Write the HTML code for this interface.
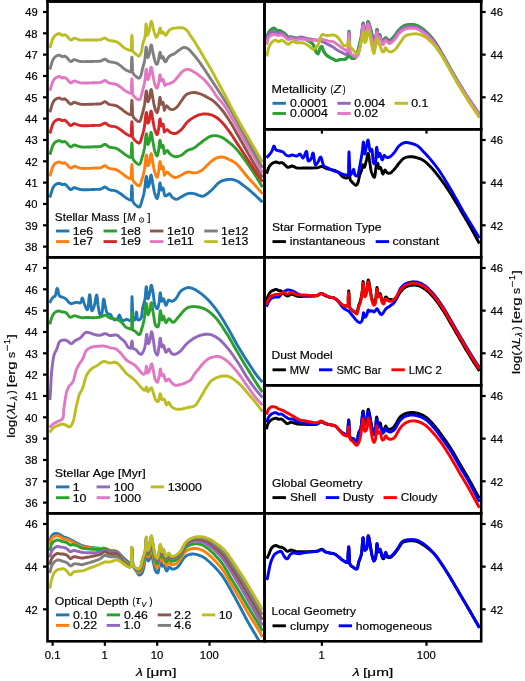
<!DOCTYPE html><html><head><meta charset="utf-8"><style>html,body{margin:0;padding:0;background:#fff;overflow:hidden}svg{display:block;will-change:transform}</style></head><body><svg width="525" height="681" viewBox="0 0 525 681" font-family="Liberation Sans, sans-serif">
<rect width="525" height="681" fill="#fff"/>
<defs>
<clipPath id="cL1"><rect x="47.5" y="1.3" width="217.0" height="256.0"/></clipPath>
<clipPath id="cL2"><rect x="47.5" y="257.3" width="217.0" height="255.99999999999994"/></clipPath>
<clipPath id="cL3"><rect x="47.5" y="513.3" width="217.0" height="128.0"/></clipPath>
<clipPath id="cR1"><rect x="264.5" y="1.3" width="216.7" height="128.0"/></clipPath>
<clipPath id="cR2"><rect x="264.5" y="129.3" width="216.7" height="128.0"/></clipPath>
<clipPath id="cR3"><rect x="264.5" y="257.3" width="216.7" height="128.0"/></clipPath>
<clipPath id="cR4"><rect x="264.5" y="385.3" width="216.7" height="127.99999999999994"/></clipPath>
<clipPath id="cR5"><rect x="264.5" y="513.3" width="216.7" height="128.0"/></clipPath>
</defs>
<polyline clip-path="url(#cL1)" points="49.80,197.50 50.03,196.87 50.30,196.10 50.63,195.04 51.03,193.62 51.50,192.00 52.01,190.34 52.55,188.82 53.10,187.60 53.79,186.43 54.52,185.48 55.40,184.70 56.64,183.98 58.06,183.46 59.40,183.30 60.42,183.67 61.37,184.31 62.30,184.70 63.47,184.37 64.60,184.10 65.73,184.79 66.90,185.90 67.84,186.88 68.85,188.08 69.89,189.11 70.90,189.60 71.94,189.16 72.96,188.21 74.00,187.60 74.97,187.70 75.96,188.10 77.00,188.50 78.20,188.89 79.46,189.29 81.00,189.60 82.08,189.70 83.34,189.75 84.75,189.77 86.26,189.75 87.83,189.71 89.41,189.65 90.96,189.59 92.44,189.52 93.80,189.45 95.00,189.40 96.38,189.37 97.65,189.35 98.83,189.32 99.93,189.22 101.00,189.00 102.42,188.28 103.72,187.39 105.00,187.00 105.97,187.35 106.91,188.09 107.89,188.93 109.00,189.60 110.28,189.97 111.71,190.20 113.20,190.39 114.66,190.62 116.00,191.00 117.36,191.63 118.62,192.38 119.83,193.19 121.00,194.00 122.04,194.77 123.03,195.57 124.00,196.36 125.00,197.10 126.02,197.79 127.07,198.46 128.09,199.05 129.00,199.50 130.05,199.98 130.90,200.00 131.26,199.27 131.39,197.96 131.39,196.31 131.37,194.58 131.40,193.00 131.50,191.32 131.60,189.39 131.70,187.58 131.80,186.23 131.90,185.70 132.00,186.22 132.10,187.54 132.20,189.34 132.30,191.27 132.40,193.00 132.44,194.41 132.43,195.91 132.41,197.42 132.45,198.88 132.60,200.23 132.90,201.40 133.43,202.49 134.11,203.43 134.88,204.25 135.70,205.00 136.88,206.03 138.16,206.91 139.30,207.10 139.91,206.59 140.44,205.61 140.89,204.32 141.31,202.85 141.70,201.36 142.10,200.00 142.52,198.65 142.92,197.30 143.29,195.92 143.64,194.49 143.97,192.99 144.30,191.40 144.53,190.08 144.74,188.53 144.95,186.81 145.14,185.00 145.33,183.18 145.52,181.43 145.70,179.83 145.88,178.44 146.05,177.36 146.23,176.65 146.40,176.40 146.59,176.85 146.76,178.05 146.92,179.75 147.08,181.70 147.24,183.66 147.43,185.38 147.65,186.61 147.90,187.10 148.35,186.68 148.84,185.59 149.30,184.30 149.60,183.10 149.87,181.51 150.13,179.73 150.37,177.98 150.61,176.47 150.85,175.40 151.10,175.00 151.36,175.35 151.61,176.29 151.86,177.67 152.11,179.32 152.37,181.08 152.63,182.79 152.90,184.30 153.18,185.75 153.45,187.26 153.72,188.79 154.01,190.30 154.31,191.75 154.64,193.10 155.00,194.30 155.50,195.73 156.06,197.14 156.61,198.20 157.10,198.60 157.55,197.99 157.93,196.54 158.27,194.70 158.60,192.90 158.83,191.45 159.04,189.67 159.23,187.77 159.41,185.94 159.60,184.39 159.79,183.31 160.00,182.90 160.25,183.62 160.48,185.35 160.73,187.43 161.03,189.20 161.40,190.00 162.13,188.95 162.90,187.90 163.26,188.48 163.55,189.82 163.83,191.57 164.13,193.38 164.51,194.87 165.00,195.70 166.02,195.80 167.10,195.40 168.21,194.34 169.30,193.60 170.18,194.34 171.07,195.80 172.10,197.10 173.06,197.86 174.12,198.57 175.25,199.09 176.40,199.30 177.49,199.09 178.62,198.55 179.78,197.83 180.94,197.07 182.10,196.40 183.25,195.79 184.40,195.13 185.56,194.51 186.72,193.97 187.90,193.60 189.30,193.38 190.72,193.32 192.16,193.41 193.60,193.60 194.90,193.91 196.26,194.36 197.60,194.87 198.86,195.35 200.00,195.70 201.04,196.02 201.96,196.25 203.00,196.20 203.99,195.85 205.10,195.25 206.30,194.45 207.55,193.52 208.80,192.51 210.03,191.48 211.20,190.50 212.24,189.55 213.26,188.49 214.27,187.37 215.26,186.23 216.25,185.12 217.23,184.08 218.22,183.16 219.20,182.40 220.35,181.69 221.49,181.13 222.62,180.68 223.79,180.31 225.00,180.00 226.39,179.72 227.85,179.51 229.34,179.40 230.80,179.39 232.20,179.50 233.44,179.73 234.66,180.08 235.85,180.51 236.97,180.99 238.00,181.50 239.24,182.26 240.35,183.11 241.50,184.00 242.57,184.77 243.67,185.56 244.81,186.39 246.00,187.30 247.01,188.11 248.04,188.95 249.11,189.85 250.20,190.78 251.33,191.77 252.50,192.80 253.44,193.65 254.46,194.57 255.52,195.55 256.61,196.56 257.71,197.58 258.79,198.60 259.83,199.59 260.81,200.53 261.71,201.41 262.50,202.20" fill="none" stroke="#1f77b4" stroke-width="2.9" stroke-linejoin="round" stroke-linecap="butt"/>
<polyline clip-path="url(#cL1)" points="49.80,176.17 50.03,175.55 50.03,175.53 50.30,174.77 50.30,174.77 50.59,173.84 50.63,173.72 50.94,172.62 51.03,172.29 51.33,171.26 51.50,170.67 51.75,169.86 52.01,169.01 52.18,168.55 52.55,167.49 52.60,167.39 53.10,166.27 53.13,166.22 53.67,165.29 53.79,165.10 54.30,164.43 54.52,164.15 55.33,163.44 55.40,163.37 56.50,162.74 56.64,162.66 57.43,162.37 58.06,162.13 58.42,162.09 59.40,161.97 59.40,161.97 60.39,162.33 60.42,162.34 61.35,162.97 61.37,162.98 62.30,163.37 63.47,163.05 63.47,163.04 64.60,162.77 65.73,163.46 65.74,163.46 66.90,164.57 67.84,165.55 67.85,165.57 68.85,166.75 68.86,166.76 69.89,167.78 69.89,167.79 70.90,168.27 71.93,167.83 71.94,167.83 72.96,166.88 72.96,166.88 74.00,166.27 74.97,166.37 74.99,166.38 75.96,166.77 76.00,166.78 77.00,167.17 77.95,167.48 78.20,167.56 78.90,167.79 79.46,167.97 80.00,168.07 81.00,168.27 81.20,168.29 82.08,168.37 82.56,168.39 83.34,168.42 84.02,168.43 84.75,168.44 85.52,168.43 86.26,168.42 87.00,168.40 87.83,168.38 88.32,168.36 89.41,168.33 89.67,168.31 90.96,168.26 91.04,168.25 92.40,168.19 92.44,168.19 93.73,168.13 93.80,168.12 95.00,168.07 96.28,168.04 96.38,168.04 97.53,168.03 97.65,168.03 98.74,167.99 98.83,167.99 99.90,167.89 99.93,167.89 101.00,167.67 102.42,166.95 102.43,166.94 103.72,166.07 103.76,166.05 105.00,165.67 105.97,166.02 106.01,166.04 106.91,166.76 106.94,166.78 107.89,167.60 108.00,167.67 109.00,168.27 109.15,168.32 110.28,168.64 110.44,168.67 111.71,168.88 111.75,168.88 113.00,169.04 113.20,169.06 114.38,169.25 114.66,169.29 115.71,169.59 116.00,169.67 117.00,170.13 117.36,170.30 118.03,170.70 118.62,171.05 119.03,171.32 119.83,171.86 120.01,171.99 121.00,172.67 122.00,173.41 122.04,173.44 122.98,174.20 123.03,174.24 123.97,175.01 124.00,175.03 125.00,175.77 126.02,176.46 126.36,176.68 127.07,177.13 127.76,177.53 128.09,177.72 129.00,178.17 130.05,178.66 130.06,178.66 130.90,178.67 130.90,178.67 131.23,178.00 131.26,177.94 131.38,176.72 131.39,176.63 131.39,174.98 131.39,173.25 131.40,171.67 131.42,171.40 131.42,171.39 131.42,171.39 131.42,171.39 131.48,170.27 131.50,169.99 131.57,168.71 131.60,168.06 131.65,167.16 131.70,166.25 131.73,165.80 131.80,164.90 131.82,164.81 131.90,164.37 131.98,164.80 132.00,164.89 132.06,165.72 132.10,166.22 132.15,166.99 132.20,168.01 132.23,168.50 132.30,169.94 132.31,170.12 132.40,171.67 132.44,173.08 132.44,174.58 132.44,176.09 132.45,176.98 132.45,177.00 132.45,177.01 132.45,177.55 132.50,177.97 132.60,178.90 132.67,179.16 132.90,180.07 133.00,180.28 133.43,181.16 133.74,181.59 134.11,182.10 134.69,182.72 134.88,182.92 135.70,183.67 136.80,184.63 136.88,184.70 137.97,185.45 138.16,185.58 139.00,185.72 139.30,185.77 139.78,185.37 139.91,185.26 140.42,184.31 140.44,184.28 140.89,182.99 141.00,182.62 141.31,181.52 141.36,181.34 141.66,180.19 141.70,180.04 141.94,179.24 142.10,178.67 142.19,178.38 142.44,177.58 142.52,177.32 142.71,176.69 142.92,175.97 143.00,175.65 143.29,174.59 143.40,174.13 143.64,173.16 143.83,172.30 143.97,171.66 144.26,170.27 144.30,170.07 144.53,168.76 144.66,167.78 144.74,167.20 144.95,165.48 145.00,164.98 145.14,163.67 145.20,163.10 145.33,161.85 145.36,161.56 145.49,160.33 145.52,160.10 145.60,159.37 145.69,158.54 145.70,158.50 145.78,157.85 145.87,157.15 145.88,157.11 145.98,156.50 146.05,156.03 146.10,155.83 146.23,155.32 146.24,155.30 146.37,155.12 146.40,155.07 146.50,155.31 146.59,155.53 146.63,155.84 146.76,156.73 146.78,156.99 146.92,158.43 146.96,158.89 147.08,160.38 147.16,161.34 147.24,162.33 147.40,163.77 147.43,164.05 147.65,165.28 147.89,165.75 147.90,165.77 148.35,165.35 148.45,165.13 148.84,164.26 149.00,163.81 149.30,162.97 149.35,162.77 149.60,161.78 149.70,161.17 149.87,160.18 150.05,158.91 150.13,158.40 150.37,156.65 150.40,156.45 150.61,155.14 150.74,154.54 150.85,154.07 151.08,153.71 151.10,153.67 151.36,154.02 151.40,154.19 151.61,154.96 151.73,155.66 151.86,156.34 152.06,157.62 152.11,157.99 152.37,159.75 152.37,159.76 152.63,161.46 152.68,161.76 152.90,162.97 153.00,163.49 153.18,164.42 153.31,165.17 153.45,165.93 153.62,166.87 153.72,167.46 153.93,168.54 154.01,168.98 154.25,170.14 154.31,170.43 154.60,171.62 154.64,171.77 155.00,172.97 155.13,173.33 155.50,174.40 155.69,174.87 156.06,175.81 156.30,176.27 156.61,176.87 156.95,177.15 157.10,177.27 157.55,176.66 157.65,176.27 157.93,175.22 158.27,173.37 158.30,173.22 158.60,171.57 158.75,170.64 158.83,170.12 159.04,168.34 159.17,167.04 159.23,166.44 159.41,164.61 159.57,163.33 159.60,163.06 159.79,161.98 159.94,161.68 160.00,161.57 160.25,162.29 160.30,162.70 160.48,164.02 160.66,165.49 160.73,166.10 160.96,167.48 161.03,167.87 161.29,168.43 161.40,168.67 161.70,168.24 162.13,167.62 162.30,167.39 162.90,166.57 163.00,166.73 163.26,167.15 164.30,175.20 165.31,173.94 166.32,172.68 167.30,172.10 168.07,172.52 168.81,173.46 169.70,174.40 170.61,175.11 171.66,175.90 172.78,176.64 173.95,177.22 175.10,177.50 176.28,177.41 177.50,177.01 178.74,176.44 179.98,175.79 181.20,175.20 182.43,174.57 183.64,173.83 184.85,173.11 186.09,172.49 187.40,172.10 188.63,172.03 189.92,172.18 191.24,172.45 192.57,172.73 193.86,172.92 195.10,172.90 196.41,172.67 197.68,172.31 198.91,171.84 200.12,171.27 201.30,170.60 202.37,169.85 203.40,168.96 204.41,167.98 205.41,166.96 206.40,165.95 207.40,165.00 208.36,164.12 209.31,163.22 210.25,162.34 211.20,161.49 212.15,160.70 213.10,160.00 214.31,159.21 215.52,158.51 216.74,157.93 218.00,157.50 219.29,157.22 220.62,157.07 221.96,157.06 223.30,157.20 224.43,157.47 225.56,157.87 226.69,158.37 227.84,158.93 229.00,159.50 230.13,160.04 231.28,160.58 232.44,161.16 233.61,161.82 234.80,162.59 236.00,163.50 236.88,164.28 237.79,165.17 238.70,166.16 239.63,167.22 240.56,168.33 241.50,169.49 242.44,170.67 243.37,171.86 244.30,173.03 245.21,174.17 246.12,175.27 247.00,176.30 248.03,177.47 249.06,178.61 250.08,179.74 251.09,180.86 252.09,181.95 253.07,183.04 254.03,184.10 254.98,185.16 255.90,186.20 256.92,187.36 257.93,188.52 258.92,189.66 259.89,190.77 260.81,191.86 261.68,192.90 262.50,193.90" fill="none" stroke="#ff7f0e" stroke-width="2.9" stroke-linejoin="round" stroke-linecap="butt"/>
<polyline clip-path="url(#cL1)" points="49.80,154.84 50.03,154.22 50.03,154.20 50.30,153.44 50.30,153.44 50.59,152.51 50.63,152.39 50.94,151.30 51.03,150.96 51.33,149.93 51.50,149.34 51.75,148.54 52.01,147.68 52.18,147.22 52.55,146.16 52.60,146.06 53.10,144.94 53.13,144.89 53.67,143.96 53.79,143.77 54.30,143.10 54.52,142.82 55.33,142.11 55.40,142.04 56.50,141.41 56.64,141.33 57.43,141.04 58.06,140.81 58.42,140.76 59.40,140.64 59.40,140.64 60.39,141.00 60.42,141.01 61.35,141.64 61.37,141.65 62.30,142.04 63.47,141.72 63.47,141.72 64.60,141.44 65.73,142.13 65.74,142.13 66.90,143.24 67.84,144.22 67.85,144.24 68.85,145.42 68.86,145.43 69.89,146.45 69.89,146.46 70.90,146.94 71.93,146.50 71.94,146.50 72.96,145.55 72.96,145.55 74.00,144.94 74.97,145.05 74.99,145.05 75.96,145.44 76.00,145.46 77.00,145.84 77.95,146.16 78.20,146.24 78.90,146.46 79.46,146.64 80.00,146.74 81.00,146.94 81.20,146.96 82.08,147.04 82.56,147.06 83.34,147.09 84.02,147.10 84.75,147.11 85.52,147.10 86.26,147.09 87.00,147.07 87.83,147.05 88.32,147.04 89.41,147.00 89.67,146.99 90.96,146.93 91.04,146.93 92.40,146.86 92.44,146.86 93.73,146.80 93.80,146.80 95.00,146.74 96.28,146.71 96.38,146.71 97.53,146.70 97.65,146.70 98.74,146.66 98.83,146.66 99.90,146.56 99.93,146.56 101.00,146.34 102.42,145.63 102.43,145.61 103.72,144.74 103.76,144.72 105.00,144.34 105.97,144.69 106.01,144.72 106.91,145.43 106.94,145.45 107.89,146.27 108.00,146.34 109.00,146.94 109.15,146.99 110.28,147.32 110.44,147.34 111.71,147.55 111.75,147.55 113.00,147.71 113.20,147.73 114.38,147.92 114.66,147.97 115.71,148.26 116.00,148.34 117.00,148.80 117.36,148.97 118.03,149.37 118.62,149.72 119.03,149.99 119.83,150.53 120.01,150.66 121.00,151.34 122.00,152.08 122.04,152.11 122.98,152.87 123.03,152.91 123.97,153.68 124.00,153.70 125.00,154.44 126.02,155.13 126.36,155.35 127.07,155.80 127.76,156.20 128.09,156.40 129.00,156.84 130.05,157.33 130.06,157.33 130.90,157.34 130.90,157.34 131.23,156.67 131.26,156.61 131.38,155.39 131.39,155.30 131.39,153.65 131.39,151.92 131.40,150.34 131.42,150.07 131.42,150.07 131.42,150.06 131.42,150.06 131.48,148.94 131.50,148.66 131.57,147.38 131.60,146.73 131.65,145.83 131.70,144.92 131.73,144.47 131.80,143.57 131.82,143.48 131.90,143.04 131.98,143.47 132.00,143.56 132.06,144.39 132.10,144.89 132.15,145.67 132.20,146.69 132.23,147.18 132.30,148.62 132.31,148.80 132.40,150.34 132.44,151.76 132.44,153.25 132.44,154.76 132.45,155.65 132.45,155.67 132.45,155.68 132.45,156.22 132.50,156.64 132.60,157.57 132.67,157.84 132.90,158.74 133.00,158.95 133.43,159.83 133.74,160.26 134.11,160.77 134.69,161.39 134.88,161.60 135.70,162.34 136.80,163.30 136.88,163.37 137.97,164.12 138.16,164.25 139.00,164.39 139.30,164.44 139.78,164.04 139.91,163.93 140.42,162.98 140.44,162.95 140.89,161.66 141.00,161.29 141.31,160.20 141.36,160.02 141.66,158.86 141.70,158.71 141.94,157.91 142.10,157.34 142.19,157.06 142.44,156.25 142.52,156.00 142.71,155.36 142.92,154.64 143.00,154.33 143.29,153.26 143.40,152.80 143.64,151.83 143.83,150.98 143.97,150.33 144.26,148.94 144.30,148.74 144.53,147.43 144.66,146.45 144.74,145.87 144.95,144.15 145.00,143.65 145.14,142.34 145.20,141.77 145.33,140.52 145.36,140.23 145.49,139.00 145.52,138.77 145.60,138.04 145.69,137.21 145.70,137.17 145.78,136.53 145.87,135.82 145.88,135.79 145.98,135.17 146.05,134.70 146.10,134.51 146.23,134.00 146.24,133.98 146.37,133.79 146.40,133.74 146.50,133.98 146.59,134.20 146.63,134.51 146.76,135.40 146.78,135.66 146.92,137.10 146.96,137.56 147.08,139.05 147.16,140.01 147.24,141.00 147.40,142.44 147.43,142.72 147.65,143.95 147.89,144.42 147.90,144.44 148.35,144.02 148.45,143.80 148.84,142.94 149.00,142.48 149.30,141.64 149.35,141.44 149.60,140.45 149.70,139.84 149.87,138.85 150.05,137.58 150.13,137.07 150.37,135.32 150.40,135.12 150.61,133.81 150.74,133.21 150.85,132.74 151.08,132.38 151.10,132.34 151.36,132.69 151.40,132.86 151.61,133.63 151.73,134.33 151.86,135.01 152.06,136.29 152.11,136.66 152.37,138.42 152.37,138.43 152.63,140.13 152.68,140.43 152.90,141.64 153.00,142.16 153.18,143.09 153.31,143.84 153.45,144.60 153.62,145.54 153.72,146.14 153.93,147.22 154.01,147.65 154.25,148.81 154.31,149.10 154.60,150.29 154.64,150.44 155.00,151.64 155.13,152.00 155.50,153.07 155.69,153.54 156.06,154.48 156.30,154.94 156.61,155.55 156.95,155.82 157.10,155.94 157.55,155.33 157.65,154.95 157.93,153.89 158.27,152.04 158.30,151.89 158.60,150.24 158.75,149.31 158.83,148.79 159.04,147.01 159.17,145.71 159.23,145.11 159.41,143.29 159.57,142.00 159.60,141.73 159.79,140.65 159.94,140.35 160.00,140.24 160.25,140.96 160.30,141.37 160.48,142.69 160.66,144.16 160.73,144.77 160.96,146.15 161.03,146.55 161.29,147.10 161.40,147.34 161.70,146.91 162.13,146.30 162.30,146.06 162.90,145.24 163.00,145.40 163.26,145.82 164.30,153.60 165.32,152.33 166.34,151.05 167.30,150.50 168.07,151.12 168.79,152.39 169.70,153.60 170.60,154.35 171.64,155.12 172.76,155.83 173.93,156.39 175.10,156.70 176.28,156.74 177.52,156.56 178.76,156.21 180.00,155.74 181.20,155.20 182.26,154.57 183.29,153.78 184.30,152.91 185.32,152.01 186.34,151.19 187.40,150.50 188.62,149.95 189.87,149.53 191.13,149.16 192.38,148.75 193.60,148.20 194.65,147.56 195.67,146.83 196.68,146.04 197.68,145.21 198.69,144.39 199.70,143.60 200.74,142.81 201.80,142.01 202.87,141.20 203.91,140.41 204.93,139.67 205.90,139.00 206.96,138.27 207.95,137.59 208.94,136.99 210.00,136.50 211.18,136.11 212.42,135.81 213.70,135.64 215.00,135.60 216.17,135.69 217.38,135.88 218.59,136.17 219.81,136.54 221.00,137.00 222.27,137.60 223.51,138.32 224.75,139.14 226.01,140.04 227.30,141.00 228.34,141.80 229.41,142.63 230.49,143.52 231.58,144.45 232.69,145.43 233.80,146.47 234.90,147.56 236.00,148.70 236.84,149.63 237.70,150.61 238.56,151.65 239.42,152.72 240.29,153.83 241.16,154.96 242.02,156.11 242.88,157.28 243.73,158.44 244.57,159.61 245.39,160.76 246.21,161.89 247.00,163.00 247.87,164.22 248.73,165.44 249.57,166.67 250.41,167.89 251.23,169.12 252.04,170.34 252.84,171.55 253.63,172.75 254.40,173.95 255.16,175.13 255.90,176.30 256.70,177.58 257.49,178.87 258.27,180.16 259.03,181.45 259.78,182.71 260.50,183.93 261.20,185.11 261.86,186.24 262.50,187.30" fill="none" stroke="#2ca02c" stroke-width="2.9" stroke-linejoin="round" stroke-linecap="butt"/>
<polyline clip-path="url(#cL1)" points="49.80,133.51 50.03,132.89 50.03,132.87 50.30,132.11 50.30,132.11 50.59,131.18 50.63,131.06 50.94,129.97 51.03,129.63 51.33,128.60 51.50,128.01 51.75,127.21 52.01,126.35 52.18,125.89 52.55,124.83 52.60,124.73 53.10,123.61 53.13,123.56 53.67,122.63 53.79,122.44 54.30,121.77 54.52,121.49 55.33,120.78 55.40,120.71 56.50,120.08 56.64,120.00 57.43,119.71 58.06,119.48 58.42,119.43 59.40,119.31 59.40,119.31 60.39,119.67 60.42,119.68 61.35,120.31 61.37,120.32 62.30,120.71 63.47,120.39 63.47,120.39 64.60,120.11 65.73,120.80 65.74,120.81 66.90,121.91 67.84,122.90 67.85,122.91 68.85,124.10 68.86,124.10 69.89,125.12 69.89,125.13 70.90,125.61 71.93,125.17 71.94,125.17 72.96,124.22 72.96,124.22 74.00,123.61 74.97,123.72 74.99,123.73 75.96,124.11 76.00,124.13 77.00,124.51 77.95,124.83 78.20,124.91 78.90,125.13 79.46,125.31 80.00,125.42 81.00,125.61 81.20,125.63 82.08,125.71 82.56,125.73 83.34,125.77 84.02,125.77 84.75,125.78 85.52,125.77 86.26,125.77 87.00,125.75 87.83,125.73 88.32,125.71 89.41,125.67 89.67,125.66 90.96,125.60 91.04,125.60 92.40,125.53 92.44,125.53 93.73,125.47 93.80,125.47 95.00,125.41 96.28,125.38 96.38,125.38 97.53,125.37 97.65,125.37 98.74,125.34 98.83,125.33 99.90,125.23 99.93,125.23 101.00,125.01 102.42,124.30 102.43,124.29 103.72,123.41 103.76,123.40 105.00,123.01 105.97,123.36 106.01,123.39 106.91,124.10 106.94,124.13 107.89,124.95 108.00,125.01 109.00,125.61 109.15,125.66 110.28,125.99 110.44,126.01 111.71,126.22 111.75,126.22 113.00,126.38 113.20,126.40 114.38,126.59 114.66,126.64 115.71,126.93 116.00,127.01 117.00,127.48 117.36,127.64 118.03,128.04 118.62,128.39 119.03,128.66 119.83,129.20 120.01,129.33 121.00,130.01 122.00,130.75 122.04,130.78 122.98,131.54 123.03,131.58 123.97,132.35 124.00,132.38 125.00,133.11 126.02,133.80 126.36,134.02 127.07,134.47 127.76,134.87 128.09,135.07 129.00,135.51 130.05,136.00 130.06,136.00 130.90,136.01 130.90,136.01 131.23,135.34 131.26,135.28 131.38,134.06 131.39,133.97 131.39,132.32 131.39,130.59 131.40,129.01 131.42,128.74 131.42,128.74 131.42,128.74 131.42,128.73 131.48,127.61 131.50,127.33 131.57,126.05 131.60,125.40 131.65,124.50 131.70,123.59 131.73,123.14 131.80,122.24 131.82,122.15 131.90,121.71 131.98,122.14 132.00,122.23 132.06,123.06 132.10,123.56 132.15,124.34 132.20,125.36 132.23,125.85 132.30,127.29 132.31,127.47 132.40,129.01 132.44,130.43 132.44,131.92 132.44,133.43 132.45,134.33 132.45,134.34 132.45,134.35 132.45,134.89 132.50,135.31 132.60,136.24 132.67,136.51 132.90,137.41 133.00,137.62 133.43,138.50 133.74,138.93 134.11,139.44 134.69,140.06 134.88,140.27 135.70,141.01 136.80,141.98 136.88,142.04 137.97,142.80 138.16,142.93 139.00,143.06 139.30,143.11 139.78,142.71 139.91,142.60 140.42,141.65 140.44,141.63 140.89,140.33 141.00,139.96 141.31,138.87 141.36,138.69 141.66,137.53 141.70,137.38 141.94,136.58 142.10,136.01 142.19,135.73 142.44,134.92 142.52,134.67 142.71,134.03 142.92,133.31 143.00,133.00 143.29,131.93 143.40,131.47 143.64,130.50 143.83,129.65 143.97,129.00 144.26,127.61 144.30,127.41 144.53,126.10 144.66,125.12 144.74,124.54 144.95,122.82 145.00,122.32 145.14,121.01 145.20,120.44 145.33,119.19 145.36,118.90 145.49,117.67 145.52,117.44 145.60,116.71 145.69,115.88 145.70,115.84 145.78,115.20 145.87,114.49 145.88,114.46 145.98,113.84 146.05,113.37 146.10,113.18 146.23,112.67 146.24,112.65 146.37,112.46 146.40,112.41 146.50,112.65 146.59,112.87 146.63,113.18 146.76,114.07 146.78,114.33 146.92,115.77 146.96,116.24 147.08,117.72 147.16,118.68 147.24,119.68 147.40,121.11 147.43,121.39 147.65,122.62 147.89,123.09 147.90,123.11 148.35,122.69 148.45,122.47 148.84,121.61 149.00,121.15 149.30,120.31 149.35,120.11 149.60,119.12 149.70,118.51 149.87,117.52 150.05,116.26 150.13,115.75 150.37,113.99 150.40,113.79 150.61,112.48 150.74,111.88 150.85,111.42 151.08,111.05 151.10,111.01 151.36,111.36 151.40,111.53 151.61,112.31 151.73,113.00 151.86,113.68 152.06,114.96 152.11,115.33 152.37,117.09 152.37,117.10 152.63,118.81 152.68,119.10 152.90,120.31 153.00,120.84 153.18,121.76 153.31,122.51 153.45,123.27 153.62,124.22 153.72,124.81 153.93,125.89 154.01,126.32 154.25,127.48 154.31,127.77 154.60,128.96 154.64,129.11 155.00,130.31 155.13,130.67 155.50,131.74 155.69,132.21 156.06,133.15 156.30,133.61 156.61,134.22 156.95,134.49 157.10,134.61 157.55,134.00 157.65,133.62 157.93,132.56 158.27,130.72 158.30,130.56 158.60,128.91 158.75,127.98 158.83,127.46 159.04,125.69 159.17,124.38 159.23,123.78 159.41,121.96 159.57,120.67 159.60,120.40 159.79,119.32 159.94,119.03 160.00,118.91 160.25,119.63 160.30,120.04 160.48,121.36 160.66,122.83 160.73,123.45 160.96,124.82 161.03,125.22 161.29,125.77 161.40,126.01 161.70,125.59 162.13,124.97 162.30,124.73 162.90,123.91 163.00,124.07 163.26,124.49 164.30,132.00 165.32,131.05 166.33,130.10 167.30,129.70 168.07,130.18 168.80,131.14 169.70,132.00 170.87,132.62 172.24,133.19 173.69,133.57 175.10,133.60 176.33,133.25 177.58,132.60 178.81,131.73 180.03,130.74 181.20,129.70 182.12,128.76 182.99,127.68 183.84,126.52 184.68,125.32 185.53,124.14 186.43,123.01 187.40,122.00 188.42,121.09 189.49,120.22 190.60,119.39 191.74,118.60 192.88,117.87 194.00,117.20 195.10,116.60 196.37,115.98 197.65,115.43 198.91,114.97 200.13,114.59 201.30,114.30 202.76,114.07 204.15,114.00 205.50,114.00 206.66,114.02 207.79,114.09 209.00,114.30 210.11,114.59 211.31,114.97 212.56,115.43 213.80,115.98 215.00,116.60 216.06,117.24 217.10,117.95 218.12,118.73 219.14,119.58 220.16,120.51 221.20,121.50 222.09,122.42 223.00,123.41 223.90,124.47 224.82,125.58 225.73,126.73 226.63,127.91 227.53,129.11 228.42,130.31 229.30,131.50 230.12,132.65 230.94,133.82 231.74,135.01 232.54,136.22 233.34,137.44 234.13,138.67 234.92,139.91 235.71,141.14 236.50,142.38 237.30,143.60 238.11,144.83 238.92,146.07 239.73,147.31 240.54,148.55 241.35,149.79 242.16,151.04 242.97,152.28 243.78,153.52 244.59,154.76 245.40,156.00 246.21,157.23 247.01,158.46 247.81,159.68 248.62,160.90 249.42,162.12 250.23,163.34 251.04,164.57 251.85,165.81 252.67,167.05 253.50,168.30 254.31,169.53 255.16,170.80 256.03,172.11 256.91,173.43 257.79,174.75 258.66,176.06 259.51,177.33 260.33,178.56 261.11,179.72 261.84,180.81 262.50,181.80" fill="none" stroke="#d62728" stroke-width="2.9" stroke-linejoin="round" stroke-linecap="butt"/>
<polyline clip-path="url(#cL1)" points="49.80,112.18 50.03,111.55 50.03,111.54 50.30,110.78 50.30,110.78 50.59,109.85 50.63,109.72 50.94,108.63 51.03,108.30 51.33,107.27 51.50,106.68 51.75,105.87 52.01,105.02 52.18,104.55 52.55,103.50 52.60,103.39 53.10,102.28 53.13,102.23 53.67,101.30 53.79,101.11 54.30,100.44 54.52,100.16 55.33,99.45 55.40,99.38 56.50,98.74 56.64,98.66 57.43,98.37 58.06,98.13 58.42,98.08 59.40,97.97 59.40,97.97 60.39,98.33 60.42,98.34 61.35,98.98 61.37,98.99 62.30,99.39 63.47,99.06 63.47,99.06 64.60,98.78 65.73,99.46 65.74,99.46 66.90,100.56 67.84,101.54 67.85,101.56 68.85,102.75 68.86,102.75 69.89,103.78 69.89,103.79 70.90,104.28 71.93,103.84 71.94,103.84 72.96,102.89 72.96,102.89 74.00,102.29 74.97,102.39 74.99,102.39 75.96,102.78 76.00,102.79 77.00,103.18 77.95,103.49 78.20,103.57 78.90,103.80 79.46,103.97 80.00,104.08 81.00,104.28 81.20,104.29 82.08,104.37 82.56,104.39 83.34,104.42 84.02,104.43 84.75,104.43 85.52,104.42 86.26,104.41 87.00,104.40 87.83,104.38 88.32,104.36 89.41,104.32 89.67,104.31 90.96,104.26 91.04,104.26 92.40,104.20 92.44,104.19 93.73,104.14 93.80,104.13 95.00,104.08 96.28,104.05 96.38,104.05 97.53,104.04 97.65,104.03 98.74,104.00 98.83,104.00 99.90,103.90 99.93,103.89 101.00,103.68 102.42,102.97 102.43,102.96 103.72,102.09 103.76,102.08 105.00,101.70 105.97,102.05 106.01,102.08 106.91,102.80 106.94,102.82 107.89,103.63 108.00,103.70 109.00,104.29 109.15,104.33 110.28,104.65 110.44,104.68 111.71,104.88 111.75,104.89 113.00,105.05 113.20,105.07 114.38,105.26 114.66,105.31 115.71,105.60 116.00,105.68 117.00,106.14 117.36,106.31 118.03,106.71 118.62,107.06 119.03,107.34 119.83,107.88 120.01,108.01 121.00,108.70 122.00,109.44 122.04,109.48 122.98,110.24 123.03,110.28 123.97,111.05 124.00,111.07 125.00,111.81 126.02,112.49 126.36,112.71 127.07,113.15 127.76,113.55 128.09,113.73 129.00,114.18 130.05,114.66 130.06,114.66 130.90,114.68 130.90,114.68 131.23,114.01 131.26,113.94 131.38,112.74 131.39,112.63 131.39,111.06 131.39,109.41 131.40,107.91 131.42,107.61 131.42,107.53 131.42,107.46 131.42,107.38 131.48,106.25 131.50,105.96 131.57,104.68 131.60,104.03 131.65,103.12 131.70,102.21 131.73,101.76 131.80,100.86 131.82,100.77 131.90,100.33 131.98,100.75 132.00,100.85 132.06,101.68 132.10,102.19 132.15,102.97 132.20,103.99 132.23,104.48 132.30,105.93 132.31,106.11 132.40,107.65 132.44,109.05 132.44,110.47 132.44,111.91 132.45,112.77 132.45,112.86 132.45,112.94 132.45,113.46 132.50,113.93 132.60,114.85 132.67,115.13 132.90,116.03 133.00,116.24 133.43,117.11 133.74,117.54 134.11,118.04 134.69,118.66 134.88,118.86 135.70,119.60 136.80,120.56 136.88,120.63 137.97,121.38 138.16,121.51 139.00,121.65 139.30,121.68 139.78,121.28 139.91,121.17 140.42,120.21 140.44,120.19 140.89,118.90 141.00,118.53 141.31,117.45 141.36,117.27 141.66,116.11 141.70,115.95 141.94,115.13 142.10,114.55 142.19,114.25 142.44,113.42 142.52,113.15 142.71,112.50 142.92,111.77 143.00,111.45 143.29,110.39 143.40,109.93 143.64,108.98 143.83,108.14 143.97,107.50 144.26,106.14 144.30,105.95 144.53,104.66 144.66,103.71 144.74,103.14 144.95,101.46 145.00,100.98 145.14,99.69 145.20,99.13 145.33,97.87 145.36,97.58 145.49,96.32 145.52,96.08 145.60,95.31 145.69,94.43 145.70,94.39 145.78,93.70 145.87,92.96 145.88,92.93 145.98,92.30 146.05,91.85 146.10,91.65 146.23,91.19 146.24,91.18 146.37,91.06 146.40,91.04 146.50,91.33 146.59,91.61 146.63,91.94 146.76,92.87 146.78,93.13 146.92,94.57 146.96,95.04 147.08,96.48 147.16,97.43 147.24,98.38 147.40,99.76 147.43,100.02 147.65,101.17 147.89,101.61 147.90,101.63 148.35,101.16 148.45,100.94 148.84,100.06 149.00,99.60 149.30,98.74 149.35,98.54 149.60,97.54 149.70,96.94 149.87,95.95 150.05,94.70 150.13,94.19 150.37,92.46 150.40,92.26 150.61,90.97 150.74,90.37 150.85,89.91 151.08,89.52 151.10,89.49 151.36,89.80 151.40,89.96 151.61,90.71 151.73,91.37 151.86,92.04 152.06,93.29 152.11,93.66 152.37,95.39 152.37,95.40 152.63,97.09 152.68,97.38 152.90,98.58 153.00,99.10 153.18,100.01 153.31,100.75 153.45,101.50 153.62,102.43 153.72,103.01 153.93,104.08 154.01,104.50 154.25,105.66 154.31,105.94 154.60,107.11 154.64,107.27 155.00,108.46 155.13,108.83 155.50,109.90 155.69,110.37 156.06,111.28 156.30,111.74 156.61,112.29 156.95,112.54 157.10,112.64 157.55,112.02 157.65,111.65 157.93,110.61 158.27,108.82 158.30,108.67 158.60,107.06 158.75,106.16 158.83,105.65 159.04,103.92 159.17,102.66 159.23,102.08 159.41,100.31 159.57,99.05 159.60,98.80 159.79,97.74 159.94,97.43 160.00,97.32 160.25,97.99 160.30,98.37 160.48,99.65 160.66,101.07 160.73,101.67 160.96,103.05 161.03,103.44 161.29,104.04 161.40,104.28 161.70,103.91 162.13,103.30 162.30,103.07 162.90,102.26 163.00,102.41 163.26,102.82 164.30,110.40 164.86,109.05 165.41,107.58 165.98,106.36 166.60,105.80 167.31,106.20 168.07,107.19 168.90,108.10 169.86,108.81 170.89,109.43 172.00,109.70 173.10,109.49 174.29,108.95 175.48,108.18 176.60,107.30 177.42,106.49 178.20,105.53 178.95,104.48 179.68,103.38 180.43,102.27 181.20,101.20 182.02,100.06 182.81,98.85 183.62,97.63 184.47,96.47 185.39,95.44 186.40,94.60 187.68,93.87 189.08,93.30 190.56,92.89 192.04,92.62 193.50,92.50 194.90,92.55 196.31,92.76 197.72,93.10 199.12,93.53 200.50,94.00 201.71,94.47 202.93,95.01 204.13,95.62 205.32,96.25 206.48,96.88 207.60,97.50 208.75,98.11 209.84,98.69 210.91,99.30 211.98,99.98 213.10,100.80 214.08,101.60 215.08,102.50 216.11,103.47 217.14,104.50 218.18,105.58 219.21,106.70 220.22,107.84 221.20,109.00 222.05,110.04 222.89,111.11 223.71,112.22 224.53,113.35 225.34,114.50 226.14,115.68 226.94,116.87 227.73,118.07 228.52,119.28 229.30,120.50 230.05,121.69 230.79,122.89 231.53,124.12 232.26,125.35 232.98,126.60 233.70,127.86 234.42,129.13 235.14,130.40 235.86,131.67 236.58,132.94 237.30,134.20 238.04,135.49 238.78,136.78 239.51,138.08 240.25,139.38 240.98,140.68 241.72,141.98 242.45,143.29 243.19,144.59 243.93,145.90 244.66,147.20 245.40,148.50 246.13,149.79 246.86,151.08 247.59,152.37 248.32,153.66 249.04,154.95 249.77,156.24 250.51,157.53 251.24,158.82 251.99,160.11 252.74,161.41 253.50,162.70 254.24,163.94 255.01,165.22 255.80,166.51 256.61,167.82 257.42,169.13 258.23,170.44 259.02,171.71 259.79,172.96 260.54,174.16 261.24,175.31 261.90,176.39 262.50,177.40" fill="none" stroke="#8c564b" stroke-width="2.9" stroke-linejoin="round" stroke-linecap="butt"/>
<polyline clip-path="url(#cL1)" points="49.80,90.80 50.03,90.19 50.03,90.17 50.30,89.43 50.30,89.43 50.59,88.50 50.63,88.37 50.94,87.28 51.03,86.94 51.33,85.91 51.50,85.32 51.75,84.50 52.01,83.66 52.18,83.18 52.55,82.15 52.60,82.04 53.10,80.94 53.13,80.89 53.67,79.95 53.79,79.77 54.30,79.10 54.52,78.84 55.33,78.10 55.40,78.04 56.50,77.37 56.64,77.29 57.43,76.97 58.06,76.73 58.42,76.65 59.40,76.54 59.40,76.54 60.39,76.93 60.42,76.95 61.35,77.63 61.37,77.64 62.30,78.06 63.47,77.73 63.47,77.72 64.60,77.43 65.73,78.06 65.74,78.06 66.90,79.11 67.84,80.09 67.85,80.10 68.85,81.32 68.86,81.32 69.89,82.38 69.89,82.39 70.90,82.90 71.93,82.48 71.94,82.47 72.96,81.55 72.96,81.55 74.00,80.96 74.97,81.05 74.99,81.05 75.96,81.41 76.00,81.42 77.00,81.80 77.95,82.12 78.20,82.20 78.90,82.44 79.46,82.61 80.00,82.73 81.00,82.90 81.20,82.91 82.08,82.97 82.56,82.99 83.34,83.01 84.02,83.00 84.75,83.00 85.52,82.99 86.26,82.98 87.00,82.96 87.83,82.95 88.32,82.93 89.41,82.91 89.67,82.90 90.96,82.87 91.04,82.86 92.40,82.82 92.44,82.82 93.73,82.78 93.80,82.77 95.00,82.73 96.28,82.70 96.38,82.69 97.53,82.68 97.65,82.68 98.74,82.64 98.83,82.64 99.90,82.54 99.93,82.53 101.00,82.33 102.42,81.65 102.43,81.64 103.72,80.82 103.76,80.80 105.00,80.45 105.97,80.82 106.01,80.85 106.91,81.59 106.94,81.61 107.89,82.38 108.00,82.44 109.00,82.96 109.15,83.00 110.28,83.30 110.44,83.32 111.71,83.52 111.75,83.53 113.00,83.70 113.20,83.73 114.38,83.93 114.66,83.98 115.71,84.25 116.00,84.34 117.00,84.77 117.36,84.95 118.03,85.35 118.62,85.73 119.03,86.01 119.83,86.59 120.01,86.72 121.00,87.45 122.00,88.22 122.04,88.25 122.98,89.04 123.03,89.08 123.97,89.86 124.00,89.88 125.00,90.61 126.02,91.25 126.36,91.45 127.07,91.85 127.76,92.22 128.09,92.39 129.00,92.80 130.05,93.27 130.06,93.28 130.90,93.30 130.90,93.30 131.23,92.65 131.26,92.54 131.38,91.43 131.39,91.25 131.39,90.06 131.39,88.85 131.40,87.68 131.42,87.29 131.42,86.83 131.42,86.37 131.42,85.95 131.48,84.73 131.50,84.43 131.57,83.13 131.60,82.48 131.65,81.55 131.70,80.64 131.73,80.16 131.80,79.28 131.82,79.15 131.90,78.73 131.98,79.14 132.00,79.27 132.06,80.10 132.10,80.64 132.15,81.42 132.20,82.49 132.23,82.98 132.30,84.43 132.31,84.62 132.40,86.15 132.44,87.50 132.44,88.55 132.44,89.61 132.45,90.29 132.45,90.75 132.45,91.22 132.45,91.63 132.50,92.33 132.60,93.21 132.67,93.55 132.90,94.42 133.00,94.66 133.43,95.47 133.74,95.91 134.11,96.36 134.69,96.95 134.88,97.14 135.70,97.85 136.80,98.80 136.88,98.86 137.97,99.62 138.16,99.72 139.00,99.88 139.30,99.84 139.78,99.44 139.91,99.30 140.42,98.34 140.44,98.31 140.89,97.06 141.00,96.72 141.31,95.67 141.36,95.50 141.66,94.31 141.70,94.14 141.94,93.22 142.10,92.55 142.19,92.19 142.44,91.19 142.52,90.88 142.71,90.14 142.92,89.36 143.00,89.02 143.29,87.99 143.40,87.55 143.64,86.66 143.83,85.89 143.97,85.32 144.26,84.10 144.30,83.92 144.53,82.78 144.66,81.97 144.74,81.46 144.95,79.99 145.00,79.57 145.14,78.37 145.20,77.85 145.33,76.57 145.36,76.27 145.49,74.86 145.52,74.57 145.60,73.62 145.69,72.50 145.70,72.44 145.78,71.53 145.87,70.64 145.88,70.61 145.98,69.92 146.05,69.54 146.10,69.36 146.23,69.13 146.24,69.13 146.37,69.38 146.40,69.48 146.50,70.06 146.59,70.63 146.63,71.05 146.76,72.19 146.78,72.47 146.92,73.90 146.96,74.35 147.08,75.62 147.16,76.45 147.24,77.20 147.40,78.31 147.43,78.49 147.65,79.26 147.89,79.50 147.90,79.51 148.35,78.83 148.45,78.59 148.84,77.61 149.00,77.13 149.30,76.20 149.35,76.00 149.60,74.93 149.70,74.36 149.87,73.39 150.05,72.20 150.13,71.73 150.37,70.11 150.40,69.92 150.61,68.71 150.74,68.11 150.85,67.67 151.08,67.19 151.10,67.16 151.36,67.30 151.40,67.40 151.61,68.02 151.73,68.55 151.86,69.16 152.06,70.26 152.11,70.60 152.37,72.20 152.37,72.20 152.63,73.79 152.68,74.08 152.90,75.22 153.00,75.71 153.18,76.57 153.31,77.25 153.45,77.95 153.62,78.82 153.72,79.36 153.93,80.36 154.01,80.75 154.25,81.83 154.31,82.09 154.60,83.20 154.64,83.34 155.00,84.53 155.13,84.90 155.50,85.97 155.69,86.46 156.06,87.25 156.30,87.66 156.61,88.00 156.95,88.11 157.10,88.11 157.55,87.43 157.65,87.10 157.93,86.17 158.27,84.66 158.30,84.53 158.60,83.12 158.75,82.34 158.83,81.89 159.04,80.41 159.17,79.35 159.23,78.87 159.41,77.37 159.57,76.29 159.60,76.08 159.79,75.14 159.94,74.79 160.00,74.69 160.25,75.10 160.30,75.37 160.48,76.41 160.66,77.56 160.73,78.12 160.96,79.49 161.03,79.88 161.29,80.70 161.40,80.94 161.70,80.84 162.13,80.27 162.30,80.05 162.90,79.31 163.00,79.39 163.26,79.76 163.55,80.80 163.83,82.11 163.84,82.16 164.13,83.52 164.51,84.76 164.78,85.22 165.00,85.54 166.00,84.50 167.35,84.16 168.70,83.82 170.00,83.40 171.19,82.92 172.35,82.36 173.50,81.60 174.44,80.77 175.38,79.75 176.32,78.64 177.26,77.50 178.20,76.40 179.13,75.29 180.04,74.12 180.95,72.98 181.90,71.94 182.90,71.10 184.02,70.39 185.18,69.82 186.37,69.43 187.60,69.30 188.74,69.46 189.93,69.85 191.13,70.41 192.33,71.05 193.50,71.70 194.71,72.41 195.90,73.19 197.08,74.03 198.24,74.91 199.40,75.80 200.39,76.57 201.37,77.35 202.35,78.16 203.31,78.99 204.26,79.87 205.20,80.80 206.07,81.74 206.93,82.72 207.78,83.75 208.62,84.81 209.45,85.90 210.28,86.99 211.10,88.10 211.85,89.14 212.57,90.21 213.29,91.29 214.00,92.39 214.72,93.50 215.45,94.61 216.21,95.71 217.00,96.80 217.88,97.92 218.78,99.01 219.72,100.08 220.67,101.16 221.63,102.26 222.59,103.40 223.55,104.61 224.50,105.90 225.23,106.96 225.96,108.07 226.69,109.23 227.42,110.43 228.15,111.65 228.89,112.91 229.62,114.18 230.35,115.47 231.08,116.76 231.82,118.06 232.55,119.35 233.27,120.63 234.00,121.90 234.69,123.10 235.38,124.31 236.06,125.52 236.75,126.74 237.43,127.96 238.11,129.18 238.79,130.41 239.48,131.64 240.16,132.87 240.84,134.09 241.53,135.32 242.22,136.55 242.91,137.78 243.60,139.00 244.30,140.23 245.01,141.46 245.72,142.69 246.43,143.92 247.15,145.15 247.86,146.37 248.58,147.60 249.29,148.83 250.01,150.06 250.72,151.29 251.42,152.52 252.12,153.75 252.81,154.97 253.50,156.20 254.23,157.52 254.96,158.87 255.71,160.24 256.46,161.63 257.20,163.02 257.94,164.41 258.66,165.77 259.37,167.11 260.06,168.41 260.72,169.66 261.35,170.85 261.95,171.96 262.50,173.00" fill="none" stroke="#e377c2" stroke-width="2.9" stroke-linejoin="round" stroke-linecap="butt"/>
<polyline clip-path="url(#cL1)" points="49.80,69.43 50.03,68.83 50.03,68.82 50.30,68.08 50.30,68.08 50.59,67.15 50.63,67.02 50.94,65.93 51.03,65.59 51.33,64.55 51.50,63.96 51.75,63.14 52.01,62.30 52.18,61.81 52.55,60.80 52.60,60.69 53.10,59.60 53.13,59.54 53.67,58.61 53.79,58.44 54.30,57.76 54.52,57.51 55.33,56.76 55.40,56.70 56.50,56.01 56.64,55.93 57.43,55.58 58.06,55.34 58.42,55.24 59.40,55.13 59.40,55.13 60.39,55.55 60.42,55.57 61.35,56.28 61.37,56.29 62.30,56.73 63.47,56.39 63.47,56.39 64.60,56.08 65.73,56.67 65.74,56.67 66.90,57.68 67.84,58.66 67.85,58.68 68.85,59.91 68.86,59.92 69.89,61.00 69.89,61.00 70.90,61.53 71.93,61.12 71.94,61.12 72.96,60.22 72.96,60.21 74.00,59.63 74.97,59.71 74.99,59.71 75.96,60.05 76.00,60.07 77.00,60.43 77.95,60.76 78.20,60.84 78.90,61.09 79.46,61.26 80.00,61.38 81.00,61.53 81.20,61.54 82.08,61.59 82.56,61.60 83.34,61.61 84.02,61.60 84.75,61.59 85.52,61.57 86.26,61.56 87.00,61.54 87.83,61.54 88.32,61.53 89.41,61.51 89.67,61.51 90.96,61.49 91.04,61.49 92.40,61.46 92.44,61.46 93.73,61.42 93.80,61.42 95.00,61.38 96.28,61.35 96.38,61.35 97.53,61.33 97.65,61.33 98.74,61.29 98.83,61.28 99.90,61.18 99.93,61.18 101.00,60.98 102.42,60.33 102.43,60.32 103.72,59.53 103.76,59.51 105.00,59.18 105.97,59.58 106.01,59.60 106.91,60.35 106.94,60.38 107.89,61.11 108.00,61.18 109.00,61.63 109.15,61.68 110.28,61.94 110.44,61.97 111.71,62.17 111.75,62.17 113.00,62.36 113.20,62.39 114.38,62.60 114.66,62.65 115.71,62.91 116.00,63.00 117.00,63.41 117.36,63.60 118.03,63.99 118.62,64.39 119.03,64.68 119.83,65.29 120.01,65.43 121.00,66.18 122.00,66.97 122.04,67.00 122.98,67.81 123.03,67.85 123.97,68.64 124.00,68.66 125.00,69.38 126.02,69.98 126.36,70.18 127.07,70.55 127.76,70.89 128.09,71.04 129.00,71.43 130.05,71.90 130.06,71.90 130.90,71.93 130.90,71.93 131.23,71.29 131.26,71.16 131.38,70.12 131.39,69.89 131.39,69.00 131.39,68.13 131.40,67.24 131.42,66.77 131.42,66.00 131.42,65.23 131.42,64.54 131.48,63.25 131.50,62.94 131.57,61.63 131.60,60.97 131.65,60.02 131.70,59.12 131.73,58.61 131.80,57.74 131.82,57.60 131.90,57.18 131.98,57.59 132.00,57.75 132.06,58.56 132.10,59.15 132.15,59.92 132.20,61.01 132.23,61.52 132.30,62.98 132.31,63.17 132.40,64.68 132.44,65.99 132.44,66.74 132.44,67.50 132.45,68.05 132.45,68.81 132.45,69.57 132.45,69.90 132.50,70.78 132.60,71.63 132.67,72.03 132.90,72.87 133.00,73.13 133.43,73.89 133.74,74.34 134.11,74.76 134.69,75.32 134.88,75.50 135.70,76.18 136.80,77.12 136.88,77.18 137.97,77.95 138.16,78.03 139.00,78.20 139.30,78.11 139.78,77.71 139.91,77.53 140.42,76.57 140.44,76.54 140.89,75.32 141.00,75.00 141.31,73.98 141.36,73.82 141.66,72.61 141.70,72.43 141.94,71.43 142.10,70.68 142.19,70.27 142.44,69.14 142.52,68.79 142.71,67.99 142.92,67.16 143.00,66.82 143.29,65.80 143.40,65.38 143.64,64.54 143.83,63.84 143.97,63.31 144.26,62.20 144.30,62.04 144.53,61.01 144.66,60.31 144.74,59.85 144.95,58.55 145.00,58.18 145.14,57.05 145.20,56.56 145.33,55.27 145.36,54.96 145.49,53.43 145.52,53.10 145.60,52.01 145.69,50.68 145.70,50.61 145.78,49.53 145.87,48.52 145.88,48.48 145.98,47.75 146.05,47.42 146.10,47.26 146.23,47.22 146.24,47.23 146.37,47.78 146.40,47.97 146.50,48.77 146.59,49.58 146.63,50.07 146.76,51.38 146.78,51.68 146.92,53.10 146.96,53.54 147.08,54.66 147.16,55.41 147.24,55.99 147.40,56.88 147.43,57.00 147.65,57.47 147.89,57.55 147.90,57.54 148.35,56.70 148.45,56.45 148.84,55.39 149.00,54.90 149.30,53.90 149.35,53.70 149.60,52.59 149.70,52.03 149.87,51.07 150.05,49.95 150.13,49.50 150.37,47.97 150.40,47.78 150.61,46.65 150.74,46.03 150.85,45.62 151.08,45.06 151.10,45.03 151.36,45.03 151.40,45.09 151.61,45.61 151.73,46.04 151.86,46.59 152.06,47.57 152.11,47.89 152.37,49.38 152.37,49.38 152.63,50.90 152.68,51.17 152.90,52.26 153.00,52.74 153.18,53.55 153.31,54.19 153.45,54.85 153.62,55.66 153.72,56.17 153.93,57.11 154.01,57.48 154.25,58.51 154.31,58.74 154.60,59.80 154.64,59.94 155.00,61.12 155.13,61.50 155.50,62.57 155.69,63.06 156.06,63.76 156.30,64.13 156.61,64.30 156.95,64.29 157.10,64.22 157.55,63.49 157.65,63.20 157.93,62.36 158.27,61.06 158.30,60.95 158.60,59.71 158.75,59.03 158.83,58.62 159.04,57.34 159.17,56.44 159.23,56.03 159.41,54.76 159.57,53.82 159.60,53.64 159.79,52.80 159.94,52.41 160.00,52.32 160.25,52.52 160.30,52.69 160.48,53.56 160.66,54.49 160.73,55.02 160.96,56.38 161.03,56.76 161.29,57.76 161.40,58.00 161.70,58.11 162.13,57.58 162.30,57.38 162.90,56.68 163.00,56.71 163.26,57.05 163.55,57.88 163.83,58.90 163.84,58.94 164.13,60.05 164.51,61.12 164.78,61.58 165.00,61.86 166.00,61.50 166.69,60.20 167.35,58.87 168.08,57.60 169.00,56.50 169.99,55.76 171.13,55.17 172.35,54.64 173.57,54.11 174.70,53.50 175.92,52.63 177.08,51.68 178.22,50.75 179.40,49.90 180.57,49.11 181.77,48.33 182.96,47.71 184.10,47.40 185.28,47.47 186.42,47.86 187.60,48.50 188.55,49.19 189.53,50.08 190.53,51.11 191.53,52.23 192.53,53.38 193.50,54.50 194.37,55.51 195.22,56.54 196.07,57.60 196.91,58.68 197.75,59.77 198.58,60.88 199.40,62.00 200.25,63.17 201.08,64.37 201.91,65.58 202.73,66.80 203.55,68.03 204.38,69.26 205.20,70.50 205.94,71.61 206.68,72.73 207.41,73.85 208.15,74.98 208.89,76.11 209.63,77.24 210.36,78.37 211.10,79.50 211.84,80.62 212.58,81.75 213.32,82.87 214.06,84.00 214.79,85.12 215.53,86.25 216.27,87.37 217.00,88.50 217.73,89.62 218.45,90.74 219.17,91.85 219.88,92.97 220.60,94.09 221.33,95.22 222.06,96.35 222.80,97.50 223.59,98.71 224.39,99.91 225.20,101.12 226.01,102.34 226.83,103.57 227.65,104.84 228.47,106.15 229.30,107.50 229.95,108.60 230.61,109.74 231.27,110.91 231.94,112.11 232.61,113.33 233.28,114.56 233.95,115.80 234.62,117.05 235.29,118.29 235.96,119.54 236.63,120.78 237.30,122.00 237.97,123.23 238.65,124.46 239.32,125.69 240.00,126.93 240.67,128.16 241.35,129.40 242.02,130.63 242.70,131.87 243.37,133.10 244.05,134.34 244.72,135.57 245.40,136.80 246.07,138.02 246.74,139.23 247.41,140.44 248.08,141.65 248.75,142.85 249.43,144.06 250.10,145.27 250.77,146.48 251.45,147.70 252.13,148.92 252.81,150.16 253.50,151.40 254.18,152.64 254.89,153.92 255.61,155.23 256.34,156.56 257.07,157.91 257.81,159.24 258.53,160.57 259.24,161.87 259.94,163.13 260.61,164.35 261.24,165.51 261.84,166.59 262.40,167.60 262.50,167.78" fill="none" stroke="#7f7f7f" stroke-width="2.9" stroke-linejoin="round" stroke-linecap="butt"/>
<polyline clip-path="url(#cL1)" points="49.80,48.00 50.03,47.42 50.30,46.70 50.59,45.78 50.94,44.55 51.33,43.15 51.75,41.72 52.18,40.39 52.60,39.30 53.13,38.18 53.67,37.24 54.30,36.40 55.33,35.40 56.50,34.60 57.43,34.10 58.42,33.71 59.40,33.60 60.39,34.09 61.35,34.90 62.30,35.40 63.47,35.05 64.60,34.70 65.74,35.19 66.90,36.10 67.85,37.10 68.86,38.39 69.89,39.54 70.90,40.10 71.93,39.73 72.96,38.87 74.00,38.30 74.99,38.35 76.00,38.66 77.00,39.00 77.95,39.34 78.90,39.72 80.00,40.00 81.20,40.11 82.56,40.13 84.02,40.09 85.52,40.03 87.00,40.00 88.32,40.01 89.67,40.02 91.04,40.03 92.40,40.04 93.73,40.03 95.00,40.00 96.28,39.97 97.53,39.94 98.74,39.89 99.90,39.79 101.00,39.60 102.43,39.01 103.76,38.28 105.00,38.00 106.01,38.46 106.94,39.29 108.00,40.00 109.15,40.35 110.44,40.59 111.75,40.78 113.00,41.00 114.38,41.27 115.71,41.54 117.00,42.00 118.03,42.60 119.03,43.36 120.01,44.19 121.00,45.00 122.00,45.84 122.98,46.73 123.97,47.58 125.00,48.30 126.36,49.00 127.76,49.56 129.00,50.00 130.06,50.47 130.90,50.50 131.23,49.90 131.38,48.83 131.42,47.46 131.39,45.92 131.37,44.39 131.40,43.00 131.48,41.54 131.57,39.87 131.65,38.19 131.73,36.73 131.82,35.69 131.90,35.30 131.98,35.69 132.06,36.72 132.15,38.17 132.23,39.84 132.31,41.52 132.40,43.00 132.45,44.42 132.44,45.93 132.44,47.45 132.50,48.90 132.67,50.21 133.00,51.30 133.74,52.40 134.69,53.24 135.70,54.00 136.80,54.92 137.97,55.75 139.00,56.00 139.78,55.37 140.42,54.15 141.00,52.70 141.36,51.61 141.66,50.34 141.94,48.94 142.19,47.48 142.44,46.01 142.71,44.60 143.00,43.30 143.40,41.94 143.83,40.68 144.26,39.45 144.66,38.15 145.00,36.70 145.20,35.34 145.36,33.68 145.49,31.85 145.60,29.96 145.69,28.14 145.78,26.51 145.87,25.20 145.98,24.32 146.10,24.00 146.24,24.48 146.37,25.75 146.50,27.55 146.63,29.61 146.78,31.68 146.96,33.49 147.16,34.79 147.40,35.30 147.89,34.66 148.45,33.09 149.00,31.30 149.35,29.94 149.70,28.20 150.05,26.29 150.40,24.43 150.74,22.84 151.08,21.72 151.40,21.30 151.73,21.73 152.06,22.83 152.37,24.32 152.68,25.91 153.00,27.30 153.31,28.52 153.62,29.76 153.93,31.00 154.25,32.18 154.60,33.30 155.13,34.99 155.69,36.57 156.30,37.30 156.95,36.75 157.65,35.44 158.30,34.00 158.75,32.73 159.17,31.16 159.57,29.62 159.94,28.46 160.30,28.00 160.66,28.81 160.96,30.59 161.29,32.40 161.70,33.30 162.30,32.68 163.00,32.00 163.84,32.88 164.78,34.47 165.70,35.30 166.38,34.77 167.03,33.56 167.71,32.15 168.50,31.00 169.36,30.22 170.31,29.53 171.30,28.95 172.30,28.50 173.49,28.20 174.72,28.09 176.00,28.00 177.23,27.88 178.53,27.76 179.82,27.68 181.00,27.70 182.07,27.80 183.05,27.97 184.00,28.30 185.04,28.86 186.05,29.60 187.00,30.50 187.79,31.47 188.51,32.59 189.23,33.79 190.00,35.00 190.75,36.09 191.54,37.21 192.34,38.35 193.16,39.54 194.00,40.80 194.74,41.95 195.50,43.16 196.27,44.40 197.05,45.69 197.83,46.99 198.62,48.30 199.40,49.60 200.12,50.81 200.84,52.03 201.56,53.26 202.29,54.51 203.02,55.76 203.74,57.01 204.47,58.26 205.20,59.50 205.94,60.74 206.68,61.98 207.42,63.22 208.16,64.46 208.90,65.70 209.64,66.96 210.37,68.22 211.10,69.50 211.76,70.69 212.41,71.88 213.06,73.07 213.70,74.28 214.34,75.49 214.99,76.72 215.64,77.96 216.31,79.22 217.00,80.50 217.64,81.69 218.30,82.89 218.96,84.10 219.63,85.32 220.30,86.56 220.99,87.81 221.68,89.07 222.37,90.36 223.08,91.65 223.79,92.97 224.50,94.30 225.15,95.52 225.80,96.76 226.46,98.02 227.13,99.31 227.81,100.61 228.49,101.92 229.17,103.23 229.85,104.56 230.54,105.88 231.23,107.20 231.93,108.52 232.62,109.83 233.31,111.12 234.00,112.40 234.68,113.64 235.35,114.88 236.03,116.11 236.71,117.33 237.40,118.56 238.08,119.78 238.76,121.00 239.45,122.21 240.14,123.43 240.83,124.64 241.52,125.86 242.21,127.07 242.90,128.28 243.60,129.50 244.30,130.72 245.00,131.94 245.71,133.16 246.42,134.39 247.14,135.61 247.85,136.83 248.57,138.06 249.28,139.27 250.00,140.49 250.71,141.70 251.41,142.91 252.11,144.11 252.81,145.31 253.50,146.50 254.27,147.84 255.06,149.20 255.86,150.58 256.65,151.96 257.45,153.34 258.23,154.70 259.00,156.04 259.75,157.35 260.47,158.60 261.16,159.81 261.80,160.94 262.40,162.00 262.50,162.18" fill="none" stroke="#bcbd22" stroke-width="2.9" stroke-linejoin="round" stroke-linecap="butt"/>
<polyline clip-path="url(#cL2)" points="49.70,303.00 49.70,303.00 50.37,301.68 50.98,300.28 51.70,299.00 52.56,297.89 53.51,296.89 54.30,296.30 54.67,296.32 55.00,296.30 55.38,295.51 55.75,293.99 56.11,292.13 56.46,290.32 56.82,288.95 57.20,288.40 57.56,288.89 57.91,290.14 58.26,291.84 58.64,293.63 59.08,295.20 59.60,296.20 60.57,296.72 61.70,297.00 62.99,297.46 64.42,298.00 65.70,298.70 66.64,299.63 67.45,300.71 68.30,301.70 69.17,302.53 70.07,303.27 71.00,303.70 72.32,303.50 73.70,303.00 74.77,302.71 75.89,302.43 77.00,302.30 78.16,302.58 79.31,303.02 80.30,303.00 80.97,301.98 81.46,300.28 81.86,298.69 82.30,298.00 82.69,298.42 83.07,299.47 83.45,300.88 83.85,302.38 84.30,303.70 84.86,305.10 85.49,306.71 86.14,308.22 86.76,309.32 87.30,309.70 87.61,309.31 87.89,308.32 88.14,306.88 88.37,305.11 88.57,303.14 88.76,301.11 88.95,299.16 89.13,297.41 89.31,295.99 89.50,295.04 89.70,294.70 89.91,295.07 90.10,296.08 90.28,297.60 90.46,299.47 90.64,301.56 90.82,303.72 91.02,305.82 91.23,307.71 91.46,309.25 91.71,310.29 92.00,310.70 92.54,310.24 93.14,308.99 93.75,307.35 94.30,305.70 94.64,304.42 94.97,302.82 95.27,301.05 95.56,299.27 95.83,297.62 96.10,296.26 96.35,295.34 96.60,295.00 96.82,295.30 97.01,296.11 97.19,297.33 97.36,298.84 97.53,300.53 97.70,302.30 97.88,304.04 98.08,305.65 98.30,307.00 98.59,308.60 98.88,310.33 99.19,312.01 99.52,313.47 99.89,314.52 100.30,315.00 101.00,314.69 101.70,313.70 102.01,312.76 102.27,311.34 102.49,309.57 102.67,307.59 102.84,305.54 102.99,303.56 103.15,301.78 103.31,300.33 103.49,299.36 103.70,299.00 103.96,299.37 104.23,300.37 104.50,301.81 104.78,303.52 105.07,305.29 105.38,306.95 105.70,308.30 106.12,309.89 106.54,311.44 107.04,312.77 107.70,313.70 108.98,314.02 110.30,314.30 110.97,315.18 111.51,316.43 112.05,317.72 112.70,318.70 113.96,319.65 115.30,320.00 116.26,319.63 117.21,318.87 118.00,318.00 118.52,316.85 118.89,315.60 119.30,315.00 119.75,315.53 120.21,316.78 120.72,318.21 121.30,319.30 122.23,320.23 123.30,320.70 124.36,320.38 125.53,319.68 126.70,319.30 127.86,319.67 129.02,320.36 130.00,320.70 130.73,320.54 131.30,320.00 131.56,319.31 131.72,318.32 131.80,317.08 131.82,315.66 131.80,314.12 131.75,312.52 131.71,310.93 131.69,309.40 131.70,308.00 131.74,306.42 131.78,304.62 131.81,302.74 131.84,300.92 131.88,299.27 131.91,297.93 131.95,297.03 132.00,296.70 132.05,297.03 132.11,297.94 132.17,299.30 132.24,300.96 132.30,302.79 132.37,304.67 132.44,306.45 132.50,308.00 132.53,309.43 132.52,310.95 132.49,312.51 132.46,314.04 132.48,315.49 132.55,316.79 132.72,317.88 133.00,318.70 133.83,319.71 134.70,320.00 135.11,319.29 135.43,317.77 135.69,315.87 135.92,314.00 136.15,312.57 136.40,312.00 136.63,312.55 136.81,313.95 136.98,315.79 137.21,317.68 137.53,319.21 138.00,320.00 139.34,319.83 140.70,318.70 141.14,317.87 141.48,316.76 141.73,315.44 141.93,313.97 142.10,312.43 142.26,310.87 142.46,309.37 142.70,308.00 143.02,306.65 143.36,305.33 143.71,304.03 144.07,302.74 144.41,301.43 144.72,300.09 145.00,298.70 145.20,297.31 145.37,295.68 145.52,293.94 145.65,292.17 145.77,290.48 145.89,288.99 146.01,287.79 146.15,286.99 146.30,286.70 146.47,287.11 146.63,288.20 146.80,289.79 146.98,291.68 147.16,293.67 147.35,295.56 147.55,297.16 147.77,298.27 148.00,298.70 148.40,298.15 148.84,296.76 149.29,294.99 149.70,293.30 149.99,291.88 150.26,290.17 150.51,288.41 150.77,286.85 151.02,285.73 151.30,285.30 151.63,285.74 151.97,286.90 152.33,288.50 152.67,290.29 153.00,292.00 153.23,293.33 153.42,294.82 153.60,296.43 153.77,298.10 153.94,299.77 154.14,301.38 154.38,302.87 154.66,304.20 155.00,305.30 155.73,306.92 156.56,308.22 157.30,308.70 157.73,308.25 158.10,307.19 158.42,305.76 158.72,304.19 159.00,302.70 159.23,301.24 159.44,299.45 159.61,297.55 159.78,295.73 159.94,294.18 160.11,293.10 160.30,292.70 160.50,293.32 160.69,294.89 160.89,296.94 161.11,299.00 161.37,300.61 161.70,301.30 162.19,300.65 162.74,299.37 163.30,298.70 163.82,299.41 164.34,301.04 164.89,302.98 165.44,304.61 166.00,305.30 166.63,304.54 167.26,302.80 167.94,300.99 168.70,300.00 169.95,300.53 171.30,301.30 172.71,301.09 174.10,300.40 175.12,299.49 176.06,298.30 177.00,297.00 177.65,295.97 178.28,294.83 178.90,293.65 179.57,292.54 180.30,291.60 181.15,290.80 182.06,290.12 183.01,289.53 184.00,289.00 185.09,288.48 186.24,288.01 187.39,287.67 188.50,287.50 189.68,287.58 190.82,287.89 192.00,288.30 193.11,288.72 194.23,289.22 195.42,289.83 196.70,290.60 197.70,291.25 198.77,291.99 199.91,292.82 201.09,293.71 202.29,294.66 203.51,295.65 204.71,296.68 205.88,297.74 207.00,298.80 207.98,299.78 208.95,300.79 209.91,301.84 210.87,302.91 211.81,304.02 212.74,305.14 213.67,306.30 214.59,307.47 215.50,308.66 216.40,309.87 217.30,311.10 218.13,312.26 218.95,313.46 219.76,314.67 220.56,315.91 221.36,317.17 222.15,318.44 222.94,319.73 223.72,321.03 224.50,322.33 225.27,323.65 226.05,324.96 226.82,326.28 227.60,327.60 228.30,328.80 228.99,330.01 229.68,331.24 230.37,332.47 231.05,333.72 231.73,334.97 232.41,336.23 233.09,337.48 233.77,338.73 234.45,339.99 235.14,341.23 235.82,342.47 236.51,343.69 237.20,344.90 237.90,346.10 238.68,347.41 239.46,348.72 240.25,350.02 241.04,351.32 241.83,352.61 242.63,353.89 243.43,355.17 244.22,356.43 245.01,357.67 245.79,358.91 246.57,360.12 247.34,361.32 248.10,362.50 248.96,363.83 249.81,365.16 250.66,366.47 251.50,367.76 252.34,369.04 253.17,370.28 253.99,371.50 254.80,372.68 255.60,373.81 256.40,374.90 257.31,376.09 258.23,377.24 259.14,378.34 260.03,379.39 260.89,380.40 261.72,381.37 262.50,382.30" fill="none" stroke="#1f77b4" stroke-width="2.9" stroke-linejoin="round" stroke-linecap="butt"/>
<polyline clip-path="url(#cL2)" points="49.70,324.30 49.70,324.30 50.14,323.10 50.51,321.75 50.87,320.35 51.25,318.97 51.70,317.70 52.27,316.38 52.89,315.11 53.56,313.95 54.30,313.00 55.15,312.26 56.06,311.70 57.00,311.30 58.37,310.98 59.70,311.00 60.70,311.48 61.70,312.00 62.98,311.98 64.30,312.00 65.22,312.39 66.11,312.98 67.00,313.70 67.81,314.64 68.59,315.80 69.41,316.83 70.30,317.40 71.58,317.10 72.95,316.24 74.30,315.70 75.44,315.83 76.55,316.21 77.70,316.60 78.99,317.00 80.31,317.42 81.70,317.70 82.95,317.73 84.26,317.62 85.61,317.48 87.00,317.40 88.29,317.43 89.63,317.52 90.99,317.62 92.35,317.69 93.70,317.70 95.04,317.64 96.38,317.55 97.72,317.41 99.03,317.23 100.30,317.00 101.75,316.54 103.18,315.93 104.52,315.43 105.70,315.30 106.67,315.70 107.52,316.38 108.30,317.00 109.11,317.55 110.00,318.00 111.20,318.28 112.60,318.46 114.00,318.70 115.35,319.05 116.69,319.46 118.00,320.00 119.03,320.55 120.04,321.18 121.04,321.90 122.00,322.70 122.82,323.56 123.60,324.57 124.36,325.61 125.15,326.56 126.00,327.30 127.37,327.95 128.81,328.35 130.00,328.70 130.74,329.16 131.30,329.30 131.59,328.71 131.72,327.54 131.75,325.99 131.72,324.25 131.68,322.52 131.70,321.00 131.75,319.52 131.80,317.84 131.84,316.17 131.89,314.72 131.94,313.69 132.00,313.30 132.07,313.68 132.15,314.70 132.24,316.15 132.33,317.82 132.42,319.50 132.50,321.00 132.53,322.32 132.50,323.77 132.46,325.26 132.45,326.71 132.50,328.03 132.67,329.16 133.00,330.00 134.03,330.75 135.30,331.30 136.27,332.22 137.34,333.41 138.39,334.40 139.30,334.70 139.99,334.11 140.57,332.89 141.08,331.29 141.55,329.57 142.00,328.00 142.39,326.75 142.75,325.51 143.08,324.24 143.39,322.92 143.70,321.52 144.00,320.00 144.22,318.72 144.42,317.19 144.63,315.48 144.83,313.66 145.02,311.79 145.21,309.95 145.39,308.21 145.58,306.62 145.76,305.27 145.94,304.22 146.12,303.54 146.30,303.30 146.51,303.78 146.71,305.07 146.89,306.88 147.08,308.96 147.27,311.05 147.49,312.88 147.73,314.18 148.00,314.70 148.55,314.04 149.15,312.46 149.70,310.70 150.01,309.35 150.29,307.66 150.54,305.88 150.79,304.29 151.04,303.14 151.30,302.70 151.54,303.01 151.78,303.84 152.02,305.08 152.26,306.62 152.51,308.33 152.77,310.09 153.03,311.79 153.30,313.30 153.56,314.75 153.80,316.35 154.04,318.03 154.29,319.72 154.55,321.37 154.84,322.88 155.17,324.21 155.56,325.27 156.00,326.00 157.00,326.72 158.00,326.70 158.39,326.11 158.72,324.96 159.00,323.37 159.23,321.48 159.42,319.41 159.59,317.30 159.75,315.27 159.89,313.47 160.05,312.02 160.21,311.05 160.40,310.70 160.64,311.21 160.86,312.53 161.08,314.34 161.30,316.32 161.52,318.14 161.75,319.47 162.00,320.00 162.40,318.98 162.81,317.05 163.30,316.00 163.76,316.68 164.27,318.32 164.82,320.29 165.40,321.96 166.00,322.70 166.65,322.14 167.35,320.81 168.05,319.42 168.70,318.70 169.33,318.87 170.00,319.40 170.92,320.46 171.97,321.76 173.10,322.40 174.04,322.05 175.04,321.14 176.08,319.90 177.14,318.55 178.20,317.30 179.08,316.31 179.98,315.23 180.89,314.10 181.80,312.98 182.70,311.90 183.57,310.93 184.40,310.10 185.58,309.03 186.70,308.17 188.00,307.50 189.16,307.12 190.44,306.83 191.80,306.65 193.23,306.57 194.70,306.60 195.89,306.69 197.15,306.83 198.45,307.04 199.78,307.31 201.12,307.65 202.45,308.06 203.75,308.54 205.00,309.10 206.20,309.74 207.38,310.46 208.54,311.27 209.69,312.14 210.82,313.08 211.94,314.07 213.04,315.11 214.13,316.19 215.20,317.30 216.12,318.31 217.02,319.38 217.91,320.49 218.78,321.64 219.64,322.83 220.50,324.06 221.34,325.30 222.18,326.57 223.01,327.85 223.84,329.13 224.67,330.42 225.50,331.70 226.26,332.88 227.01,334.09 227.76,335.31 228.50,336.55 229.23,337.79 229.97,339.05 230.70,340.32 231.42,341.59 232.15,342.87 232.88,344.14 233.61,345.42 234.33,346.68 235.07,347.95 235.80,349.20 236.53,350.45 237.27,351.69 238.00,352.94 238.74,354.19 239.47,355.44 240.20,356.69 240.94,357.94 241.67,359.19 242.41,360.43 243.14,361.67 243.88,362.91 244.62,364.15 245.36,365.38 246.10,366.60 246.89,367.90 247.70,369.22 248.51,370.55 249.34,371.88 250.16,373.21 250.98,374.54 251.80,375.85 252.61,377.14 253.41,378.41 254.19,379.65 254.95,380.84 255.69,382.00 256.40,383.10 257.24,384.39 258.06,385.64 258.86,386.85 259.63,388.01 260.39,389.13 261.12,390.20 261.82,391.22 262.50,392.20" fill="none" stroke="#2ca02c" stroke-width="2.9" stroke-linejoin="round" stroke-linecap="butt"/>
<polyline clip-path="url(#cL2)" points="49.80,400.00 49.93,398.89 50.06,397.78 50.20,396.30 50.27,395.43 50.33,394.42 50.40,393.27 50.47,392.00 50.54,390.63 50.61,389.17 50.69,387.64 50.76,386.06 50.84,384.43 50.93,382.77 51.02,381.11 51.11,379.44 51.21,377.80 51.31,376.19 51.42,374.63 51.54,373.14 51.67,371.72 51.80,370.40 51.98,368.74 52.16,367.08 52.35,365.43 52.54,363.81 52.74,362.21 52.96,360.67 53.19,359.20 53.43,357.80 53.70,356.49 53.99,355.28 54.30,354.20 54.85,352.80 55.45,351.68 56.08,350.62 56.70,349.40 57.18,348.09 57.62,346.60 58.06,345.04 58.56,343.54 59.15,342.26 59.90,341.30 61.00,340.60 62.29,340.19 63.60,340.00 64.80,340.00 65.93,340.24 66.98,340.72 68.00,341.30 69.07,342.20 70.12,343.22 71.20,343.70 72.18,343.33 73.18,342.44 74.22,341.39 75.30,340.50 76.46,339.89 77.67,339.37 78.89,338.82 80.10,338.10 81.06,337.24 81.99,336.14 82.93,334.97 83.87,333.85 84.82,332.95 85.80,332.40 86.98,332.26 88.18,332.47 89.40,332.84 90.60,333.20 91.83,333.57 93.05,334.03 94.27,334.47 95.50,334.80 96.70,335.02 97.90,335.19 99.10,335.26 100.30,335.20 101.53,334.86 102.76,334.31 103.98,333.80 105.20,333.60 106.38,333.88 107.54,334.47 108.73,335.10 110.00,335.50 111.29,335.51 112.70,335.29 114.12,335.01 115.49,334.86 116.70,335.00 117.82,335.58 118.81,336.43 119.74,337.39 120.70,338.30 121.72,339.11 122.76,339.91 123.77,340.75 124.70,341.70 125.42,342.72 126.07,343.89 126.68,345.09 127.31,346.17 128.00,347.00 129.45,348.05 130.70,348.30 131.14,347.31 131.27,345.61 131.40,344.00 131.60,342.74 131.81,341.53 132.00,341.00 132.18,341.54 132.34,342.74 132.50,344.00 132.56,345.48 132.61,347.05 133.00,348.30 133.84,348.88 134.95,349.21 136.00,349.70 136.94,350.74 137.79,351.97 138.70,353.00 140.01,353.98 141.30,354.30 142.07,353.70 142.78,352.55 143.43,351.12 144.00,349.70 144.39,348.59 144.72,347.40 145.00,346.15 145.25,344.87 145.48,343.58 145.70,342.30 145.90,340.80 146.07,339.07 146.21,337.33 146.36,335.80 146.51,334.72 146.70,334.30 146.90,334.81 147.12,336.15 147.34,337.97 147.58,339.97 147.84,341.80 148.11,343.16 148.40,343.70 148.92,343.04 149.48,341.45 150.00,339.70 150.31,338.35 150.58,336.66 150.84,334.88 151.09,333.29 151.34,332.14 151.60,331.70 151.88,332.09 152.16,333.12 152.45,334.60 152.73,336.32 153.02,338.09 153.30,339.70 153.51,340.97 153.71,342.35 153.90,343.81 154.09,345.30 154.28,346.77 154.49,348.19 154.72,349.51 154.99,350.70 155.30,351.70 155.95,353.25 156.66,354.52 157.30,355.00 157.68,354.50 158.00,353.31 158.27,351.66 158.52,349.79 158.76,347.92 159.00,346.30 159.23,344.76 159.45,343.02 159.65,341.28 159.85,339.77 160.07,338.71 160.30,338.30 160.55,338.93 160.80,340.52 161.06,342.59 161.34,344.68 161.65,346.30 162.00,347.00 162.62,346.01 163.30,345.00 163.71,345.56 164.13,346.89 164.55,348.62 165.00,350.35 165.48,351.70 166.00,352.30 166.90,351.49 167.86,349.86 168.70,349.00 169.35,349.83 170.00,351.20 170.73,352.22 171.58,353.26 172.50,354.00 173.73,354.38 175.10,354.30 176.05,353.99 177.08,353.48 178.16,352.82 179.25,352.04 180.30,351.20 181.18,350.36 182.02,349.39 182.85,348.33 183.69,347.22 184.56,346.10 185.49,345.02 186.50,344.00 187.48,343.13 188.51,342.24 189.60,341.35 190.72,340.47 191.88,339.62 193.06,338.82 194.27,338.07 195.48,337.39 196.70,336.80 198.05,336.22 199.45,335.69 200.89,335.21 202.34,334.81 203.80,334.49 205.24,334.27 206.64,334.17 208.00,334.20 209.40,334.38 210.76,334.70 212.10,335.15 213.42,335.70 214.73,336.36 216.02,337.09 217.30,337.90 218.37,338.65 219.44,339.50 220.49,340.41 221.53,341.40 222.57,342.44 223.59,343.53 224.61,344.64 225.62,345.79 226.61,346.94 227.60,348.10 228.50,349.18 229.39,350.29 230.27,351.44 231.14,352.61 232.00,353.80 232.85,355.01 233.70,356.24 234.55,357.48 235.39,358.73 236.23,359.98 237.06,361.24 237.90,362.50 238.71,363.73 239.51,364.99 240.30,366.28 241.10,367.58 241.89,368.90 242.67,370.22 243.46,371.53 244.24,372.84 245.02,374.13 245.79,375.40 246.56,376.64 247.33,377.84 248.10,379.00 248.95,380.24 249.80,381.46 250.65,382.66 251.49,383.83 252.33,384.98 253.16,386.10 253.99,387.19 254.81,388.26 255.61,389.29 256.40,390.30 257.32,391.45 258.24,392.56 259.15,393.63 260.03,394.66 260.90,395.65 261.72,396.60 262.50,397.50" fill="none" stroke="#9467bd" stroke-width="2.9" stroke-linejoin="round" stroke-linecap="butt"/>
<polyline clip-path="url(#cL2)" points="49.70,427.48 50.29,426.84 51.29,425.78 52.38,424.72 53.50,423.80 54.65,423.08 55.88,422.47 57.11,421.90 58.30,421.30 59.41,420.79 60.52,420.34 61.55,419.77 62.40,418.90 62.87,417.94 63.20,416.76 63.40,415.40 63.53,413.91 63.62,412.35 63.70,410.74 63.82,409.14 64.00,407.60 64.21,406.19 64.42,404.70 64.63,403.16 64.85,401.60 65.08,400.03 65.31,398.48 65.56,396.98 65.82,395.55 66.10,394.22 66.40,393.00 66.81,391.52 67.23,390.17 67.68,388.93 68.19,387.75 68.80,386.60 69.53,385.59 70.38,384.69 71.28,383.81 72.15,382.85 72.90,381.70 73.42,380.52 73.87,379.17 74.25,377.70 74.61,376.17 74.95,374.62 75.29,373.11 75.67,371.68 76.10,370.40 76.69,368.97 77.31,367.64 77.96,366.38 78.62,365.18 79.30,364.00 80.10,362.76 80.94,361.61 81.78,360.43 82.60,359.10 83.16,357.93 83.67,356.61 84.16,355.20 84.67,353.78 85.23,352.43 85.86,351.21 86.60,350.20 87.59,349.29 88.69,348.54 89.86,347.93 91.08,347.43 92.30,347.00 93.53,346.68 94.80,346.47 96.10,346.35 97.40,346.27 98.70,346.20 100.01,346.12 101.35,346.05 102.68,346.03 103.97,346.07 105.20,346.20 106.45,346.49 107.63,346.90 108.80,347.33 110.00,347.70 111.33,347.94 112.70,348.10 114.05,348.31 115.30,348.70 116.38,349.28 117.39,350.01 118.35,350.83 119.30,351.70 120.13,352.54 120.95,353.46 121.75,354.42 122.53,355.38 123.30,356.30 124.14,357.35 124.95,358.40 125.78,359.40 126.70,360.30 127.78,361.07 128.95,361.72 130.15,362.35 131.30,363.00 132.34,363.64 133.35,364.26 134.34,364.93 135.30,365.70 136.13,366.52 136.93,367.44 137.71,368.41 138.50,369.38 139.30,370.30 140.32,371.50 141.36,372.78 142.38,373.82 143.30,374.30 144.39,373.97 145.30,373.00 145.69,371.81 145.92,370.09 146.06,368.29 146.19,366.88 146.40,366.30 146.67,366.98 146.96,368.63 147.27,370.60 147.61,372.27 148.00,373.00 148.64,372.31 149.35,370.70 150.00,369.00 150.45,367.49 150.85,365.74 151.22,364.30 151.60,363.70 151.95,364.16 152.29,365.34 152.62,366.94 152.96,368.69 153.30,370.30 153.57,371.61 153.82,373.04 154.06,374.54 154.32,376.02 154.60,377.42 154.92,378.67 155.30,379.70 155.94,380.94 156.65,381.94 157.30,382.30 157.78,381.77 158.22,380.55 158.62,378.94 158.97,377.23 159.30,375.70 159.57,374.16 159.78,372.39 159.97,370.73 160.16,369.49 160.40,369.00 160.67,369.67 160.95,371.30 161.25,373.25 161.60,374.93 162.00,375.70 162.63,375.01 163.30,374.30 163.80,375.03 164.29,376.63 164.80,378.55 165.36,380.19 166.00,381.00 166.86,380.55 167.80,379.52 168.70,379.00 169.56,379.68 170.38,381.02 171.30,382.30 172.22,383.21 173.25,384.15 174.30,384.93 175.30,385.40 176.62,385.36 178.00,385.00 179.38,384.76 180.86,384.47 182.30,384.10 183.55,383.64 184.76,383.10 186.00,382.50 187.15,381.98 188.35,381.45 189.52,380.81 190.60,380.00 191.47,379.00 192.25,377.81 192.98,376.52 193.71,375.22 194.50,374.00 195.32,372.91 196.16,371.86 197.02,370.82 197.90,369.78 198.80,368.70 199.63,367.67 200.47,366.60 201.34,365.52 202.21,364.46 203.10,363.44 204.00,362.50 204.99,361.55 205.99,360.64 207.01,359.80 208.05,359.04 209.10,358.40 210.31,357.84 211.54,357.40 212.78,357.07 214.00,356.80 215.45,356.52 216.89,356.35 218.30,356.40 219.71,356.74 221.10,357.30 222.50,358.00 223.49,358.54 224.47,359.14 225.47,359.81 226.50,360.59 227.60,361.50 228.43,362.25 229.31,363.10 230.23,364.02 231.17,365.00 232.14,366.04 233.11,367.13 234.09,368.24 235.07,369.38 236.04,370.53 236.98,371.67 237.90,372.80 238.78,373.92 239.66,375.09 240.54,376.28 241.40,377.49 242.26,378.73 243.11,379.97 243.96,381.21 244.80,382.45 245.64,383.67 246.46,384.88 247.29,386.06 248.10,387.20 248.96,388.40 249.82,389.61 250.67,390.80 251.51,391.98 252.35,393.15 253.17,394.29 253.99,395.40 254.80,396.47 255.61,397.51 256.40,398.50 257.31,399.59 258.23,400.62 259.14,401.62 260.03,402.57 260.89,403.49 261.72,404.36 262.50,405.20" fill="none" stroke="#e377c2" stroke-width="2.9" stroke-linejoin="round" stroke-linecap="butt"/>
<polyline clip-path="url(#cL2)" points="49.70,432.31 50.10,431.80 50.87,430.76 51.70,429.68 52.58,428.66 53.50,427.80 54.62,427.03 55.82,426.41 57.06,425.88 58.30,425.40 59.54,424.93 60.81,424.49 62.05,424.18 63.20,424.10 64.33,424.36 65.37,424.87 66.40,425.40 67.49,426.09 68.58,426.81 69.60,427.00 70.51,426.40 71.37,425.24 72.17,423.74 72.90,422.10 73.32,420.98 73.70,419.71 74.04,418.33 74.35,416.85 74.64,415.31 74.93,413.73 75.20,412.14 75.49,410.58 75.78,409.05 76.10,407.60 76.44,406.11 76.77,404.59 77.10,403.07 77.43,401.55 77.77,400.06 78.12,398.62 78.49,397.23 78.88,395.92 79.30,394.70 79.91,393.27 80.58,392.03 81.26,390.86 81.95,389.62 82.60,388.20 83.01,387.08 83.39,385.84 83.76,384.51 84.12,383.13 84.47,381.72 84.84,380.32 85.23,378.94 85.64,377.63 86.10,376.40 86.60,375.30 87.31,374.00 88.06,372.79 88.86,371.67 89.70,370.63 90.58,369.67 91.50,368.80 92.54,368.01 93.64,367.37 94.78,366.80 95.94,366.24 97.10,365.60 98.15,364.88 99.22,364.06 100.30,363.22 101.39,362.45 102.49,361.85 103.60,361.50 104.86,361.51 106.16,361.85 107.46,362.33 108.75,362.77 110.00,363.00 111.38,362.88 112.75,362.54 114.06,362.27 115.30,362.30 116.38,362.71 117.39,363.36 118.35,364.15 119.30,365.00 120.14,365.83 120.94,366.76 121.72,367.74 122.51,368.74 123.30,369.70 124.08,370.64 124.84,371.58 125.62,372.52 126.43,373.43 127.30,374.30 128.32,375.15 129.42,375.94 130.56,376.71 131.67,377.49 132.70,378.30 133.77,379.27 134.77,380.25 135.73,381.26 136.70,382.30 137.51,383.22 138.29,384.20 139.08,385.18 139.88,386.12 140.70,387.00 141.73,388.08 142.81,389.20 143.84,390.05 144.70,390.30 145.39,389.36 145.91,387.80 146.40,387.00 146.81,387.73 147.17,389.32 147.55,390.92 148.00,391.70 148.83,390.99 149.70,389.70 150.52,388.42 151.30,387.70 151.83,388.31 152.31,389.68 152.79,391.38 153.30,393.00 153.71,394.22 154.13,395.57 154.56,396.96 155.00,398.28 155.48,399.43 156.00,400.30 157.01,401.37 158.00,401.70 158.49,400.98 158.91,399.46 159.29,397.56 159.63,395.69 159.96,394.27 160.30,393.70 160.62,394.28 160.89,395.67 161.18,397.38 161.52,398.89 162.00,399.70 162.97,399.36 164.00,399.00 164.61,399.79 165.15,401.28 165.66,402.98 166.17,404.38 166.70,405.00 167.36,404.33 168.02,403.01 168.70,402.30 169.30,402.78 169.90,403.90 170.54,405.22 171.30,406.30 172.18,407.08 173.17,407.77 174.22,408.36 175.30,408.80 176.41,409.08 177.56,409.22 178.76,409.25 180.00,409.20 181.22,409.06 182.49,408.81 183.80,408.49 185.14,408.14 186.50,407.80 187.86,407.53 189.30,407.30 190.77,407.05 192.20,406.74 193.53,406.30 194.70,405.70 195.77,404.80 196.67,403.71 197.47,402.50 198.22,401.24 199.00,400.00 199.68,398.94 200.34,397.86 200.98,396.75 201.61,395.64 202.25,394.52 202.90,393.40 203.57,392.25 204.25,391.07 204.92,389.90 205.60,388.73 206.30,387.59 207.00,386.50 207.79,385.30 208.58,384.11 209.39,382.97 210.23,381.91 211.10,381.00 212.04,380.23 213.01,379.58 214.00,379.02 215.00,378.50 216.22,377.89 217.46,377.35 218.80,376.90 220.13,376.53 221.57,376.20 223.05,375.97 224.50,375.90 225.94,375.99 227.38,376.22 228.80,376.59 230.20,377.10 231.40,377.69 232.57,378.42 233.73,379.24 234.87,380.11 236.00,381.00 236.98,381.79 237.94,382.61 238.90,383.46 239.84,384.35 240.77,385.26 241.70,386.20 242.67,387.25 243.63,388.35 244.57,389.48 245.51,390.63 246.45,391.77 247.40,392.90 248.35,394.00 249.30,395.09 250.26,396.18 251.21,397.27 252.16,398.38 253.10,399.50 253.94,400.52 254.79,401.58 255.64,402.65 256.48,403.72 257.29,404.76 258.07,405.76 258.80,406.70 259.68,407.84 260.49,408.90 261.28,409.93 262.10,411.00 262.50,411.52" fill="none" stroke="#bcbd22" stroke-width="2.9" stroke-linejoin="round" stroke-linecap="butt"/>
<polyline clip-path="url(#cL3)" points="49.70,541.30 49.70,541.30 50.20,539.99 50.64,538.55 51.11,537.17 51.70,536.00 52.47,535.03 53.34,534.24 54.30,533.70 55.39,533.49 56.58,533.53 57.70,533.70 59.04,534.09 60.30,534.70 61.18,535.33 62.04,536.06 63.00,536.70 64.26,537.18 65.64,537.56 67.00,538.00 68.32,538.61 69.63,539.29 71.00,540.00 72.27,540.65 73.60,541.33 74.95,542.02 76.30,542.70 77.64,543.38 78.99,544.08 80.34,544.73 81.70,545.30 83.00,545.74 84.30,546.10 85.62,546.41 87.00,546.70 88.29,546.94 89.62,547.16 90.98,547.35 92.35,547.53 93.70,547.70 95.04,547.87 96.40,548.04 97.74,548.19 99.05,548.31 100.30,548.40 101.53,548.39 102.71,548.32 103.86,548.28 105.00,548.40 106.16,548.78 107.29,549.32 108.44,549.91 109.70,550.40 111.07,550.67 112.56,550.81 114.10,550.95 115.60,551.20 117.00,551.70 118.15,552.43 119.24,553.38 120.28,554.46 121.29,555.59 122.29,556.70 123.30,557.70 124.43,558.72 125.59,559.73 126.71,560.70 127.77,561.57 128.70,562.30 129.94,563.34 130.90,563.70 131.22,563.16 131.37,562.08 131.41,560.65 131.39,559.04 131.36,557.43 131.40,556.00 131.48,554.54 131.57,552.86 131.65,551.19 131.73,549.73 131.82,548.69 131.90,548.30 131.98,548.69 132.06,549.70 132.15,551.15 132.23,552.82 132.31,554.50 132.40,556.00 132.47,557.30 132.52,558.68 132.57,560.09 132.63,561.48 132.72,562.80 132.84,563.99 133.00,565.00 133.41,566.44 134.00,567.70 134.56,568.67 135.25,569.69 135.98,570.72 136.70,571.70 137.54,573.05 138.40,574.35 139.30,575.00 140.21,574.76 141.17,574.00 142.00,573.00 142.55,571.98 142.97,570.74 143.32,569.34 143.65,567.84 144.00,566.30 144.27,564.99 144.53,563.42 144.78,561.69 145.02,559.91 145.26,558.20 145.51,556.68 145.76,555.44 146.02,554.61 146.30,554.30 146.70,554.98 147.12,556.63 147.55,558.61 147.98,560.28 148.40,561.00 149.06,560.06 149.70,558.30 150.12,556.86 150.52,555.10 150.91,553.61 151.30,553.00 151.59,553.36 151.86,554.31 152.13,555.70 152.40,557.35 152.68,559.11 152.98,560.81 153.30,562.30 153.64,563.72 153.98,565.25 154.34,566.80 154.72,568.30 155.12,569.67 155.54,570.83 156.00,571.70 156.88,572.70 157.70,573.00 158.15,572.34 158.45,570.99 158.71,569.32 159.00,567.70 159.27,566.28 159.55,564.57 159.83,562.81 160.12,561.25 160.41,560.13 160.70,559.70 161.01,560.36 161.29,561.94 161.60,563.86 161.96,565.51 162.40,566.30 163.17,565.66 164.00,565.00 164.55,565.70 165.08,567.19 165.60,568.92 166.14,570.37 166.70,571.00 167.31,570.43 167.94,569.09 168.60,567.71 169.30,567.00 170.15,567.39 171.05,568.33 172.00,569.00 172.97,569.12 173.99,569.01 175.00,568.70 175.93,568.24 176.85,567.61 177.77,566.82 178.70,565.90 179.48,564.94 180.26,563.77 181.05,562.46 181.83,561.12 182.62,559.82 183.41,558.65 184.20,557.70 185.12,556.82 186.03,556.09 186.97,555.50 188.00,555.00 189.23,554.55 190.53,554.21 191.92,554.02 193.40,554.00 194.60,554.11 195.88,554.33 197.23,554.64 198.60,555.04 199.97,555.52 201.31,556.08 202.60,556.70 203.80,557.39 204.97,558.18 206.12,559.06 207.25,560.00 208.37,560.99 209.49,562.02 210.59,563.06 211.70,564.10 212.66,565.02 213.64,565.98 214.63,566.98 215.62,568.01 216.60,569.05 217.55,570.09 218.46,571.11 219.34,572.11 220.15,573.08 220.90,574.00 221.86,575.25 222.69,576.42 223.45,577.56 224.20,578.74 225.00,580.00 225.70,581.12 226.40,582.27 227.10,583.45 227.81,584.67 228.54,585.95 229.30,587.29 230.10,588.70 230.73,589.81 231.38,590.97 232.05,592.19 232.75,593.45 233.46,594.74 234.18,596.06 234.92,597.40 235.66,598.76 236.40,600.12 237.13,601.48 237.87,602.84 238.59,604.18 239.30,605.50 239.96,606.73 240.62,607.98 241.27,609.22 241.93,610.48 242.58,611.73 243.23,612.99 243.88,614.25 244.54,615.50 245.19,616.76 245.85,618.00 246.50,619.24 247.17,620.47 247.83,621.69 248.50,622.90 249.21,624.15 249.93,625.41 250.67,626.68 251.42,627.94 252.18,629.21 252.93,630.46 253.68,631.70 254.41,632.92 255.13,634.11 255.82,635.27 256.48,636.39 257.11,637.47 257.70,638.50 258.41,639.78 259.07,640.98 259.68,642.12 260.27,643.22 260.84,644.31 261.41,645.39 262.00,646.50 262.50,647.43" fill="none" stroke="#1f77b4" stroke-width="2.9" stroke-linejoin="round" stroke-linecap="butt"/>
<polyline clip-path="url(#cL3)" points="49.70,544.70 50.13,543.58 50.48,542.29 50.82,540.97 51.21,539.73 51.70,538.70 52.47,537.70 53.34,536.90 54.30,536.30 55.39,535.90 56.58,535.70 57.70,535.70 59.03,536.07 60.30,536.70 61.18,537.25 62.05,537.87 63.00,538.40 64.27,538.74 65.64,538.97 67.00,539.30 68.33,539.87 69.63,540.57 71.00,541.30 72.27,541.95 73.60,542.64 74.95,543.34 76.30,544.00 77.64,544.66 78.98,545.31 80.34,545.91 81.70,546.40 83.00,546.72 84.30,546.94 85.63,547.11 87.00,547.30 88.29,547.51 89.62,547.73 90.98,547.94 92.35,548.14 93.70,548.30 95.04,548.43 96.40,548.54 97.74,548.63 99.05,548.68 100.30,548.70 101.54,548.62 102.71,548.45 103.86,548.34 105.00,548.40 106.16,548.75 107.29,549.30 108.44,549.90 109.70,550.40 111.05,550.74 112.49,551.01 113.99,551.24 115.51,551.46 111.19,550.58 112.71,550.67 114.21,550.81 115.65,551.11 117.00,551.70 118.06,552.54 119.07,553.69 120.04,555.01 120.95,556.41 121.80,557.75 122.58,558.92 123.30,559.80 124.34,560.71 123.30,559.80 124.30,560.60 124.42,560.70 125.29,561.43 125.57,561.65 126.29,562.23 126.70,562.53 127.30,562.97 127.76,563.29 128.59,563.83 128.70,563.90 129.88,564.66 129.94,564.68 130.90,564.86 130.90,564.86 131.22,564.31 131.32,563.81 131.37,563.44 131.41,562.44 131.41,561.40 131.41,560.35 131.41,559.42 131.48,558.32 131.52,557.80 131.55,556.81 131.55,556.22 131.55,555.60 131.55,555.01 131.55,554.47 131.55,553.94 131.55,553.34 131.55,552.72 131.55,552.14 131.57,551.75 131.58,551.36 131.64,550.25 131.65,550.06 131.70,549.40 131.73,549.08 131.76,548.90 131.82,548.76 131.82,548.78 131.89,549.08 131.90,549.15 131.95,549.79 131.98,550.12 132.03,550.85 132.06,551.43 132.11,552.25 132.15,552.90 132.20,553.90 132.23,554.47 132.28,555.41 132.31,556.27 132.32,556.51 132.38,557.64 132.40,557.96 132.47,559.12 132.48,559.44 132.52,560.18 132.57,561.21 132.63,562.25 132.68,562.79 132.72,563.25 132.84,564.16 133.00,565.00 133.41,566.19 133.62,566.62 134.00,567.29 134.40,567.90 134.56,568.12 135.25,568.98 135.30,569.05 135.98,569.81 136.40,570.28 136.70,570.59 137.54,571.59 137.63,571.69 138.40,572.47 138.70,572.62 139.30,572.75 139.48,572.68 140.12,572.23 140.21,572.15 140.70,571.55 141.11,570.96 141.17,570.85 141.45,570.26 141.75,569.53 142.00,568.91 142.05,568.77 142.35,567.90 142.55,567.40 142.70,566.90 142.97,566.11 143.15,565.46 143.32,564.86 143.64,563.63 143.65,563.60 144.00,562.30 144.14,561.73 144.27,561.20 144.53,559.92 144.61,559.48 144.78,558.49 145.00,557.13 145.02,557.00 145.23,555.62 145.26,555.33 145.41,554.29 145.51,553.42 145.55,553.08 145.67,552.02 145.76,551.12 145.77,551.03 145.86,550.20 145.95,549.45 146.02,548.96 146.05,548.84 146.16,548.46 146.30,548.24 146.46,548.58 146.62,549.17 146.70,549.61 146.77,550.06 146.93,551.20 147.11,552.41 147.12,552.52 147.30,553.70 147.50,554.94 147.55,555.19 147.74,555.99 147.98,556.78 148.00,556.81 148.40,557.09 148.55,556.90 149.06,555.96 149.15,555.71 149.70,554.10 149.96,553.09 150.12,552.36 150.18,552.00 150.38,550.83 150.52,549.96 150.56,549.71 150.73,548.71 150.90,547.81 150.91,547.79 151.09,547.28 151.30,546.94 151.57,547.30 151.59,547.34 151.84,548.25 151.86,548.33 152.12,549.68 152.13,549.73 152.40,551.37 152.41,551.42 152.68,553.11 152.70,553.23 152.98,554.79 153.00,554.88 153.23,556.04 153.30,556.38 153.46,557.15 153.64,558.09 153.67,558.27 153.89,559.43 153.98,559.90 154.12,560.61 154.34,561.67 154.37,561.80 154.65,562.97 154.72,563.25 154.95,564.09 155.12,564.61 155.30,565.11 155.54,565.70 155.95,566.48 156.00,566.57 156.66,567.38 156.88,567.58 157.30,567.76 157.70,567.68 157.74,567.63 158.10,566.86 158.15,566.74 158.42,565.47 158.45,565.31 158.71,563.69 158.71,563.69 159.00,562.10 159.24,560.81 159.27,560.61 159.46,559.41 159.55,558.75 159.66,558.03 159.83,556.88 159.86,556.73 160.07,555.63 160.12,555.42 160.30,554.86 160.41,554.67 160.56,554.64 160.70,554.76 160.82,555.14 161.01,555.82 161.10,556.34 161.29,557.48 161.39,558.04 161.60,559.26 161.69,559.66 161.96,560.65 162.00,560.72 162.40,560.89 162.62,560.60 163.17,559.92 163.30,559.76 163.69,559.75 164.00,559.94 164.10,560.14 164.54,561.11 164.55,561.13 164.99,562.53 165.08,562.77 165.48,564.03 165.60,564.34 166.00,565.20 166.14,565.40 166.70,565.63 166.86,565.48 167.31,564.92 167.78,563.98 167.94,563.71 168.60,562.60 168.70,562.49 169.30,562.30 169.52,562.43 170.15,563.03 170.33,563.27 171.05,564.02 171.30,564.23 172.00,564.58 172.53,564.64 172.97,564.64 173.91,564.49 173.99,564.47 175.00,564.12 175.30,563.99 175.93,563.67 176.35,563.41 176.85,563.07 177.41,562.62 177.77,562.32 178.47,561.67 178.70,561.45 179.48,560.57 179.51,560.53 180.26,559.51 180.50,559.16 181.05,558.32 181.22,558.04 181.83,557.01 181.89,556.91 182.52,555.81 182.62,555.64 183.14,554.77 183.41,554.32 183.78,553.78 184.20,553.19 184.45,552.88 185.12,552.11 185.18,552.05 186.00,551.30 186.03,551.28 186.97,550.60 187.08,550.53 188.00,550.00 188.24,549.88 189.23,549.43 189.46,549.34 190.53,548.97 190.74,548.92 191.92,548.64 192.05,548.62 193.40,548.47 194.60,548.45 194.63,548.45 195.88,548.53 195.92,548.53 197.23,548.70 197.25,548.70 198.60,548.96 198.60,548.96 199.95,549.29 199.97,549.30 201.29,549.80 201.31,549.81 202.60,550.39 202.60,550.39 203.80,551.04 203.95,551.13 204.97,551.78 205.33,552.04 206.12,552.60 206.72,553.07 207.25,553.49 208.08,554.18 208.37,554.43 209.39,555.31 209.49,555.40 210.59,556.41 210.60,556.41 211.70,557.42 212.66,558.35 212.92,558.60 213.64,559.34 213.97,559.68 214.63,560.39 214.96,560.74 215.62,561.45 216.00,561.87 216.60,562.51 217.16,563.13 217.55,563.56 218.33,564.43 218.46,564.59 219.34,565.59 219.51,565.80 220.15,566.57 220.70,567.25 220.90,567.51 221.65,568.49 221.86,568.77 222.61,569.83 222.69,569.95 223.45,571.09 223.57,571.27 224.20,572.26 224.53,572.78 225.00,573.53 225.48,574.30 225.70,574.67 226.40,575.83 226.40,575.83 227.10,577.03 227.24,577.29 227.81,578.29 228.06,578.74 228.54,579.60 228.86,580.18 229.30,580.99 229.65,581.64 230.10,582.44 230.45,583.02 230.73,583.46 231.26,584.35 231.38,584.54 232.05,585.65 232.10,585.73 232.75,586.81 232.87,587.01 233.46,587.99 233.67,588.34 234.18,589.20 234.48,589.70 234.92,590.43 235.30,591.08 235.66,591.67 236.12,592.46 236.40,592.92 236.94,593.84 237.13,594.17 237.75,595.21 237.87,595.41 238.54,596.55 238.59,596.64 239.30,597.84 239.96,598.97 240.16,599.31 240.62,600.10 241.00,600.76 241.27,601.23 241.82,602.19 241.93,602.37 242.58,603.51 242.63,603.60 243.23,604.65 243.43,605.00 243.88,605.79 244.22,606.38 244.54,606.94 245.00,607.75 245.19,608.08 245.74,609.05 245.85,609.23 246.47,610.31 246.50,610.38 247.17,611.52 247.18,611.54 247.83,612.66 247.88,612.75 248.50,613.79 248.59,613.94 249.21,614.97 249.29,615.11 249.93,616.16 250.00,616.27 250.67,617.36 250.71,617.41 251.40,618.52 251.42,618.55 252.10,619.62 252.18,619.75 252.80,620.73 252.93,620.94 253.51,621.85 253.68,622.12 254.24,623.01 254.41,623.28 255.00,624.21 255.13,624.41 255.68,625.29 255.82,625.52 256.40,626.45 256.48,626.59 257.11,627.62 257.14,627.66 257.70,628.60 257.90,628.93 258.41,629.80 258.66,630.23 259.07,630.93 259.42,631.54 259.68,632.00 260.16,632.85 260.27,633.03 260.84,634.03 260.88,634.11 261.41,635.04 261.56,635.31 262.00,636.07 262.20,636.44 262.50,636.98" fill="none" stroke="#ff7f0e" stroke-width="2.9" stroke-linejoin="round" stroke-linecap="butt"/>
<polyline clip-path="url(#cL3)" points="49.70,550.70 49.70,550.70 50.12,549.42 50.47,547.99 50.81,546.53 51.20,545.16 51.70,544.00 52.46,542.83 53.33,541.87 54.30,541.10 55.38,540.54 56.57,540.15 57.70,540.00 59.02,540.24 60.30,540.70 61.61,541.14 63.00,541.60 64.30,541.92 65.69,542.24 67.00,542.70 68.13,543.48 69.19,544.39 70.30,545.00 71.40,545.02 72.54,544.78 73.70,544.70 75.02,544.98 76.37,545.46 77.70,546.00 79.01,546.67 80.31,547.40 81.70,548.00 82.94,548.29 84.25,548.46 85.61,548.57 87.00,548.70 88.29,548.84 89.62,548.97 90.98,549.09 92.35,549.20 93.70,549.30 95.04,549.40 96.40,549.51 97.75,549.60 99.06,549.64 100.30,549.60 101.54,549.38 102.72,549.03 103.86,548.74 105.00,548.70 106.16,549.07 107.28,549.73 108.44,550.44 109.70,551.00 111.04,551.32 112.49,551.54 113.99,551.69 115.51,551.83 111.19,551.11 112.72,551.12 114.22,551.18 115.67,551.42 117.00,552.00 117.95,552.80 118.86,553.91 119.71,555.24 120.52,556.67 121.28,558.10 121.99,559.44 122.67,560.58 123.30,561.42 124.34,562.31 123.30,561.42 124.30,562.18 124.42,562.27 125.29,562.96 125.57,563.16 126.29,563.70 126.70,563.97 127.30,564.35 127.76,564.62 128.59,565.08 128.70,565.13 129.88,565.71 129.94,565.72 130.90,565.75 130.90,565.75 131.22,565.20 131.32,564.84 131.37,564.50 131.41,563.83 131.41,563.21 131.41,562.60 131.41,562.06 131.48,561.24 131.52,560.85 131.55,559.66 131.55,558.62 131.55,557.53 131.55,556.47 131.55,555.52 131.55,554.58 131.55,553.52 131.55,552.43 131.55,551.40 131.57,550.88 131.58,550.38 131.64,549.34 131.65,549.20 131.70,548.69 131.73,548.59 131.76,548.55 131.82,548.82 131.82,548.88 131.89,549.64 131.90,549.81 131.95,550.74 131.98,551.22 132.03,552.10 132.06,552.76 132.11,553.62 132.15,554.25 132.20,555.19 132.23,555.75 132.28,556.66 132.31,557.64 132.32,557.91 132.38,559.17 132.40,559.47 132.47,560.53 132.48,560.80 132.52,561.33 132.57,562.07 132.63,562.84 132.68,563.27 132.72,563.59 132.84,564.28 133.00,565.00 133.41,566.00 133.62,566.40 134.00,566.97 134.40,567.52 134.56,567.70 135.25,568.43 135.30,568.49 135.98,569.11 136.40,569.50 136.70,569.73 137.54,570.47 137.63,570.54 138.40,571.02 138.70,571.12 139.30,571.02 139.48,570.92 140.12,570.26 140.21,570.13 140.70,569.37 141.11,568.58 141.17,568.42 141.45,567.64 141.75,566.62 142.00,565.75 142.05,565.57 142.35,564.46 142.55,563.86 142.70,563.33 142.97,562.53 143.15,561.94 143.32,561.41 143.64,560.35 143.65,560.33 144.00,559.21 144.14,558.73 144.27,558.27 144.53,557.22 144.61,556.87 144.78,556.02 145.00,554.87 145.02,554.75 145.23,553.43 145.26,553.12 145.41,551.96 145.51,550.91 145.55,550.48 145.67,549.04 145.76,547.78 145.77,547.65 145.86,546.40 145.95,545.30 146.02,544.61 146.05,544.40 146.16,543.83 146.30,543.57 146.46,543.96 146.62,544.81 146.70,545.46 146.77,546.06 146.93,547.59 147.11,549.21 147.12,549.35 147.30,550.83 147.50,552.30 147.55,552.56 147.74,553.43 147.98,554.07 148.00,554.10 148.40,554.08 148.55,553.89 149.06,552.80 149.15,552.55 149.70,550.86 149.96,549.76 150.12,548.89 150.18,548.48 150.38,547.07 150.52,546.01 150.56,545.68 150.73,544.41 150.90,543.31 150.91,543.29 151.09,542.62 151.30,542.27 151.57,542.64 151.59,542.70 151.84,543.62 151.86,543.72 152.12,545.08 152.13,545.12 152.40,546.76 152.41,546.81 152.68,548.48 152.70,548.60 152.98,550.14 153.00,550.24 153.23,551.44 153.30,551.82 153.46,552.68 153.64,553.75 153.67,553.94 153.89,555.25 153.98,555.78 154.12,556.56 154.34,557.70 154.37,557.85 154.65,559.08 154.72,559.36 154.95,560.21 155.12,560.70 155.30,561.20 155.54,561.74 155.95,562.53 156.00,562.61 156.66,563.47 156.88,563.63 157.30,563.83 157.70,563.58 157.74,563.54 158.10,562.58 158.15,562.42 158.42,561.11 158.45,560.92 158.71,559.35 158.71,559.35 159.00,557.78 159.24,556.45 159.27,556.23 159.46,554.97 159.55,554.27 159.66,553.49 159.83,552.30 159.86,552.15 160.07,551.08 160.12,550.93 160.30,550.47 160.41,550.45 160.56,550.57 160.70,550.95 160.82,551.43 161.01,552.31 161.10,552.87 161.29,554.03 161.39,554.59 161.60,555.72 161.69,556.11 161.96,556.90 162.00,556.98 162.40,556.71 162.62,556.35 163.17,555.49 163.30,555.29 163.69,555.51 164.00,556.03 164.10,556.29 164.54,557.57 164.55,557.60 164.99,559.13 165.08,559.37 165.48,560.57 165.60,560.81 166.00,561.50 166.14,561.57 166.70,561.48 166.86,561.34 167.31,560.68 167.78,559.79 167.94,559.57 168.60,558.65 168.70,558.55 169.30,558.67 169.52,558.83 170.15,559.67 170.33,559.94 171.05,560.70 171.30,560.94 172.00,561.17 172.53,561.22 172.97,561.18 173.91,561.00 173.99,560.97 175.00,560.59 175.30,560.46 175.93,560.14 176.35,559.89 176.85,559.54 177.41,559.12 177.77,558.82 178.47,558.20 178.70,557.98 179.48,557.16 179.51,557.13 180.26,556.19 180.50,555.88 181.05,555.08 181.22,554.82 181.83,553.79 181.89,553.69 182.52,552.54 182.62,552.35 183.14,551.40 183.41,550.92 183.78,550.30 184.20,549.64 184.45,549.27 185.12,548.40 185.18,548.32 186.00,547.49 186.03,547.46 186.97,546.71 187.08,546.63 188.00,546.03 188.24,545.88 189.23,545.35 189.46,545.24 190.53,544.78 190.74,544.71 191.92,544.33 192.05,544.30 193.40,544.01 194.60,543.88 194.63,543.87 195.88,543.83 195.92,543.83 197.23,543.87 197.25,543.87 198.60,544.00 198.60,544.00 199.95,544.21 199.97,544.21 201.29,544.66 201.31,544.67 202.60,545.20 202.60,545.20 203.80,545.80 203.95,545.88 204.97,546.48 205.33,546.72 206.12,547.25 206.72,547.68 207.25,548.07 208.08,548.71 208.37,548.95 209.39,549.78 209.49,549.87 210.59,550.83 210.60,550.83 211.70,551.81 212.66,552.73 212.92,552.97 213.64,553.73 213.97,554.07 214.63,554.79 214.96,555.15 215.62,555.87 216.00,556.29 216.60,556.93 217.16,557.54 217.55,557.97 218.33,558.83 218.46,558.98 219.34,559.98 219.51,560.18 220.15,560.95 220.70,561.63 220.90,561.88 221.65,562.86 221.86,563.15 222.61,564.19 222.69,564.31 223.45,565.43 223.57,565.61 224.20,566.59 224.53,567.10 225.00,567.85 225.48,568.61 225.70,568.97 226.40,570.13 226.40,570.13 227.10,571.33 227.24,571.59 227.81,572.60 228.06,573.05 228.54,573.93 228.86,574.52 229.30,575.34 229.65,576.00 230.10,576.82 230.45,577.38 230.73,577.82 231.26,578.69 231.38,578.87 232.05,579.96 232.10,580.04 232.75,581.08 232.87,581.29 233.46,582.24 233.67,582.58 234.18,583.42 234.48,583.91 234.92,584.62 235.30,585.25 235.66,585.84 236.12,586.61 236.40,587.06 236.94,587.96 237.13,588.28 237.75,589.29 237.87,589.49 238.54,590.60 238.59,590.69 239.30,591.87 239.96,592.97 240.16,593.30 240.62,594.07 241.00,594.71 241.27,595.17 241.82,596.11 241.93,596.28 242.58,597.39 242.63,597.48 243.23,598.50 243.43,598.85 243.88,599.62 244.22,600.20 244.54,600.74 245.00,601.54 245.19,601.87 245.74,602.82 245.85,603.00 246.47,604.07 246.50,604.14 247.17,605.28 247.18,605.31 247.83,606.43 247.88,606.52 248.50,607.57 248.59,607.71 249.21,608.75 249.29,608.89 249.93,609.96 250.00,610.07 250.67,611.17 250.71,611.22 251.40,612.35 251.42,612.38 252.10,613.47 252.18,613.60 252.80,614.60 252.93,614.81 253.51,615.74 253.68,616.01 254.24,616.92 254.41,617.19 255.00,618.15 255.13,618.35 255.68,619.25 255.82,619.48 256.40,620.43 256.48,620.57 257.11,621.62 257.14,621.66 257.70,622.61 257.90,622.95 258.41,623.83 258.66,624.26 259.07,624.97 259.42,625.58 259.68,626.04 260.16,626.89 260.27,627.07 260.84,628.08 260.88,628.15 261.41,629.08 261.56,629.35 262.00,630.11 262.20,630.47 262.50,631.01" fill="none" stroke="#2ca02c" stroke-width="2.9" stroke-linejoin="round" stroke-linecap="butt"/>
<polyline clip-path="url(#cL3)" points="49.70,557.30 49.70,557.30 50.13,556.17 50.49,554.92 50.84,553.62 51.23,552.39 51.70,551.30 52.46,550.03 53.33,548.92 54.30,548.00 55.38,547.26 56.56,546.69 57.70,546.40 59.01,546.61 60.30,547.00 61.62,547.12 63.00,547.30 64.31,547.63 65.70,548.08 67.00,548.70 68.14,549.76 69.19,550.99 70.30,551.70 71.39,551.47 72.53,550.82 73.70,550.40 75.00,550.52 76.35,550.91 77.70,551.30 79.01,551.65 80.32,552.01 81.70,552.30 82.95,552.46 84.26,552.57 85.61,552.64 87.00,552.70 88.29,552.74 89.63,552.77 90.99,552.77 92.35,552.75 93.70,552.70 95.04,552.62 96.40,552.53 97.75,552.40 99.06,552.23 100.30,552.00 101.54,551.59 102.71,551.06 103.85,550.60 105.00,550.40 106.15,550.60 107.28,551.06 108.44,551.59 109.70,552.00 111.05,552.23 112.49,552.38 114.00,552.49 115.51,552.58 111.19,552.04 112.72,551.98 114.23,551.97 115.67,552.16 117.00,552.70 117.96,553.52 118.87,554.69 119.72,556.08 120.52,557.60 121.28,559.13 121.99,560.55 122.66,561.75 123.30,562.62 124.33,563.48 123.30,562.62 124.30,563.35 124.42,563.43 125.29,564.10 125.57,564.29 126.29,564.80 126.70,565.03 127.30,565.38 127.76,565.60 128.59,566.00 128.70,566.04 129.88,566.50 129.94,566.49 130.90,566.41 130.90,566.41 131.22,565.86 131.32,565.61 131.37,565.28 131.41,564.85 131.41,564.56 131.41,564.27 131.41,564.01 131.48,563.40 131.52,563.11 131.55,561.77 131.55,560.39 131.55,558.95 131.55,557.55 131.55,556.30 131.55,555.06 131.55,553.65 131.55,552.21 131.55,550.86 131.57,550.24 131.58,549.65 131.64,548.66 131.65,548.56 131.70,548.17 131.73,548.22 131.76,548.29 131.82,548.86 131.82,548.96 131.89,550.05 131.90,550.29 131.95,551.45 131.98,552.04 132.03,553.02 132.06,553.75 132.11,554.63 132.15,555.26 132.20,556.14 132.23,556.69 132.28,557.59 132.31,558.65 132.32,558.95 132.38,560.31 132.40,560.59 132.47,561.57 132.48,561.80 132.52,562.19 132.57,562.71 132.63,563.28 132.68,563.63 132.72,563.85 132.84,564.38 133.00,565.00 133.41,565.86 133.62,566.25 134.00,566.74 134.40,567.24 134.56,567.39 135.25,568.02 135.30,568.07 135.98,568.60 136.40,568.92 136.70,569.10 137.54,569.64 137.63,569.69 138.40,569.95 138.70,570.00 139.30,569.74 139.48,569.63 140.12,568.80 140.21,568.64 140.70,567.75 141.11,566.81 141.17,566.62 141.45,565.69 141.75,564.47 142.00,563.41 142.05,563.20 142.35,561.92 142.55,561.25 142.70,560.68 142.97,559.89 143.15,559.33 143.32,558.85 143.64,557.93 143.65,557.91 144.00,556.92 144.14,556.51 144.27,556.10 144.53,555.22 144.61,554.93 144.78,554.19 145.00,553.20 145.02,553.08 145.23,551.80 145.26,551.48 145.41,550.23 145.51,549.05 145.55,548.55 145.67,546.83 145.76,545.31 145.77,545.15 145.86,543.59 145.95,542.22 146.02,541.38 146.05,541.12 146.16,540.40 146.30,540.11 146.46,540.53 146.62,541.57 146.70,542.39 146.77,543.09 146.93,544.91 147.11,546.84 147.12,547.00 147.30,548.71 147.50,550.34 147.55,550.60 147.74,551.52 147.98,552.07 148.00,552.10 148.40,551.85 148.55,551.67 149.06,550.45 149.15,550.21 149.70,548.46 149.96,547.30 150.12,546.32 150.18,545.87 150.38,544.29 150.52,543.07 150.56,542.70 150.73,541.23 150.90,539.99 150.91,539.96 151.09,539.16 151.30,538.81 151.57,539.19 151.59,539.26 151.84,540.20 151.86,540.30 152.12,541.66 152.13,541.71 152.40,543.34 152.41,543.39 152.68,545.05 152.70,545.17 152.98,546.69 153.00,546.80 153.23,548.04 153.30,548.44 153.46,549.36 153.64,550.53 153.67,550.74 153.89,552.16 153.98,552.72 154.12,553.56 154.34,554.77 154.37,554.92 154.65,556.20 154.72,556.47 154.95,557.34 155.12,557.81 155.30,558.31 155.54,558.81 155.95,559.60 156.00,559.68 156.66,560.57 156.88,560.71 157.30,560.92 157.70,560.55 157.74,560.50 158.10,559.41 158.15,559.22 158.42,557.87 158.45,557.68 158.71,556.14 158.71,556.14 159.00,554.58 159.24,553.23 159.27,552.99 159.46,551.68 159.55,550.94 159.66,550.13 159.83,548.92 159.86,548.75 160.07,547.72 160.12,547.60 160.30,547.22 160.41,547.33 160.56,547.55 160.70,548.12 160.82,548.67 161.01,549.72 161.10,550.29 161.29,551.48 161.39,552.04 161.60,553.10 161.69,553.49 161.96,554.12 162.00,554.20 162.40,553.62 162.62,553.20 163.17,552.20 163.30,551.98 163.69,552.37 164.00,553.14 164.10,553.44 164.54,554.95 164.55,554.99 164.99,556.61 165.08,556.84 165.48,558.01 165.60,558.20 166.00,558.76 166.14,558.73 166.70,558.41 166.86,558.27 167.31,557.53 167.78,556.68 167.94,556.50 168.60,555.73 168.70,555.63 169.30,555.98 169.52,556.17 170.15,557.17 170.33,557.48 171.05,558.24 171.30,558.50 172.00,558.64 172.53,558.69 172.97,558.61 173.91,558.41 173.99,558.38 175.00,557.98 175.30,557.86 175.93,557.54 176.35,557.31 176.85,556.98 177.41,556.59 177.77,556.30 178.47,555.72 178.70,555.51 179.48,554.75 179.51,554.72 180.26,553.86 180.50,553.58 181.05,552.82 181.22,552.58 181.83,551.56 181.89,551.47 182.52,550.30 182.62,550.11 183.14,549.11 183.41,548.61 183.78,547.95 184.20,547.25 184.45,546.85 185.12,545.93 185.18,545.85 186.00,544.98 186.03,544.95 186.97,544.18 187.08,544.09 188.00,543.47 188.24,543.31 189.23,542.76 189.46,542.64 190.53,542.16 190.74,542.08 191.92,541.68 192.05,541.64 193.40,541.32 194.60,541.15 194.63,541.15 195.88,541.08 195.92,541.07 197.23,541.09 197.25,541.09 198.60,541.20 198.60,541.20 199.95,541.38 199.97,541.39 201.29,541.70 201.31,541.71 202.60,542.11 202.60,542.11 203.80,542.58 203.95,542.64 204.97,543.13 205.33,543.32 206.12,543.75 206.72,544.10 207.25,544.43 208.08,544.96 208.37,545.16 209.39,545.85 209.49,545.93 210.59,546.73 210.60,546.74 211.70,547.57 212.66,548.37 212.92,548.59 213.64,549.27 213.97,549.57 214.63,550.24 214.96,550.56 215.62,551.21 216.00,551.59 216.60,552.15 217.16,552.69 217.55,553.06 218.33,553.81 218.46,553.94 219.34,554.81 219.51,554.99 220.15,555.67 220.70,556.26 220.90,556.49 221.65,557.36 221.86,557.61 222.61,558.53 222.69,558.64 223.45,559.63 223.57,559.79 224.20,560.65 224.53,561.11 225.00,561.77 225.48,562.45 225.70,562.78 226.40,563.81 226.40,563.81 227.10,564.90 227.24,565.13 227.81,566.04 228.06,566.46 228.54,567.27 228.86,567.81 229.30,568.57 229.65,569.18 230.10,569.95 230.45,570.51 230.73,570.96 231.26,571.82 231.38,572.01 232.05,573.10 232.10,573.17 232.75,574.21 232.87,574.42 233.46,575.37 233.67,575.71 234.18,576.55 234.48,577.03 234.92,577.75 235.30,578.38 235.66,578.97 236.12,579.74 236.40,580.19 236.94,581.09 237.13,581.41 237.75,582.43 237.87,582.63 238.54,583.75 238.59,583.83 239.30,585.02 239.96,586.12 240.16,586.45 240.62,587.23 241.00,587.87 241.27,588.33 241.82,589.26 241.93,589.44 242.58,590.55 242.63,590.64 243.23,591.66 243.43,592.01 243.88,592.79 244.22,593.37 244.54,593.92 245.00,594.73 245.19,595.06 245.74,596.03 245.85,596.22 246.47,597.32 246.50,597.38 247.17,598.56 247.18,598.58 247.83,599.74 247.88,599.84 248.50,600.93 248.59,601.08 249.21,602.17 249.29,602.31 249.93,603.42 250.00,603.54 250.67,604.69 250.71,604.75 251.40,605.94 251.42,605.97 252.10,607.12 252.18,607.25 252.80,608.30 252.93,608.53 253.51,609.51 253.68,609.79 254.24,610.75 254.41,611.04 255.00,612.05 255.13,612.26 255.68,613.21 255.82,613.46 256.40,614.46 256.48,614.61 257.11,615.71 257.14,615.76 257.70,616.75 257.90,617.10 258.41,618.02 258.66,618.47 259.07,619.20 259.42,619.84 259.68,620.31 260.16,621.19 260.27,621.38 260.84,622.42 260.88,622.50 261.41,623.46 261.56,623.74 262.00,624.53 262.20,624.88 262.50,625.41" fill="none" stroke="#9467bd" stroke-width="2.9" stroke-linejoin="round" stroke-linecap="butt"/>
<polyline clip-path="url(#cL3)" points="49.70,564.70 49.70,564.70 50.11,563.54 50.48,562.28 50.83,561.01 51.23,559.79 51.70,558.70 52.47,557.41 53.33,556.28 54.30,555.30 55.38,554.43 56.55,553.69 57.70,553.30 59.01,553.56 60.30,554.00 61.62,553.99 63.00,554.00 64.30,554.26 65.68,554.69 67.00,555.30 67.98,556.15 68.90,557.26 69.80,558.24 70.70,558.70 71.68,558.27 72.65,557.35 73.70,556.70 74.97,556.69 76.34,556.99 77.70,557.30 79.01,557.57 80.32,557.85 81.70,558.00 82.96,557.95 84.27,557.78 85.62,557.54 87.00,557.30 88.29,557.08 89.63,556.83 90.99,556.57 92.35,556.29 93.70,556.00 95.05,555.72 96.41,555.45 97.77,555.16 99.07,554.82 100.30,554.40 101.55,553.69 102.72,552.81 103.85,552.05 105.00,551.70 106.14,551.98 107.26,552.67 108.43,553.46 109.70,554.00 111.04,554.19 112.48,554.21 113.99,554.14 115.51,554.05 111.19,553.89 112.71,553.68 114.22,553.52 115.67,553.58 117.00,554.00 117.95,554.71 118.85,555.76 119.70,557.04 120.51,558.43 121.27,559.85 121.99,561.17 122.67,562.29 123.30,563.10 124.34,563.94 123.30,563.10 124.30,563.81 124.42,563.90 125.29,564.55 125.57,564.74 126.29,565.24 126.70,565.46 127.30,565.79 127.76,566.00 128.59,566.37 128.70,566.41 129.88,566.81 129.94,566.80 130.90,566.67 130.90,566.67 131.22,566.13 131.32,565.91 131.37,565.59 131.41,565.26 131.41,565.10 131.41,564.94 131.41,564.79 131.48,564.26 131.52,564.02 131.55,562.61 131.55,561.10 131.55,559.52 131.55,557.99 131.55,556.61 131.55,555.25 131.55,553.71 131.55,552.12 131.55,550.64 131.57,549.99 131.58,549.36 131.64,548.39 131.65,548.30 131.70,547.96 131.73,548.07 131.76,548.19 131.82,548.88 131.82,548.99 131.89,550.22 131.90,550.49 131.95,551.73 131.98,552.37 132.03,553.39 132.06,554.15 132.11,555.04 132.15,555.66 132.20,556.52 132.23,557.07 132.28,557.96 132.31,559.05 132.32,559.37 132.38,560.77 132.40,561.04 132.47,561.99 132.48,562.20 132.52,562.53 132.57,562.96 132.63,563.45 132.68,563.77 132.72,563.95 132.84,564.41 133.00,565.00 133.41,565.80 133.62,566.19 134.00,566.65 134.40,567.12 134.56,567.26 135.25,567.86 135.30,567.91 135.98,568.39 136.40,568.69 136.70,568.84 137.54,569.31 137.63,569.35 138.40,569.52 138.70,569.56 139.30,569.22 139.48,569.11 140.12,568.21 140.21,568.04 140.70,567.11 141.11,566.11 141.17,565.90 141.45,564.91 141.75,563.61 142.00,562.47 142.05,562.26 142.35,560.91 142.55,560.20 142.70,559.62 142.97,558.83 143.15,558.28 143.32,557.82 143.64,556.96 143.65,556.94 144.00,556.01 144.14,555.62 144.27,555.23 144.53,554.42 144.61,554.16 144.78,553.46 145.00,552.54 145.02,552.41 145.23,551.16 145.26,550.82 145.41,549.54 145.51,548.31 145.55,547.78 145.67,545.95 145.76,544.32 145.77,544.15 145.86,542.46 145.95,540.98 146.02,540.09 146.05,539.80 146.16,539.02 146.30,538.73 146.46,539.16 146.62,540.28 146.70,541.17 146.77,541.90 146.93,543.84 147.11,545.89 147.12,546.06 147.30,547.86 147.50,549.55 147.55,549.82 147.74,550.76 147.98,551.27 148.00,551.30 148.40,550.95 148.55,550.78 149.06,549.51 149.15,549.27 149.70,547.50 149.96,546.31 150.12,545.29 150.18,544.83 150.38,543.18 150.52,541.90 150.56,541.50 150.73,539.95 150.90,538.65 150.91,538.63 151.09,537.78 151.30,537.43 151.57,537.81 151.59,537.88 151.84,538.83 151.86,538.93 152.12,540.30 152.13,540.35 152.40,541.98 152.41,542.02 152.68,543.68 152.70,543.80 152.98,545.32 153.00,545.42 153.23,546.68 153.30,547.09 153.46,548.04 153.64,549.24 153.67,549.46 153.89,550.92 153.98,551.50 154.12,552.36 154.34,553.59 154.37,553.75 154.65,555.05 154.72,555.32 154.95,556.19 155.12,556.65 155.30,557.15 155.54,557.64 155.95,558.43 156.00,558.50 156.66,559.41 156.88,559.54 157.30,559.76 157.70,559.33 157.74,559.29 158.10,558.14 158.15,557.94 158.42,556.58 158.45,556.38 158.71,554.86 158.71,554.85 159.00,553.30 159.24,551.94 159.27,551.69 159.46,550.37 159.55,549.62 159.66,548.79 159.83,547.56 159.86,547.39 160.07,546.37 160.12,546.27 160.30,545.92 160.41,546.08 160.56,546.35 160.70,546.99 160.82,547.57 161.01,548.68 161.10,549.26 161.29,550.46 161.39,551.02 161.60,552.05 161.69,552.44 161.96,553.01 162.00,553.09 162.40,552.38 162.62,551.93 163.17,550.89 163.30,550.66 163.69,551.11 164.00,551.98 164.10,552.30 164.54,553.91 164.55,553.95 164.99,555.60 165.08,555.83 165.48,556.98 165.60,557.15 166.00,557.67 166.14,557.59 166.70,557.18 166.86,557.04 167.31,556.28 167.78,555.44 167.94,555.27 168.60,554.56 168.70,554.46 169.30,554.91 169.52,555.10 170.15,556.18 170.33,556.50 171.05,557.26 171.30,557.52 172.00,557.63 172.53,557.68 172.97,557.59 173.91,557.37 173.99,557.35 175.00,556.93 175.30,556.81 175.93,556.48 176.35,556.25 176.85,555.91 177.41,555.52 177.77,555.22 178.47,554.64 178.70,554.43 179.48,553.67 179.51,553.64 180.26,552.80 180.50,552.52 181.05,551.78 181.22,551.53 181.83,550.51 181.89,550.42 182.52,549.22 182.62,549.02 183.14,548.00 183.41,547.48 183.78,546.78 184.20,546.05 184.45,545.63 185.12,544.66 185.18,544.57 186.00,543.66 186.03,543.63 186.97,542.82 187.08,542.72 188.00,542.06 188.24,541.89 189.23,541.30 189.46,541.16 190.53,540.63 190.74,540.53 191.92,540.07 192.05,540.03 193.40,539.64 194.60,539.40 194.63,539.39 195.88,539.25 195.92,539.24 197.23,539.18 197.25,539.18 198.60,539.21 198.60,539.21 199.95,539.31 199.97,539.31 201.29,539.55 201.31,539.55 202.60,539.86 202.60,539.86 203.80,540.24 203.95,540.30 204.97,540.71 205.33,540.87 206.12,541.24 206.72,541.54 207.25,541.82 208.08,542.28 208.37,542.45 209.39,543.05 209.49,543.12 210.59,543.83 210.60,543.83 211.70,544.57 212.66,545.30 212.92,545.49 213.64,546.13 213.97,546.41 214.63,547.03 214.96,547.34 215.62,547.94 216.00,548.29 216.60,548.80 217.16,549.29 217.55,549.63 218.33,550.31 218.46,550.43 219.34,551.21 219.51,551.37 220.15,552.00 220.70,552.54 220.90,552.75 221.65,553.55 221.86,553.78 222.61,554.63 222.69,554.72 223.45,555.63 223.57,555.77 224.20,556.56 224.53,556.98 225.00,557.59 225.48,558.21 225.70,558.52 226.40,559.47 226.40,559.47 227.10,560.48 227.24,560.70 227.81,561.56 228.06,561.95 228.54,562.71 228.86,563.23 229.30,563.95 229.65,564.53 230.10,565.26 230.45,565.81 230.73,566.24 231.26,567.08 231.38,567.26 232.05,568.32 232.10,568.39 232.75,569.40 232.87,569.60 233.46,570.52 233.67,570.85 234.18,571.66 234.48,572.13 234.92,572.82 235.30,573.44 235.66,574.00 236.12,574.75 236.40,575.19 236.94,576.07 237.13,576.38 237.75,577.37 237.87,577.56 238.54,578.64 238.59,578.73 239.30,579.87 239.96,580.94 240.16,581.26 240.62,582.01 241.00,582.63 241.27,583.08 241.82,583.98 241.93,584.14 242.58,585.22 242.63,585.31 243.23,586.30 243.43,586.63 243.88,587.38 244.22,587.95 244.54,588.48 245.00,589.27 245.19,589.60 245.74,590.54 245.85,590.73 246.47,591.80 246.50,591.87 247.17,593.03 247.18,593.06 247.83,594.20 247.88,594.30 248.50,595.38 248.59,595.53 249.21,596.61 249.29,596.76 249.93,597.87 250.00,597.99 250.67,599.14 250.71,599.20 251.40,600.38 251.42,600.42 252.10,601.56 252.18,601.70 252.80,602.75 252.93,602.98 253.51,603.96 253.68,604.25 254.24,605.21 254.41,605.50 255.00,606.51 255.13,606.73 255.68,607.69 255.82,607.93 256.40,608.93 256.48,609.09 257.11,610.19 257.14,610.24 257.70,611.23 257.90,611.58 258.41,612.50 258.66,612.95 259.07,613.67 259.42,614.31 259.68,614.78 260.16,615.65 260.27,615.83 260.84,616.86 260.88,616.94 261.41,617.89 261.56,618.16 262.00,618.94 262.20,619.29 262.50,619.82" fill="none" stroke="#8c564b" stroke-width="2.9" stroke-linejoin="round" stroke-linecap="butt"/>
<polyline clip-path="url(#cL3)" points="49.70,573.00 49.70,573.00 50.13,571.70 50.50,570.25 50.85,568.74 51.23,567.29 51.70,566.00 52.26,564.85 52.87,563.79 53.55,562.83 54.30,562.00 55.37,561.12 56.55,560.41 57.70,560.00 59.01,560.06 60.30,560.40 61.62,560.81 63.00,561.30 64.30,561.68 65.68,562.10 67.00,562.70 67.98,563.54 68.90,564.61 69.80,565.56 70.70,566.00 71.68,565.59 72.65,564.69 73.70,564.00 74.97,563.81 76.34,563.87 77.70,564.00 79.02,564.25 80.33,564.57 81.70,564.70 82.96,564.53 84.27,564.17 85.62,563.73 87.00,563.30 88.29,562.94 89.63,562.56 90.99,562.16 92.36,561.74 93.70,561.30 95.05,560.84 96.42,560.36 97.77,559.86 99.08,559.31 100.30,558.70 101.55,557.80 102.70,556.74 103.82,555.81 105.00,555.30 106.12,555.37 107.26,555.81 108.44,556.34 109.70,556.70 111.05,556.82 112.50,556.84 114.00,556.79 115.51,556.73 111.19,556.61 112.70,556.43 114.20,556.29 115.64,556.34 117.00,556.70 118.03,557.34 119.04,558.26 120.01,559.37 120.93,560.55 121.79,561.70 122.59,562.71 123.30,563.46 124.35,564.26 123.30,563.46 124.30,564.16 124.42,564.25 125.29,564.89 125.57,565.08 126.29,565.57 126.70,565.78 127.30,566.09 127.76,566.29 128.59,566.65 128.70,566.68 129.88,567.04 129.94,567.03 130.90,566.87 130.90,566.87 131.22,566.33 131.32,566.14 131.37,565.82 131.41,565.57 131.41,565.50 131.41,565.44 131.41,565.38 131.48,564.91 131.52,564.69 131.55,563.25 131.55,561.63 131.55,559.95 131.55,558.31 131.55,556.84 131.55,555.40 131.55,553.75 131.55,552.06 131.55,550.48 131.57,549.80 131.58,549.14 131.64,548.19 131.65,548.11 131.70,547.80 131.73,547.96 131.76,548.11 131.82,548.89 131.82,549.01 131.89,550.34 131.90,550.63 131.95,551.95 131.98,552.61 132.03,553.67 132.06,554.44 132.11,555.34 132.15,555.96 132.20,556.81 132.23,557.35 132.28,558.24 132.31,559.35 132.32,559.68 132.38,561.11 132.40,561.38 132.47,562.30 132.48,562.51 132.52,562.79 132.57,563.16 132.63,563.59 132.68,563.88 132.72,564.03 132.84,564.44 133.00,565.00 133.41,565.76 133.62,566.14 134.00,566.58 134.40,567.04 134.56,567.17 135.25,567.74 135.30,567.78 135.98,568.23 136.40,568.51 136.70,568.65 137.54,569.06 137.63,569.10 138.40,569.20 138.70,569.22 139.30,568.84 139.48,568.72 140.12,567.77 140.21,567.59 140.70,566.62 141.11,565.58 141.17,565.36 141.45,564.33 141.75,562.96 142.00,561.77 142.05,561.55 142.35,560.14 142.55,559.41 142.70,558.83 142.97,558.03 143.15,557.50 143.32,557.06 143.64,556.23 143.65,556.21 144.00,555.32 144.14,554.96 144.27,554.58 144.53,553.82 144.61,553.58 144.78,552.91 145.00,552.03 145.02,551.91 145.23,550.67 145.26,550.33 145.41,549.02 145.51,547.75 145.55,547.20 145.67,545.29 145.76,543.58 145.77,543.40 145.86,541.62 145.95,540.06 146.02,539.12 146.05,538.82 146.16,537.99 146.30,537.69 146.46,538.13 146.62,539.31 146.70,540.24 146.77,541.01 146.93,543.04 147.11,545.18 147.12,545.36 147.30,547.22 147.50,548.97 147.55,549.24 147.74,550.19 147.98,550.67 148.00,550.70 148.40,550.28 148.55,550.11 149.06,548.81 149.15,548.57 149.70,546.78 149.96,545.58 150.12,544.52 150.18,544.05 150.38,542.34 150.52,541.02 150.56,540.61 150.73,539.00 150.90,537.66 150.91,537.63 151.09,536.74 151.30,536.39 151.57,536.77 151.59,536.85 151.84,537.80 151.86,537.91 152.12,539.27 152.13,539.32 152.40,540.95 152.41,541.00 152.68,542.65 152.70,542.77 152.98,544.28 153.00,544.39 153.23,545.66 153.30,546.07 153.46,547.04 153.64,548.28 153.67,548.50 153.89,549.99 153.98,550.58 154.12,551.46 154.34,552.71 154.37,552.88 154.65,554.18 154.72,554.45 154.95,555.33 155.12,555.78 155.30,556.28 155.54,556.76 155.95,557.55 156.00,557.62 156.66,558.54 156.88,558.66 157.30,558.88 157.70,558.42 157.74,558.38 158.10,557.19 158.15,556.98 158.42,555.61 158.45,555.41 158.71,553.89 158.71,553.89 159.00,552.34 159.24,550.97 159.27,550.72 159.46,549.38 159.55,548.62 159.66,547.78 159.83,546.54 159.86,546.37 160.07,545.36 160.12,545.27 160.30,544.95 160.41,545.15 160.56,545.44 160.70,546.14 160.82,546.75 161.01,547.90 161.10,548.48 161.29,549.70 161.39,550.26 161.60,551.26 161.69,551.65 161.96,552.18 162.00,552.26 162.40,551.45 162.62,550.99 163.17,549.91 163.30,549.66 163.69,550.17 164.00,551.11 164.10,551.44 164.54,553.12 164.55,553.16 164.99,554.84 165.08,555.08 165.48,556.21 165.60,556.36 166.00,556.85 166.14,556.74 166.70,556.26 166.86,556.12 167.31,555.33 167.78,554.50 167.94,554.35 168.60,553.68 168.70,553.58 169.30,554.10 169.52,554.30 170.15,555.43 170.33,555.76 171.05,556.52 171.30,556.79 172.00,556.87 172.53,556.92 172.97,556.82 173.91,556.60 173.99,556.57 175.00,556.15 175.30,556.03 175.93,555.69 176.35,555.45 176.85,555.11 177.41,554.72 177.77,554.42 178.47,553.84 178.70,553.62 179.48,552.87 179.51,552.84 180.26,552.01 180.50,551.74 181.05,551.00 181.22,550.76 181.83,549.73 181.89,549.64 182.52,548.42 182.62,548.22 183.14,547.17 183.41,546.64 183.78,545.92 184.20,545.17 184.45,544.72 185.12,543.72 185.18,543.63 186.00,542.69 186.03,542.66 186.97,541.82 187.08,541.72 188.00,541.02 188.24,540.84 189.23,540.22 189.46,540.07 190.53,539.51 190.74,539.40 191.92,538.90 192.05,538.85 193.40,538.40 194.60,538.12 194.63,538.11 195.88,537.91 195.92,537.91 197.23,537.79 197.25,537.79 198.60,537.76 198.60,537.76 199.95,537.81 199.97,537.81 201.29,537.96 201.31,537.96 202.60,538.19 202.60,538.19 203.80,538.50 203.95,538.54 204.97,538.88 205.33,539.00 206.12,539.32 206.72,539.57 207.25,539.81 208.08,540.20 208.37,540.35 209.39,540.87 209.49,540.92 210.59,541.54 210.60,541.54 211.70,542.19 212.66,542.85 212.92,543.02 213.64,543.61 213.97,543.87 214.63,544.45 214.96,544.73 215.62,545.29 216.00,545.61 216.60,546.08 217.16,546.52 217.55,546.82 218.33,547.43 218.46,547.53 219.34,548.24 219.51,548.38 220.15,548.95 220.70,549.44 220.90,549.64 221.65,550.36 221.86,550.58 222.61,551.34 222.69,551.43 223.45,552.26 223.57,552.39 224.20,553.10 224.53,553.48 225.00,554.04 225.48,554.61 225.70,554.89 226.40,555.77 226.40,555.77 227.10,556.70 227.24,556.90 227.81,557.71 228.06,558.07 228.54,558.79 228.86,559.27 229.30,559.95 229.65,560.50 230.10,561.20 230.45,561.73 230.73,562.15 231.26,562.98 231.38,563.15 232.05,564.18 232.10,564.25 232.75,565.23 232.87,565.42 233.46,566.31 233.67,566.63 234.18,567.42 234.48,567.88 234.92,568.56 235.30,569.15 235.66,569.70 236.12,570.43 236.40,570.86 236.94,571.71 237.13,572.01 237.75,572.97 237.87,573.16 238.54,574.21 238.59,574.30 239.30,575.42 239.96,576.45 240.16,576.76 240.62,577.49 241.00,578.09 241.27,578.52 241.82,579.39 241.93,579.56 242.58,580.60 242.63,580.68 243.23,581.64 243.43,581.97 243.88,582.70 244.22,583.25 244.54,583.77 245.00,584.54 245.19,584.86 245.74,585.79 245.85,585.97 246.47,587.03 246.50,587.09 247.17,588.24 247.18,588.27 247.83,589.40 247.88,589.50 248.50,590.57 248.59,590.72 249.21,591.80 249.29,591.95 249.93,593.06 250.00,593.17 250.67,594.33 250.71,594.38 251.40,595.57 251.42,595.60 252.10,596.75 252.18,596.89 252.80,597.94 252.93,598.17 253.51,599.16 253.68,599.44 254.24,600.41 254.41,600.70 255.00,601.72 255.13,601.94 255.68,602.90 255.82,603.14 256.40,604.15 256.48,604.30 257.11,605.41 257.14,605.46 257.70,606.45 257.90,606.80 258.41,607.72 258.66,608.16 259.07,608.88 259.42,609.51 259.68,609.98 260.16,610.84 260.27,611.02 260.84,612.04 260.88,612.12 261.41,613.06 261.56,613.33 262.00,614.10 262.20,614.45 262.50,614.96" fill="none" stroke="#7f7f7f" stroke-width="2.9" stroke-linejoin="round" stroke-linecap="butt"/>
<polyline clip-path="url(#cL3)" points="49.70,588.70 49.70,588.70 50.03,587.49 50.31,586.17 50.57,584.78 50.82,583.35 51.08,581.93 51.36,580.57 51.70,579.30 52.14,577.84 52.59,576.41 53.09,575.05 53.65,573.80 54.30,572.70 55.07,571.74 55.93,570.90 56.82,570.21 57.70,569.70 58.98,569.41 60.30,569.30 61.41,569.01 62.58,568.70 63.70,568.70 64.84,569.28 65.94,570.25 67.00,571.30 67.84,572.32 68.65,573.53 69.46,574.55 70.30,575.00 71.11,574.65 71.93,573.75 72.78,572.74 73.70,572.00 74.96,571.61 76.30,571.44 77.70,571.30 78.97,571.17 80.31,571.07 81.67,570.94 83.00,570.70 84.34,570.30 85.66,569.79 86.97,569.23 88.30,568.70 89.63,568.21 90.97,567.72 92.31,567.23 93.70,566.70 95.00,566.19 96.35,565.64 97.71,565.08 99.04,564.52 100.30,564.00 101.53,563.43 102.69,562.86 103.83,562.35 105.00,562.00 106.14,561.90 107.28,561.97 108.46,562.05 109.70,562.00 110.84,561.73 112.06,561.28 113.31,560.78 114.58,560.32 115.82,560.02 117.00,560.00 118.34,560.39 119.65,561.10 120.93,561.99 122.15,562.90 123.30,563.70 124.37,564.42 125.35,565.14 126.31,565.79 127.30,566.30 128.59,566.83 129.88,567.20 130.90,567.00 131.32,566.30 131.52,565.15 131.55,563.67 131.49,561.99 131.39,560.24 131.30,558.53 131.30,557.00 131.36,555.49 131.41,553.78 131.47,552.01 131.52,550.37 131.58,548.99 131.64,548.05 131.70,547.70 131.76,548.06 131.82,549.02 131.89,550.42 131.95,552.09 132.03,553.85 132.11,555.55 132.20,557.00 132.28,558.42 132.32,559.89 132.38,561.33 132.48,562.71 132.68,563.95 133.00,565.00 133.62,566.11 134.40,566.98 135.30,567.70 136.40,568.40 137.63,568.93 138.70,569.00 139.48,568.46 140.12,567.48 140.70,566.30 141.11,565.22 141.45,563.94 141.75,562.53 142.05,561.07 142.35,559.64 142.70,558.30 143.15,556.98 143.64,555.74 144.14,554.51 144.61,553.19 145.00,551.70 145.23,550.34 145.41,548.68 145.55,546.81 145.67,544.85 145.77,542.89 145.86,541.06 145.95,539.44 146.05,538.16 146.16,537.31 146.30,537.00 146.46,537.45 146.62,538.66 146.77,540.42 146.93,542.50 147.11,544.70 147.30,546.80 147.50,548.57 147.74,549.81 148.00,550.30 148.55,549.67 149.15,548.10 149.70,546.30 149.96,545.08 150.18,543.53 150.38,541.78 150.56,540.01 150.73,538.36 150.90,536.99 151.09,536.05 151.30,535.70 151.57,536.08 151.84,537.11 152.12,538.59 152.41,540.32 152.70,542.09 153.00,543.70 153.23,544.98 153.46,546.38 153.67,547.86 153.89,549.37 154.12,550.86 154.37,552.29 154.65,553.60 154.95,554.76 155.30,555.70 155.95,556.97 156.66,557.96 157.30,558.30 157.74,557.77 158.10,556.56 158.42,554.96 158.71,553.24 159.00,551.70 159.24,550.32 159.46,548.72 159.66,547.11 159.86,545.69 160.07,544.69 160.30,544.30 160.56,544.84 160.82,546.20 161.10,547.97 161.39,549.75 161.69,551.13 162.00,551.70 162.62,550.36 163.30,549.00 163.69,549.54 164.10,550.87 164.54,552.60 164.99,554.34 165.48,555.70 166.00,556.30 166.86,555.50 167.78,553.88 168.70,553.00 169.52,553.77 170.33,555.26 171.30,556.30 172.53,556.41 173.91,556.08 175.30,555.50 176.35,554.92 177.41,554.17 178.47,553.29 179.51,552.29 180.50,551.20 181.22,550.22 181.89,549.09 182.52,547.86 183.14,546.59 183.78,545.31 184.45,544.09 185.18,542.97 186.00,542.00 187.08,541.00 188.24,540.09 189.46,539.29 190.74,538.58 192.05,537.99 193.40,537.50 194.63,537.17 195.92,536.92 197.25,536.76 198.60,536.68 199.95,536.68 201.29,536.75 202.60,536.90 203.95,537.15 205.33,537.52 206.72,537.98 208.08,538.51 209.39,539.07 210.60,539.64 211.70,540.20 212.92,540.93 213.97,541.71 214.96,542.50 216.00,543.30 217.16,544.11 218.33,544.91 219.51,545.75 220.70,546.70 221.65,547.53 222.61,548.41 223.57,549.34 224.53,550.32 225.48,551.34 226.40,552.40 227.24,553.44 228.06,554.52 228.86,555.64 229.65,556.79 230.45,557.97 231.26,559.17 232.10,560.40 232.87,561.53 233.67,562.71 234.48,563.91 235.30,565.14 236.12,566.38 236.94,567.62 237.75,568.84 238.54,570.04 239.30,571.20 240.16,572.50 241.00,573.78 241.82,575.03 242.63,576.28 243.43,577.51 244.22,578.75 245.00,580.00 245.74,581.22 246.47,582.43 247.18,583.65 247.88,584.86 248.59,586.07 249.29,587.29 250.00,588.50 250.71,589.70 251.40,590.88 252.10,592.05 252.80,593.24 253.51,594.45 254.24,595.70 255.00,597.00 255.68,598.18 256.40,599.43 257.14,600.73 257.90,602.06 258.66,603.41 259.42,604.75 260.16,606.05 260.88,607.31 261.56,608.50 262.20,609.60 262.50,610.11" fill="none" stroke="#bcbd22" stroke-width="2.9" stroke-linejoin="round" stroke-linecap="butt"/>
<polyline clip-path="url(#cR1)" points="266.60,38.68 266.91,37.64 267.31,36.18 267.73,34.73 268.18,33.40 268.70,32.30 269.50,31.13 270.37,30.19 271.30,29.40 272.18,28.73 273.10,28.18 274.00,28.00 274.86,28.45 275.70,29.30 276.60,30.00 277.60,30.30 278.65,30.46 279.70,30.70 280.79,31.15 281.88,31.69 282.90,32.30 283.81,32.95 284.66,33.65 285.50,34.40 286.35,35.34 287.18,36.32 288.10,37.00 289.08,37.14 290.14,37.03 291.20,37.00 292.27,37.22 293.33,37.52 294.40,37.80 295.43,38.03 296.47,38.24 297.50,38.30 298.57,38.08 299.63,37.72 300.70,37.50 301.74,37.52 302.78,37.69 303.80,38.00 304.88,38.60 305.94,39.37 307.00,40.10 308.06,40.65 309.13,41.16 310.10,41.70 311.17,42.44 312.10,43.30 312.94,44.42 313.70,45.80 314.12,46.82 314.51,48.03 314.91,49.29 315.33,50.49 315.80,51.50 316.48,52.65 317.22,53.64 317.90,54.00 318.47,53.27 318.97,51.71 319.46,49.91 320.00,48.50 320.85,47.08 321.70,46.40 322.19,46.98 322.63,48.25 323.07,49.78 323.60,51.10 324.17,52.10 324.78,53.06 325.45,53.97 326.20,54.80 327.05,55.55 327.99,56.22 328.96,56.83 329.90,57.40 330.94,57.98 331.97,58.49 333.00,59.00 334.04,59.63 335.09,60.25 336.20,60.60 337.53,60.43 338.94,59.93 340.40,59.50 341.72,59.39 343.14,59.39 344.49,59.32 345.60,59.00 346.48,58.38 347.16,57.53 347.70,56.40 347.97,55.45 348.15,54.30 348.26,52.99 348.32,51.56 348.34,50.06 348.34,48.50 348.34,46.95 348.35,45.44 348.40,44.00 348.47,42.46 348.54,40.70 348.61,38.84 348.67,36.97 348.74,35.21 348.80,33.66 348.87,32.42 348.93,31.60 349.00,31.30 349.07,31.60 349.13,32.42 349.20,33.66 349.26,35.21 349.33,36.97 349.39,38.84 349.46,40.70 349.53,42.46 349.60,44.00 349.65,45.44 349.68,46.97 349.69,48.54 349.70,50.11 349.72,51.63 349.78,53.07 349.89,54.37 350.06,55.49 350.30,56.40 350.98,57.75 351.90,58.50 352.87,58.66 353.99,58.50 355.00,58.00 355.68,57.21 356.24,56.07 356.72,54.73 357.16,53.30 357.60,51.90 358.01,50.58 358.38,49.19 358.73,47.76 359.06,46.31 359.38,44.89 359.70,43.50 360.04,42.04 360.37,40.65 360.69,39.25 360.99,37.79 361.30,36.20 361.52,34.77 361.74,33.05 361.95,31.15 362.16,29.21 362.37,27.34 362.57,25.67 362.78,24.33 362.99,23.43 363.20,23.10 363.42,23.57 363.63,24.80 363.84,26.56 364.05,28.57 364.27,30.58 364.50,32.34 364.74,33.60 365.00,34.10 365.42,33.62 365.87,32.41 366.30,31.00 366.58,29.76 366.83,28.13 367.07,26.32 367.31,24.55 367.55,23.01 367.81,21.93 368.10,21.50 368.62,22.24 369.17,23.94 369.70,25.70 370.10,26.96 370.48,28.25 370.84,29.60 371.20,31.00 371.53,32.39 371.85,33.86 372.16,35.36 372.47,36.86 372.80,38.30 373.12,39.79 373.44,41.46 373.77,43.02 374.09,44.16 374.40,44.60 374.69,44.16 374.97,43.00 375.25,41.39 375.51,39.55 375.77,37.74 376.00,36.20 376.22,34.58 376.41,32.78 376.59,31.11 376.78,29.88 377.00,29.40 377.26,30.23 377.51,32.10 377.84,34.04 378.30,35.10 378.94,34.86 379.60,34.60 380.06,35.29 380.42,36.58 380.77,38.06 381.20,39.30 381.79,40.48 382.45,41.55 383.10,42.00 383.66,41.35 384.21,39.96 384.78,38.53 385.40,37.80 386.42,38.33 387.50,39.30 388.51,40.04 389.60,40.40 390.57,39.97 391.63,39.06 392.72,37.89 393.80,36.70 394.66,35.68 395.51,34.54 396.35,33.32 397.21,32.10 398.09,30.94 399.00,29.90 399.99,28.90 400.99,27.95 402.02,27.08 403.09,26.32 404.20,25.70 405.58,25.16 407.01,24.81 408.49,24.59 410.00,24.50 411.34,24.49 412.71,24.57 414.10,24.75 415.51,25.05 416.90,25.50 418.10,26.03 419.31,26.68 420.53,27.43 421.75,28.27 422.95,29.18 424.14,30.13 425.30,31.10 426.29,31.97 427.27,32.88 428.24,33.84 429.19,34.83 430.14,35.86 431.07,36.92 432.00,38.02 432.90,39.14 433.80,40.30 434.61,41.41 435.41,42.55 436.19,43.74 436.96,44.96 437.72,46.20 438.47,47.46 439.22,48.74 439.96,50.03 440.71,51.32 441.45,52.62 442.20,53.90 442.92,55.13 443.63,56.38 444.34,57.64 445.05,58.91 445.76,60.19 446.46,61.47 447.16,62.75 447.87,64.04 448.57,65.31 449.28,66.59 449.99,67.85 450.70,69.10 451.40,70.31 452.09,71.52 452.79,72.72 453.48,73.92 454.18,75.12 454.88,76.31 455.58,77.50 456.28,78.69 456.98,79.87 457.68,81.05 458.39,82.23 459.10,83.40 459.86,84.65 460.61,85.89 461.36,87.12 462.11,88.34 462.87,89.56 463.63,90.78 464.39,92.01 465.17,93.24 465.96,94.48 466.77,95.73 467.60,97.00 468.41,98.22 469.26,99.49 470.15,100.80 471.06,102.14 471.99,103.49 472.92,104.83 473.85,106.16 474.75,107.45 475.62,108.71 476.46,109.90 477.24,111.03 477.96,112.06 478.60,113.00 479.40,114.17" fill="none" stroke="#1f77b4" stroke-width="2.9" stroke-linejoin="round" stroke-linecap="butt"/>
<polyline clip-path="url(#cR1)" points="266.60,38.66 266.90,37.62 267.30,36.15 267.72,34.70 268.18,33.37 268.70,32.30 269.50,31.22 270.37,30.38 271.30,29.70 272.64,28.91 274.00,28.60 274.86,28.97 275.71,29.65 276.60,30.20 277.60,30.41 278.66,30.50 279.70,30.70 280.79,31.13 281.88,31.68 282.90,32.30 283.81,32.95 284.66,33.65 285.50,34.40 286.35,35.34 287.18,36.32 288.10,37.00 289.08,37.14 290.14,37.03 291.20,37.00 292.27,37.22 293.33,37.52 294.40,37.80 295.43,38.03 296.47,38.24 297.50,38.30 298.57,38.08 299.63,37.72 300.70,37.50 301.74,37.52 302.78,37.69 303.80,38.00 304.88,38.60 305.94,39.37 307.00,40.10 308.06,40.65 309.13,41.16 310.10,41.70 311.16,42.46 312.10,43.30 312.94,44.24 313.70,45.40 314.13,46.40 314.52,47.61 314.90,48.90 315.32,50.11 315.80,51.10 316.84,52.55 317.90,53.20 318.47,52.57 318.98,51.25 319.47,49.73 320.00,48.50 320.86,47.09 321.70,46.40 322.19,46.98 322.63,48.25 323.07,49.78 323.60,51.10 324.17,52.10 324.78,53.06 325.45,53.97 326.20,54.80 327.05,55.55 327.99,56.22 328.96,56.83 329.90,57.40 330.94,57.98 331.97,58.49 333.00,59.00 334.04,59.63 335.09,60.25 336.20,60.60 337.53,60.43 338.94,59.93 340.40,59.50 341.72,59.39 343.14,59.39 344.49,59.32 345.60,59.00 346.48,58.38 347.16,57.53 347.70,56.40 347.97,55.45 348.15,54.30 348.26,52.99 348.32,51.56 348.34,50.06 348.34,48.50 348.34,46.95 348.35,45.44 348.40,44.00 348.47,42.46 348.54,40.70 348.61,38.84 348.67,36.97 348.74,35.21 348.80,33.66 348.87,32.42 348.93,31.60 349.00,31.30 349.07,31.60 349.13,32.42 349.20,33.66 349.26,35.21 349.33,36.97 349.39,38.84 349.46,40.70 349.53,42.46 349.60,44.00 349.65,45.44 349.68,46.97 349.69,48.54 349.70,50.11 349.72,51.63 349.78,53.07 349.89,54.37 350.06,55.49 350.30,56.40 350.98,57.75 351.90,58.50 352.87,58.66 353.99,58.50 355.00,58.00 355.68,57.21 356.24,56.07 356.72,54.73 357.16,53.30 357.60,51.90 358.01,50.58 358.38,49.19 358.73,47.76 359.06,46.31 359.38,44.89 359.70,43.50 360.04,42.04 360.37,40.65 360.69,39.25 360.99,37.79 361.30,36.20 361.52,34.77 361.74,33.05 361.95,31.15 362.16,29.21 362.37,27.34 362.57,25.67 362.78,24.33 362.99,23.43 363.20,23.10 363.42,23.57 363.63,24.80 363.84,26.56 364.05,28.57 364.27,30.58 364.50,32.34 364.74,33.60 365.00,34.10 365.42,33.62 365.87,32.41 366.30,31.00 366.58,29.76 366.83,28.13 367.07,26.32 367.31,24.55 367.55,23.01 367.81,21.93 368.10,21.50 368.62,22.24 369.17,23.94 369.70,25.70 370.10,26.96 370.48,28.25 370.84,29.60 371.20,31.00 371.53,32.39 371.85,33.86 372.16,35.36 372.47,36.86 372.80,38.30 373.12,39.79 373.44,41.46 373.77,43.02 374.09,44.16 374.40,44.60 374.69,44.16 374.97,43.00 375.25,41.39 375.51,39.55 375.77,37.74 376.00,36.20 376.22,34.58 376.41,32.78 376.59,31.11 376.78,29.88 377.00,29.40 377.26,30.23 377.51,32.10 377.84,34.04 378.30,35.10 378.94,34.86 379.60,34.60 380.06,35.29 380.42,36.58 380.77,38.06 381.20,39.30 381.79,40.48 382.45,41.55 383.10,42.00 383.66,41.35 384.21,39.96 384.78,38.53 385.40,37.80 386.42,38.33 387.50,39.30 388.51,40.04 389.60,40.40 390.57,39.97 391.63,39.06 392.72,37.89 393.80,36.70 394.66,35.68 395.51,34.54 396.35,33.32 397.21,32.10 398.09,30.94 399.00,29.90 399.99,28.90 400.99,27.95 402.02,27.08 403.09,26.32 404.20,25.70 405.58,25.16 407.01,24.81 408.49,24.59 410.00,24.50 411.34,24.49 412.71,24.57 414.10,24.75 415.51,25.05 416.90,25.50 418.10,26.03 419.31,26.68 420.53,27.43 421.75,28.27 422.95,29.18 424.14,30.13 425.30,31.10 426.29,31.97 427.27,32.88 428.24,33.84 429.19,34.83 430.14,35.86 431.07,36.92 432.00,38.02 432.90,39.14 433.80,40.30 434.61,41.41 435.41,42.55 436.19,43.74 436.96,44.96 437.72,46.20 438.47,47.46 439.22,48.74 439.96,50.03 440.71,51.32 441.45,52.62 442.20,53.90 442.92,55.13 443.63,56.38 444.34,57.64 445.05,58.91 445.76,60.19 446.46,61.47 447.16,62.75 447.87,64.04 448.57,65.31 449.28,66.59 449.99,67.85 450.70,69.10 451.40,70.31 452.09,71.52 452.79,72.72 453.48,73.92 454.18,75.12 454.88,76.31 455.58,77.50 456.28,78.69 456.98,79.87 457.68,81.05 458.39,82.23 459.10,83.40 459.86,84.65 460.61,85.89 461.36,87.12 462.11,88.34 462.87,89.56 463.63,90.78 464.39,92.01 465.17,93.24 465.96,94.48 466.77,95.73 467.60,97.00 468.41,98.22 469.26,99.49 470.15,100.80 471.06,102.14 471.99,103.49 472.92,104.83 473.85,106.16 474.75,107.45 475.62,108.71 476.46,109.90 477.24,111.03 477.96,112.06 478.60,113.00 479.40,114.17" fill="none" stroke="#2ca02c" stroke-width="2.9" stroke-linejoin="round" stroke-linecap="butt"/>
<polyline clip-path="url(#cR1)" points="266.60,40.25 266.88,39.30 267.28,37.93 267.70,36.58 268.17,35.36 268.70,34.40 269.49,33.48 270.36,32.80 271.30,32.30 272.32,31.97 273.42,31.81 274.50,31.80 275.54,31.99 276.56,32.32 277.60,32.60 278.67,32.73 279.74,32.81 280.80,33.00 281.86,33.35 282.90,33.80 283.90,34.40 284.92,35.43 285.89,36.64 287.00,37.50 288.32,37.68 289.76,37.53 291.20,37.50 292.59,37.87 293.97,38.37 295.40,38.60 296.68,38.34 298.01,37.80 299.36,37.26 300.70,37.00 302.00,37.14 303.30,37.50 304.60,37.94 305.90,38.30 307.20,38.53 308.49,38.72 309.80,38.90 311.10,39.10 312.44,39.34 313.79,39.61 315.12,39.87 316.40,40.10 317.81,40.27 319.16,40.41 320.50,40.70 321.56,41.12 322.61,41.66 323.65,42.24 324.70,42.80 325.75,43.32 326.80,43.85 327.85,44.37 328.90,44.90 329.93,45.41 330.96,45.90 331.99,46.42 333.00,47.00 334.06,47.73 335.10,48.55 336.14,49.37 337.20,50.10 338.24,50.68 339.29,51.20 340.35,51.69 341.40,52.20 342.48,52.80 343.58,53.46 344.64,54.01 345.60,54.30 346.76,54.31 347.70,53.80 348.05,53.09 348.27,52.04 348.37,50.73 348.40,49.23 348.39,47.63 348.36,46.01 348.35,44.44 348.40,43.00 348.48,41.51 348.56,39.82 348.63,38.04 348.71,36.31 348.78,34.74 348.85,33.47 348.93,32.61 349.00,32.30 349.07,32.61 349.15,33.47 349.22,34.74 349.29,36.31 349.37,38.04 349.44,39.82 349.52,41.51 349.60,43.00 349.65,44.41 349.65,45.91 349.62,47.44 349.62,48.96 349.65,50.41 349.75,51.73 349.96,52.88 350.30,53.80 351.06,54.77 352.00,55.43 353.00,55.90 354.03,56.29 355.13,56.51 356.10,56.40 356.91,55.85 357.59,54.95 358.20,53.80 358.60,52.77 358.96,51.52 359.27,50.11 359.55,48.62 359.81,47.11 360.06,45.65 360.30,44.30 360.58,42.81 360.82,41.41 361.04,40.02 361.26,38.57 361.50,37.00 361.68,35.61 361.86,33.95 362.05,32.12 362.23,30.26 362.42,28.46 362.61,26.86 362.81,25.58 363.00,24.71 363.20,24.40 363.41,24.88 363.62,26.13 363.83,27.92 364.04,29.96 364.26,32.02 364.49,33.81 364.74,35.09 365.00,35.60 365.42,35.12 365.87,33.91 366.30,32.50 366.58,31.24 366.83,29.58 367.07,27.73 367.31,25.92 367.55,24.35 367.81,23.24 368.10,22.80 368.63,23.53 369.19,25.23 369.70,27.00 370.06,28.30 370.37,29.64 370.67,31.05 371.00,32.50 371.28,33.70 371.58,34.96 371.88,36.25 372.19,37.54 372.49,38.80 372.80,40.00 373.20,41.73 373.61,43.56 374.02,45.02 374.40,45.60 374.69,45.17 374.98,44.06 375.25,42.51 375.52,40.74 375.77,39.00 376.00,37.50 376.22,35.89 376.41,34.09 376.59,32.42 376.78,31.19 377.00,30.70 377.26,31.49 377.51,33.27 377.84,35.14 378.30,36.20 378.94,36.05 379.60,35.90 380.07,36.62 380.42,37.91 380.77,39.37 381.20,40.60 381.79,41.78 382.45,42.85 383.10,43.30 383.66,42.65 384.22,41.24 384.79,39.82 385.40,39.10 386.42,39.77 387.50,40.90 388.51,41.65 389.60,42.00 390.56,41.62 391.63,40.79 392.73,39.72 393.80,38.60 394.67,37.59 395.51,36.43 396.36,35.19 397.22,33.94 398.09,32.75 399.00,31.70 399.99,30.70 400.99,29.75 402.02,28.88 403.09,28.12 404.20,27.50 405.58,26.97 407.01,26.61 408.49,26.40 410.00,26.30 411.34,26.28 412.71,26.34 414.10,26.50 415.50,26.78 416.90,27.20 418.10,27.69 419.31,28.30 420.53,29.01 421.74,29.80 422.95,30.66 424.14,31.57 425.30,32.50 426.29,33.34 427.27,34.23 428.24,35.16 429.20,36.13 430.14,37.14 431.07,38.18 432.00,39.26 432.90,40.37 433.80,41.50 434.61,42.58 435.41,43.70 436.19,44.86 436.96,46.05 437.72,47.27 438.47,48.50 439.22,49.75 439.96,51.01 440.71,52.28 441.45,53.54 442.20,54.80 442.92,56.01 443.63,57.23 444.34,58.46 445.05,59.71 445.76,60.96 446.46,62.22 447.17,63.47 447.87,64.73 448.58,65.99 449.28,67.23 449.99,68.47 450.70,69.70 451.46,71.00 452.22,72.30 452.98,73.59 453.74,74.88 454.50,76.16 455.26,77.45 456.03,78.72 456.79,80.00 457.56,81.27 458.33,82.54 459.10,83.80 459.86,85.04 460.61,86.27 461.36,87.48 462.12,88.70 462.87,89.91 463.63,91.12 464.40,92.34 465.18,93.56 465.97,94.79 466.77,96.04 467.60,97.30 468.41,98.52 469.26,99.79 470.15,101.10 471.07,102.43 471.99,103.78 472.92,105.13 473.85,106.45 474.75,107.75 475.62,109.01 476.46,110.20 477.24,111.32 477.96,112.36 478.60,113.30 479.40,114.47" fill="none" stroke="#9467bd" stroke-width="2.9" stroke-linejoin="round" stroke-linecap="butt"/>
<polyline clip-path="url(#cR1)" points="266.60,44.64 266.77,43.96 267.09,42.52 267.43,41.06 267.79,39.67 268.21,38.45 268.70,37.50 269.49,36.58 270.36,35.93 271.30,35.40 272.32,34.91 273.42,34.54 274.50,34.40 275.53,34.64 276.56,35.11 277.60,35.40 278.66,35.29 279.74,35.00 280.80,34.90 281.84,35.09 282.86,35.47 283.90,36.00 284.94,36.86 286.00,37.99 287.06,39.03 288.10,39.60 289.12,39.44 290.13,38.93 291.20,38.60 292.53,38.81 293.93,39.28 295.40,39.60 296.68,39.57 298.01,39.39 299.36,39.19 300.70,39.10 302.00,39.16 303.30,39.29 304.60,39.45 305.90,39.60 307.20,39.73 308.50,39.87 309.80,40.00 311.10,40.10 312.42,40.18 313.76,40.25 315.08,40.27 316.40,40.20 317.71,39.95 319.04,39.56 320.32,39.22 321.50,39.10 322.61,39.31 323.63,39.71 324.70,40.10 326.06,40.49 327.48,40.88 328.90,41.20 330.28,41.34 331.65,41.42 333.00,41.70 334.07,42.19 335.13,42.84 336.17,43.57 337.20,44.30 338.26,45.08 339.30,45.90 340.34,46.72 341.40,47.50 342.47,48.24 343.57,48.97 344.63,49.62 345.60,50.10 346.76,50.61 347.70,50.60 348.07,49.91 348.23,48.68 348.25,47.10 348.21,45.34 348.17,43.58 348.20,42.00 348.29,40.35 348.39,38.46 348.49,36.57 348.60,34.91 348.70,33.74 348.80,33.30 348.90,33.73 349.00,34.88 349.10,36.51 349.20,38.39 349.30,40.30 349.40,42.00 349.44,43.34 349.43,44.78 349.39,46.28 349.37,47.78 349.38,49.22 349.47,50.56 349.67,51.74 350.00,52.70 350.84,53.82 351.90,54.61 353.00,55.30 354.04,56.04 355.12,56.70 356.10,56.90 357.27,56.16 358.20,54.80 358.59,53.72 358.81,52.44 358.98,51.09 359.20,49.80 359.47,48.71 359.75,47.66 360.03,46.58 360.30,45.40 360.55,44.08 360.79,42.67 361.02,41.19 361.26,39.63 361.50,38.00 361.68,36.64 361.86,35.00 362.05,33.22 362.23,31.40 362.42,29.65 362.61,28.10 362.81,26.84 363.00,26.01 363.20,25.70 363.41,26.19 363.62,27.48 363.83,29.31 364.04,31.42 364.26,33.52 364.49,35.37 364.74,36.68 365.00,37.20 365.42,36.70 365.87,35.46 366.30,34.00 366.58,32.71 366.83,31.01 367.07,29.13 367.31,27.28 367.55,25.67 367.81,24.54 368.10,24.10 368.49,24.55 368.92,25.69 369.34,27.14 369.70,28.50 369.99,29.82 370.21,31.19 370.42,32.62 370.70,34.10 370.99,35.37 371.33,36.72 371.69,38.10 372.07,39.47 372.44,40.79 372.80,42.00 373.21,43.49 373.62,45.03 374.02,46.23 374.40,46.70 374.71,46.22 374.99,45.01 375.27,43.32 375.52,41.42 375.77,39.56 376.00,38.00 376.21,36.54 376.40,34.95 376.59,33.49 376.78,32.42 377.00,32.00 377.26,32.79 377.51,34.57 377.84,36.44 378.30,37.50 378.94,37.36 379.60,37.20 380.06,37.85 380.43,39.01 380.78,40.34 381.20,41.50 381.80,42.82 382.44,44.06 383.10,44.60 383.65,43.96 384.21,42.55 384.78,41.12 385.40,40.40 386.42,41.06 387.50,42.20 388.50,43.05 389.60,43.50 390.56,43.19 391.62,42.44 392.73,41.45 393.80,40.40 394.67,39.43 395.52,38.29 396.37,37.06 397.22,35.82 398.09,34.64 399.00,33.60 399.99,32.60 400.99,31.65 402.02,30.77 403.09,30.01 404.20,29.40 405.58,28.89 407.01,28.57 408.49,28.39 410.00,28.30 411.34,28.26 412.71,28.28 414.10,28.39 415.50,28.62 416.90,29.00 418.09,29.45 419.31,30.02 420.52,30.69 421.74,31.43 422.95,32.25 424.14,33.11 425.30,34.00 426.29,34.81 427.27,35.66 428.24,36.56 429.19,37.50 430.14,38.48 431.07,39.49 431.99,40.53 432.90,41.60 433.80,42.70 434.61,43.74 435.40,44.82 436.19,45.93 436.96,47.07 437.72,48.24 438.47,49.42 439.22,50.63 439.96,51.84 440.71,53.06 441.45,54.28 442.20,55.50 442.92,56.68 443.64,57.88 444.35,59.10 445.06,60.32 445.76,61.56 446.47,62.80 447.17,64.04 447.87,65.29 448.58,66.53 449.28,67.76 449.99,68.99 450.70,70.20 451.46,71.49 452.22,72.78 452.98,74.06 453.74,75.34 454.50,76.61 455.26,77.89 456.03,79.16 456.79,80.42 457.56,81.69 458.33,82.94 459.10,84.20 459.86,85.43 460.61,86.65 461.37,87.86 462.12,89.06 462.87,90.26 463.63,91.46 464.40,92.67 465.18,93.88 465.97,95.11 466.77,96.35 467.60,97.60 468.41,98.81 469.26,100.08 470.15,101.39 471.07,102.73 472.00,104.08 472.93,105.42 473.85,106.75 474.75,108.05 475.62,109.30 476.46,110.50 477.24,111.62 477.96,112.66 478.60,113.60 479.40,114.77" fill="none" stroke="#e377c2" stroke-width="2.9" stroke-linejoin="round" stroke-linecap="butt"/>
<polyline clip-path="url(#cR1)" points="266.60,56.32 266.72,55.98 267.10,54.80 267.41,53.60 267.71,52.18 268.02,50.65 268.36,49.11 268.75,47.66 269.20,46.40 269.78,45.17 270.41,44.06 271.11,43.07 271.90,42.20 273.03,41.23 274.27,40.44 275.50,40.10 276.59,40.51 277.67,41.30 278.70,41.70 279.58,41.27 280.42,40.52 281.30,40.10 282.30,40.36 283.34,40.99 284.40,41.70 285.30,42.41 286.22,43.26 287.15,43.98 288.10,44.30 289.11,43.95 290.13,43.12 291.19,42.22 292.30,41.70 293.54,41.73 294.84,42.08 296.17,42.51 297.50,42.80 298.83,42.82 300.16,42.72 301.50,42.66 302.80,42.80 304.19,43.27 305.59,43.95 306.89,44.70 308.00,45.40 309.04,46.19 310.00,47.00 311.03,47.94 312.15,48.93 313.20,49.40 314.27,48.93 315.30,48.00 316.19,47.29 317.08,46.46 317.90,45.40 318.42,44.32 318.86,42.98 319.26,41.50 319.64,40.02 320.05,38.64 320.50,37.50 321.13,36.18 321.80,35.05 322.60,34.40 323.55,34.49 324.62,35.00 325.70,35.40 326.74,35.49 327.80,35.47 328.90,35.40 330.25,35.21 331.66,34.95 333.00,34.90 334.13,35.11 335.20,35.48 336.20,36.00 337.13,36.73 337.98,37.63 338.80,38.60 339.70,39.75 340.57,40.98 341.40,42.20 342.08,43.41 342.73,44.60 343.50,45.40 344.82,45.67 346.10,45.40 346.89,44.76 347.50,43.80 347.94,42.42 348.29,40.84 348.60,40.10 348.79,40.63 348.90,41.91 349.03,43.56 349.23,45.19 349.60,46.40 350.26,47.21 351.07,47.81 351.90,48.50 352.67,49.38 353.46,50.37 354.24,51.35 355.00,52.20 356.08,53.43 357.10,54.00 357.81,53.38 358.50,52.05 359.14,50.40 359.70,48.80 360.05,47.67 360.34,46.47 360.58,45.24 360.81,43.98 361.04,42.69 361.30,41.40 361.57,40.02 361.84,38.40 362.11,36.71 362.39,35.11 362.67,33.77 362.94,32.84 363.20,32.50 363.46,33.05 363.70,34.46 363.93,36.39 364.16,38.50 364.41,40.45 364.69,41.90 365.00,42.50 365.66,41.86 366.30,40.40 366.58,39.20 366.80,37.54 366.98,35.63 367.14,33.73 367.31,32.06 367.53,30.87 367.80,30.40 368.23,30.84 368.73,32.01 369.23,33.55 369.70,35.10 370.00,36.22 370.27,37.46 370.53,38.79 370.78,40.18 371.02,41.59 371.27,42.98 371.53,44.33 371.80,45.60 372.14,47.17 372.50,48.91 372.87,50.62 373.23,52.09 373.58,53.12 373.90,53.50 374.23,53.02 374.53,51.79 374.82,50.12 375.11,48.32 375.40,46.70 375.67,45.16 375.92,43.35 376.18,41.52 376.44,39.90 376.71,38.75 377.00,38.30 377.36,38.92 377.74,40.40 378.15,42.13 378.60,43.50 379.34,44.54 380.10,45.60 380.52,46.66 380.90,48.00 381.28,49.39 381.70,50.60 382.20,51.40 383.01,51.90 383.80,51.90 384.39,50.67 384.85,48.76 385.40,47.70 386.02,48.18 386.71,49.30 387.50,50.30 388.44,51.03 389.50,51.64 390.60,51.90 391.61,51.73 392.68,51.27 393.76,50.60 394.80,49.80 395.70,48.92 396.58,47.84 397.44,46.64 398.29,45.37 399.14,44.10 400.00,42.90 400.84,41.70 401.65,40.44 402.47,39.17 403.30,37.98 404.17,36.93 405.10,36.10 406.27,35.42 407.49,34.97 408.76,34.67 410.10,34.40 411.39,34.16 412.74,33.96 414.13,33.84 415.53,33.81 416.90,33.90 418.27,34.12 419.63,34.44 420.99,34.87 422.34,35.42 423.70,36.10 424.75,36.72 425.82,37.42 426.88,38.20 427.95,39.05 429.01,39.95 430.06,40.90 431.09,41.89 432.10,42.90 433.00,43.85 433.88,44.84 434.75,45.88 435.62,46.95 436.47,48.06 437.31,49.19 438.14,50.34 438.97,51.52 439.79,52.70 440.60,53.90 441.33,55.01 442.05,56.14 442.77,57.29 443.47,58.47 444.17,59.66 444.86,60.87 445.55,62.08 446.24,63.31 446.93,64.53 447.62,65.76 448.31,66.98 449.00,68.20 449.71,69.45 450.42,70.71 451.13,71.99 451.83,73.26 452.54,74.55 453.24,75.83 453.94,77.11 454.65,78.39 455.36,79.66 456.07,80.92 456.78,82.17 457.50,83.40 458.25,84.66 458.99,85.90 459.72,87.12 460.45,88.32 461.19,89.52 461.94,90.72 462.69,91.93 463.46,93.15 464.25,94.40 465.06,95.68 465.90,97.00 466.63,98.14 467.41,99.35 468.22,100.61 469.06,101.91 469.93,103.24 470.81,104.58 471.69,105.93 472.58,107.28 473.45,108.60 474.30,109.90 475.13,111.15 475.92,112.35 476.68,113.49 477.38,114.55 478.02,115.53 478.60,116.40 479.40,117.61" fill="none" stroke="#bcbd22" stroke-width="2.9" stroke-linejoin="round" stroke-linecap="butt"/>
<polyline clip-path="url(#cR2)" points="266.60,173.57 266.94,172.85 267.42,171.39 267.89,169.81 268.40,168.28 269.00,167.00 269.66,165.98 270.38,165.08 271.15,164.28 272.00,163.60 273.27,162.83 274.67,162.25 276.00,162.00 277.03,162.22 278.01,162.69 279.00,163.00 280.01,162.88 281.02,162.61 282.00,162.60 283.03,163.18 284.01,164.09 285.00,165.00 285.97,165.93 286.94,166.87 288.00,167.40 289.25,167.12 290.60,166.39 292.00,166.00 293.19,166.28 294.40,166.88 295.66,167.54 297.00,168.00 298.30,168.16 299.68,168.17 301.10,168.12 302.55,168.04 304.00,168.00 305.32,168.01 306.67,168.02 308.04,168.03 309.40,168.04 310.73,168.03 312.00,168.00 313.28,167.96 314.53,167.92 315.74,167.86 316.90,167.76 318.00,167.60 319.43,167.14 320.75,166.60 322.00,166.40 323.01,166.76 323.95,167.40 325.00,168.00 326.15,168.40 327.41,168.75 328.71,169.08 330.00,169.40 331.27,169.68 332.55,169.93 333.81,170.21 335.00,170.60 336.06,171.09 337.07,171.65 338.04,172.29 339.00,173.00 340.01,173.97 340.98,175.10 341.96,176.18 343.00,177.00 344.39,177.65 345.84,178.05 347.00,178.00 347.78,177.16 348.30,176.00 348.68,174.76 349.00,174.00 349.36,174.70 349.70,176.00 349.88,177.26 350.03,178.69 350.40,180.00 351.11,181.09 352.03,182.08 353.00,183.00 354.01,184.04 355.06,185.02 356.00,185.40 356.92,184.70 357.70,183.30 358.10,182.27 358.44,180.98 358.75,179.53 359.05,178.04 359.35,176.60 359.70,175.30 360.19,173.89 360.72,172.58 361.24,171.30 361.70,170.00 362.06,168.44 362.36,166.72 362.65,165.31 363.00,164.70 363.63,166.00 364.30,167.30 364.70,166.81 365.11,165.61 365.52,163.99 365.92,162.25 366.30,160.70 366.62,159.32 366.93,157.72 367.24,156.10 367.53,154.68 367.82,153.68 368.10,153.30 368.38,153.74 368.65,154.89 368.91,156.51 369.17,158.39 369.43,160.30 369.70,162.00 369.92,163.32 370.14,164.71 370.34,166.14 370.56,167.58 370.79,168.99 371.05,170.34 371.35,171.59 371.70,172.70 372.30,174.25 373.00,175.77 373.70,176.90 374.30,177.30 374.65,176.86 374.93,175.80 375.17,174.29 375.38,172.50 375.58,170.60 375.78,168.77 376.02,167.18 376.30,166.00 376.76,164.73 377.25,163.70 377.70,163.30 378.05,164.15 378.32,165.96 378.61,167.80 379.00,168.70 379.62,168.01 380.30,167.30 380.83,168.05 381.37,169.72 381.92,171.67 382.47,173.31 383.00,174.00 383.66,172.99 384.31,171.07 385.00,170.00 385.61,170.55 386.25,171.75 387.00,172.70 388.29,173.27 389.70,173.30 390.67,172.85 391.67,172.05 392.68,171.05 393.70,170.00 394.57,169.03 395.44,167.93 396.32,166.76 397.20,165.56 398.09,164.39 399.00,163.30 400.01,162.12 401.01,160.92 402.04,159.78 403.12,158.79 404.30,158.00 405.54,157.46 406.86,157.09 408.24,156.86 409.63,156.73 411.00,156.70 412.35,156.78 413.72,156.98 415.08,157.27 416.42,157.63 417.70,158.00 419.09,158.42 420.42,158.87 421.74,159.44 423.10,160.20 424.08,160.86 425.08,161.64 426.10,162.50 427.14,163.44 428.17,164.42 429.20,165.44 430.21,166.47 431.20,167.50 432.12,168.49 433.03,169.51 433.93,170.55 434.82,171.62 435.70,172.71 436.58,173.82 437.46,174.94 438.33,176.07 439.20,177.20 440.02,178.28 440.85,179.37 441.66,180.48 442.48,181.59 443.29,182.72 444.10,183.85 444.91,185.00 445.71,186.16 446.51,187.32 447.30,188.50 448.05,189.63 448.80,190.77 449.54,191.92 450.28,193.09 451.02,194.26 451.75,195.44 452.49,196.62 453.22,197.81 453.94,199.01 454.67,200.20 455.40,201.40 456.14,202.63 456.89,203.87 457.63,205.12 458.36,206.37 459.10,207.63 459.83,208.89 460.57,210.15 461.30,211.41 462.03,212.68 462.77,213.94 463.50,215.20 464.24,216.47 464.98,217.73 465.72,219.00 466.46,220.26 467.19,221.53 467.93,222.80 468.67,224.07 469.40,225.34 470.14,226.62 470.87,227.91 471.60,229.20 472.30,230.45 473.02,231.75 473.75,233.08 474.49,234.44 475.23,235.81 475.96,237.16 476.68,238.47 477.37,239.74 478.02,240.95 478.63,242.07 479.20,243.09 479.40,243.46" fill="none" stroke="#000000" stroke-width="2.9" stroke-linejoin="round" stroke-linecap="butt"/>
<polyline clip-path="url(#cR2)" points="266.60,157.78 267.24,157.07 268.12,156.06 269.00,155.00 269.77,154.07 270.56,153.09 271.32,152.07 272.00,151.00 272.57,149.58 273.06,147.94 273.51,146.58 274.00,146.00 274.57,146.84 275.16,148.59 276.00,150.00 277.21,150.53 278.64,150.76 280.00,151.00 281.05,151.27 282.05,151.55 283.00,152.00 284.02,152.93 284.98,154.07 286.00,155.00 286.97,155.52 287.99,155.87 289.00,156.00 289.97,155.76 290.94,155.29 292.00,155.00 293.19,155.16 294.51,155.57 295.83,155.95 297.00,156.00 298.10,155.34 299.07,154.40 300.00,154.00 300.79,154.72 301.55,156.10 302.28,157.44 303.00,158.00 303.72,157.26 304.45,155.60 305.16,153.64 305.82,152.03 306.40,151.40 306.77,151.95 307.03,153.29 307.23,155.10 307.43,157.08 307.66,158.93 307.97,160.34 308.40,161.00 309.22,160.82 310.17,160.02 311.00,159.00 311.52,157.84 311.94,156.28 312.30,154.70 312.64,153.48 313.00,153.00 313.29,153.41 313.55,154.50 313.80,156.07 314.05,157.93 314.31,159.89 314.58,161.77 314.88,163.37 315.22,164.51 315.60,165.00 316.36,164.55 317.19,163.33 318.00,162.00 318.67,160.61 319.32,158.95 319.96,157.56 320.60,157.00 321.06,157.43 321.49,158.50 321.90,160.00 322.34,161.72 322.81,163.44 323.36,164.94 324.00,166.00 325.20,166.90 326.56,167.43 328.00,168.00 329.14,168.59 330.36,169.25 331.61,169.91 332.85,170.51 334.00,171.00 335.38,171.39 336.70,171.64 338.00,172.00 339.34,172.63 340.66,173.37 342.00,174.00 343.37,174.44 344.76,174.79 346.00,175.00 347.11,175.21 348.00,175.00 348.37,174.31 348.57,173.19 348.64,171.75 348.64,170.10 348.60,168.36 348.57,166.62 348.60,165.00 348.66,163.49 348.71,161.73 348.75,159.83 348.79,157.91 348.83,156.09 348.86,154.47 348.90,153.17 348.95,152.31 349.00,152.00 349.06,152.31 349.11,153.17 349.17,154.47 349.23,156.09 349.30,157.91 349.37,159.83 349.44,161.73 349.52,163.49 349.60,165.00 349.67,166.66 349.72,168.49 349.76,170.35 349.82,172.08 349.93,173.53 350.12,174.56 350.40,175.00 351.17,174.35 352.00,173.00 352.58,171.62 353.11,170.09 353.60,169.40 353.94,170.15 354.20,171.83 354.51,173.69 355.00,175.00 356.02,175.77 357.00,176.00 357.38,175.79 357.70,175.30 357.98,174.62 358.28,173.63 358.57,172.40 358.87,170.99 359.17,169.45 359.47,167.85 359.76,166.26 360.04,164.72 360.30,163.30 360.55,161.96 360.80,160.61 361.04,159.25 361.27,157.89 361.50,156.53 361.71,155.19 361.92,153.87 362.12,152.57 362.30,151.30 362.49,149.75 362.66,148.02 362.82,146.26 362.96,144.62 363.11,143.27 363.25,142.34 363.40,142.00 363.53,142.41 363.65,143.51 363.76,145.10 363.87,146.99 363.99,148.98 364.11,150.87 364.25,152.47 364.41,153.58 364.60,154.00 364.90,153.54 365.23,152.31 365.59,150.65 365.95,148.88 366.30,147.30 366.65,145.63 367.01,143.70 367.36,141.88 367.69,140.53 368.00,140.00 368.27,140.50 368.51,141.71 368.75,143.25 369.00,144.70 369.23,146.15 369.45,147.85 369.68,149.50 369.96,150.75 370.30,151.30 370.99,150.29 371.70,149.30 371.96,149.70 372.17,150.68 372.35,152.11 372.49,153.84 372.63,155.76 372.77,157.71 372.94,159.58 373.14,161.22 373.38,162.50 373.70,163.30 374.35,163.93 375.00,164.00 375.29,163.53 375.52,162.53 375.70,161.11 375.86,159.38 375.98,157.44 376.08,155.41 376.17,153.39 376.25,151.49 376.34,149.82 376.44,148.50 376.55,147.62 376.70,147.30 376.91,147.81 377.11,149.14 377.32,150.97 377.54,152.96 377.78,154.80 378.03,156.15 378.30,156.70 378.73,155.84 379.19,154.19 379.70,153.30 380.18,154.00 380.70,155.66 381.24,157.64 381.78,159.30 382.30,160.00 382.79,159.29 383.26,157.71 383.75,156.10 384.30,155.30 385.22,156.13 386.30,157.30 387.58,157.55 389.00,157.30 389.90,156.84 390.84,156.14 391.80,155.26 392.77,154.30 393.70,153.30 394.47,152.37 395.21,151.30 395.94,150.17 396.67,149.02 397.41,147.90 398.19,146.88 399.00,146.00 399.99,145.12 401.01,144.32 402.06,143.63 403.15,143.08 404.30,142.70 405.57,142.53 406.90,142.55 408.28,142.72 409.66,142.99 411.00,143.30 412.38,143.67 413.77,144.11 415.13,144.64 416.45,145.27 417.70,146.00 418.67,146.72 419.58,147.52 420.44,148.39 421.29,149.32 422.16,150.30 423.10,151.30 423.94,152.17 424.81,153.09 425.71,154.04 426.63,155.03 427.55,156.03 428.48,157.06 429.40,158.10 430.31,159.15 431.20,160.20 432.11,161.31 433.02,162.42 433.92,163.56 434.81,164.70 435.70,165.87 436.58,167.05 437.46,168.25 438.33,169.46 439.20,170.70 439.96,171.81 440.71,172.94 441.45,174.08 442.19,175.24 442.93,176.42 443.66,177.60 444.39,178.80 445.12,180.00 445.85,181.20 446.57,182.40 447.30,183.60 448.04,184.83 448.79,186.07 449.53,187.31 450.27,188.56 451.00,189.81 451.74,191.07 452.47,192.33 453.21,193.59 453.94,194.86 454.67,196.13 455.40,197.40 456.08,198.60 456.76,199.80 457.43,201.01 458.10,202.23 458.77,203.45 459.44,204.67 460.11,205.89 460.79,207.11 461.46,208.32 462.14,209.52 462.82,210.72 463.50,211.90 464.23,213.14 464.96,214.36 465.69,215.58 466.43,216.79 467.17,217.99 467.91,219.19 468.65,220.39 469.39,221.59 470.13,222.79 470.86,223.99 471.60,225.20 472.36,226.45 473.14,227.75 473.94,229.08 474.75,230.42 475.56,231.76 476.35,233.07 477.12,234.34 477.84,235.55 478.53,236.67 479.15,237.70 479.40,238.11" fill="none" stroke="#0000ff" stroke-width="2.9" stroke-linejoin="round" stroke-linecap="butt"/>
<polyline clip-path="url(#cR3)" points="266.60,302.07 266.63,301.93 266.92,300.46 267.23,298.97 267.58,297.55 268.00,296.30 268.58,294.96 269.23,293.70 269.94,292.59 270.70,291.70 271.94,290.86 273.30,290.30 274.43,289.85 275.62,289.47 276.70,289.40 277.73,290.02 278.70,290.70 279.70,290.69 280.70,290.70 281.71,291.36 282.70,292.30 283.53,293.20 284.39,294.19 285.30,295.00 286.63,295.74 288.00,296.00 288.90,295.56 289.79,294.81 290.70,294.30 291.97,294.34 293.30,294.70 294.40,295.09 295.55,295.58 296.70,296.00 297.78,296.28 298.87,296.49 300.00,296.60 301.26,296.57 302.58,296.43 304.00,296.30 305.23,296.23 306.56,296.17 307.94,296.12 309.34,296.06 310.70,296.00 312.05,295.98 313.44,295.99 314.80,295.99 316.10,295.91 317.30,295.70 318.73,295.00 320.01,294.13 321.30,293.70 322.62,294.09 323.93,294.92 325.30,295.70 326.45,296.16 327.64,296.59 328.83,296.97 330.00,297.30 331.36,297.52 332.70,297.67 334.00,298.00 335.03,298.51 336.04,299.16 337.03,299.91 338.00,300.70 339.01,301.68 339.98,302.80 340.96,303.86 342.00,304.70 343.36,305.34 344.77,305.76 346.00,306.00 346.95,306.19 347.70,306.00 348.05,305.22 348.21,303.92 348.24,302.27 348.20,300.48 348.17,298.72 348.20,297.20 348.30,295.67 348.39,294.00 348.50,292.46 348.60,291.34 348.70,290.90 348.80,291.33 348.90,292.44 349.01,293.97 349.11,295.64 349.20,297.20 349.24,298.58 349.23,300.12 349.20,301.73 349.20,303.33 349.25,304.85 349.41,306.20 349.70,307.30 350.34,308.41 351.14,309.24 352.00,310.00 352.87,310.79 353.79,311.50 354.70,312.00 355.75,312.34 356.70,312.20 357.24,311.44 357.66,310.16 358.00,308.59 358.33,306.96 358.70,305.50 359.10,304.30 359.52,303.14 359.94,301.99 360.34,300.79 360.70,299.50 360.98,298.28 361.25,296.99 361.49,295.65 361.72,294.28 361.93,292.90 362.12,291.53 362.30,290.20 362.47,288.54 362.60,286.64 362.71,284.75 362.82,283.11 362.94,281.94 363.10,281.50 363.24,281.87 363.38,282.88 363.52,284.37 363.67,286.18 363.84,288.15 364.01,290.12 364.20,291.95 364.41,293.46 364.65,294.49 364.90,294.90 365.48,294.28 366.12,292.71 366.70,290.90 366.97,289.65 367.20,288.04 367.40,286.23 367.57,284.39 367.74,282.67 367.91,281.24 368.09,280.27 368.30,279.90 368.57,280.31 368.84,281.39 369.13,282.94 369.42,284.74 369.71,286.56 370.00,288.20 370.24,289.50 370.47,290.89 370.69,292.32 370.92,293.76 371.16,295.17 371.42,296.52 371.70,297.78 372.00,298.90 372.47,300.41 372.98,301.89 373.50,303.02 374.00,303.50 374.68,302.90 375.30,301.50 375.55,300.50 375.77,299.08 375.96,297.37 376.12,295.49 376.27,293.57 376.41,291.71 376.55,290.06 376.69,288.72 376.84,287.83 377.00,287.50 377.19,288.02 377.34,289.35 377.50,291.08 377.69,292.84 377.94,294.24 378.30,294.90 379.13,294.21 380.00,293.50 380.47,294.15 380.85,295.54 381.19,297.26 381.56,298.94 382.00,300.20 382.84,301.58 383.70,302.20 384.21,301.35 384.66,299.58 385.12,297.80 385.70,296.90 386.38,297.25 387.15,298.15 388.00,298.90 389.03,299.21 390.15,299.36 391.30,299.50 392.53,299.86 393.78,300.22 395.00,300.10 395.77,299.54 396.50,298.61 397.21,297.43 397.91,296.12 398.61,294.76 399.34,293.49 400.10,292.40 401.07,291.21 402.05,290.05 403.07,288.97 404.14,288.01 405.30,287.20 406.55,286.56 407.89,286.05 409.29,285.66 410.70,285.38 412.10,285.20 413.48,285.12 414.87,285.15 416.26,285.29 417.64,285.53 419.00,285.90 420.18,286.33 421.34,286.86 422.48,287.48 423.62,288.18 424.76,288.95 425.90,289.80 426.85,290.56 427.80,291.39 428.76,292.28 429.72,293.22 430.67,294.20 431.62,295.22 432.56,296.26 433.49,297.33 434.40,298.40 435.30,299.49 436.18,300.61 437.06,301.76 437.93,302.94 438.79,304.14 439.64,305.36 440.49,306.61 441.33,307.86 442.17,309.13 443.00,310.40 443.74,311.55 444.47,312.72 445.20,313.90 445.92,315.10 446.63,316.31 447.34,317.54 448.06,318.76 448.76,320.00 449.47,321.23 450.18,322.46 450.89,323.68 451.60,324.90 452.31,326.11 453.02,327.33 453.73,328.54 454.44,329.76 455.14,330.98 455.85,332.20 456.56,333.41 457.26,334.63 457.97,335.85 458.68,337.07 459.39,338.28 460.10,339.50 460.81,340.72 461.52,341.93 462.22,343.14 462.92,344.34 463.63,345.55 464.33,346.76 465.04,347.97 465.75,349.19 466.48,350.40 467.21,351.63 467.95,352.86 468.70,354.10 469.47,355.36 470.28,356.66 471.12,358.00 471.99,359.37 472.86,360.75 473.73,362.12 474.60,363.47 475.44,364.79 476.25,366.06 477.02,367.27 477.75,368.41 478.41,369.45 479.00,370.40 479.40,371.05" fill="none" stroke="#000000" stroke-width="2.9" stroke-linejoin="round" stroke-linecap="butt"/>
<polyline clip-path="url(#cR3)" points="266.60,306.73 266.94,305.71 267.43,304.30 268.00,303.00 268.58,301.89 269.21,300.82 269.90,299.84 270.70,299.00 271.92,298.12 273.30,297.45 274.70,297.00 276.07,296.97 277.46,297.14 278.70,297.00 279.66,296.29 280.47,295.29 281.30,294.30 282.17,293.39 283.05,292.50 284.00,291.70 285.05,290.99 286.16,290.38 287.30,290.00 288.41,289.92 289.55,290.05 290.70,290.30 292.02,290.74 293.37,291.34 294.70,292.00 295.69,292.56 296.66,293.18 297.64,293.78 298.70,294.30 299.94,294.76 301.24,295.14 302.60,295.45 304.00,295.70 305.28,295.86 306.62,295.96 307.98,296.02 309.35,296.03 310.70,296.00 312.05,295.95 313.43,295.88 314.80,295.76 316.10,295.57 317.30,295.30 318.73,294.61 320.01,293.80 321.30,293.40 322.62,293.75 323.94,294.53 325.30,295.30 326.45,295.83 327.64,296.38 328.83,296.89 330.00,297.30 331.36,297.53 332.71,297.65 334.00,298.00 335.04,298.60 336.03,299.38 337.00,300.29 338.00,301.30 338.86,302.29 339.71,303.44 340.57,304.67 341.45,305.89 342.35,307.03 343.30,308.00 344.35,308.78 345.45,309.40 346.58,309.96 347.67,310.56 348.70,311.30 349.70,312.27 350.66,313.36 351.57,314.50 352.44,315.64 353.30,316.70 354.17,317.78 355.00,318.85 355.83,319.84 356.70,320.70 357.81,321.64 358.96,322.43 360.00,322.70 361.10,322.04 362.00,320.70 362.40,319.52 362.70,317.87 362.93,316.07 363.14,314.41 363.35,313.18 363.60,312.70 363.89,313.39 364.17,314.94 364.49,316.52 364.90,317.30 365.79,316.68 366.70,315.30 367.15,313.96 367.48,312.26 367.83,310.75 368.30,310.00 369.10,310.55 370.00,311.30 370.99,311.01 372.00,310.70 373.00,311.42 374.00,312.00 375.02,311.08 376.07,309.50 377.00,308.70 377.60,309.20 378.13,310.23 378.70,311.30 379.52,312.64 380.42,314.03 381.30,314.70 382.30,314.02 383.30,312.70 383.94,311.78 384.56,310.72 385.23,309.65 386.00,308.70 386.91,307.94 387.93,307.30 388.98,306.68 390.00,306.00 391.03,305.27 392.06,304.53 393.06,303.71 394.00,302.70 394.77,301.59 395.50,300.29 396.19,298.88 396.84,297.43 397.44,296.01 398.00,294.70 398.54,293.22 398.96,291.79 399.43,290.42 400.10,289.10 400.92,287.94 401.88,286.79 402.95,285.70 404.10,284.72 405.30,283.90 406.55,283.26 407.89,282.75 409.29,282.36 410.70,282.08 412.10,281.90 413.48,281.82 414.87,281.85 416.26,281.99 417.64,282.23 419.00,282.60 420.18,283.03 421.34,283.56 422.48,284.18 423.62,284.88 424.76,285.65 425.90,286.50 426.85,287.26 427.80,288.09 428.76,288.98 429.72,289.92 430.67,290.90 431.62,291.92 432.56,292.96 433.49,294.03 434.40,295.10 435.30,296.19 436.18,297.31 437.06,298.46 437.93,299.64 438.79,300.84 439.64,302.06 440.49,303.31 441.33,304.56 442.17,305.83 443.00,307.10 443.74,308.25 444.47,309.42 445.20,310.60 445.92,311.80 446.63,313.01 447.34,314.24 448.06,315.46 448.76,316.70 449.47,317.93 450.18,319.16 450.89,320.38 451.60,321.60 452.31,322.81 453.02,324.03 453.73,325.24 454.44,326.46 455.14,327.68 455.85,328.90 456.56,330.11 457.26,331.33 457.97,332.55 458.68,333.77 459.39,334.98 460.10,336.20 460.81,337.42 461.52,338.63 462.22,339.84 462.92,341.04 463.63,342.25 464.33,343.46 465.04,344.67 465.75,345.89 466.48,347.10 467.21,348.33 467.95,349.56 468.70,350.80 469.47,352.06 470.28,353.36 471.12,354.70 471.99,356.07 472.86,357.45 473.73,358.82 474.60,360.17 475.44,361.49 476.25,362.76 477.02,363.97 477.75,365.11 478.41,366.15 479.00,367.10 479.40,367.75" fill="none" stroke="#0000ff" stroke-width="2.9" stroke-linejoin="round" stroke-linecap="butt"/>
<polyline clip-path="url(#cR3)" points="266.60,305.00 266.75,304.42 267.11,302.97 267.52,301.55 268.00,300.30 268.57,299.14 269.19,298.06 269.89,297.10 270.70,296.30 271.92,295.57 273.30,295.07 274.70,294.70 276.06,294.50 277.43,294.42 278.70,294.30 280.07,294.07 281.30,293.70 282.31,292.89 283.30,292.30 284.16,292.59 285.07,293.22 286.00,293.70 287.35,293.86 288.70,293.70 289.99,292.93 291.30,292.30 292.38,292.54 293.52,293.13 294.70,293.70 295.98,294.19 297.30,294.66 298.70,295.00 299.95,295.10 301.26,295.08 302.61,295.01 304.00,295.00 305.29,295.06 306.63,295.15 307.99,295.26 309.35,295.35 310.70,295.40 312.05,295.45 313.43,295.51 314.80,295.54 316.10,295.48 317.30,295.30 318.73,294.65 320.01,293.81 321.30,293.40 322.62,293.75 323.94,294.53 325.30,295.30 326.45,295.83 327.64,296.38 328.83,296.89 330.00,297.30 331.36,297.55 332.70,297.68 334.00,298.00 335.03,298.51 336.04,299.16 337.03,299.91 338.00,300.70 339.01,301.68 339.98,302.80 340.96,303.86 342.00,304.70 343.36,305.34 344.77,305.76 346.00,306.00 346.95,306.18 347.70,306.00 348.05,305.19 348.18,303.86 348.19,302.22 348.16,300.53 348.20,299.00 348.30,297.52 348.40,295.85 348.50,294.30 348.60,293.15 348.70,292.70 348.80,293.14 348.90,294.27 349.00,295.81 349.10,297.48 349.20,299.00 349.25,300.38 349.24,301.87 349.23,303.39 349.27,304.86 349.41,306.20 349.70,307.30 350.33,308.38 351.14,309.23 352.00,310.00 352.89,310.71 353.82,311.34 354.70,312.00 355.76,313.29 356.70,314.00 357.19,313.42 357.60,312.17 357.96,310.53 358.32,308.81 358.70,307.30 359.10,306.10 359.52,304.94 359.94,303.79 360.34,302.59 360.70,301.30 360.98,300.08 361.25,298.79 361.49,297.45 361.72,296.08 361.93,294.70 362.12,293.33 362.30,292.00 362.47,290.34 362.60,288.44 362.71,286.55 362.82,284.91 362.94,283.74 363.10,283.30 363.24,283.67 363.38,284.68 363.52,286.17 363.67,287.98 363.84,289.95 364.01,291.92 364.20,293.75 364.41,295.26 364.65,296.29 364.90,296.70 365.48,296.08 366.12,294.51 366.70,292.70 366.97,291.45 367.20,289.84 367.40,288.03 367.57,286.19 367.74,284.47 367.91,283.04 368.09,282.07 368.30,281.70 368.57,282.11 368.84,283.19 369.13,284.74 369.42,286.54 369.71,288.36 370.00,290.00 370.24,291.30 370.47,292.69 370.69,294.12 370.92,295.56 371.16,296.97 371.42,298.32 371.70,299.58 372.00,300.70 372.47,302.21 372.98,303.69 373.50,304.82 374.00,305.30 374.68,304.70 375.30,303.30 375.55,302.30 375.77,300.88 375.96,299.17 376.12,297.29 376.27,295.37 376.41,293.51 376.55,291.86 376.69,290.52 376.84,289.63 377.00,289.30 377.19,289.82 377.34,291.15 377.50,292.88 377.69,294.64 377.94,296.04 378.30,296.70 379.13,296.01 380.00,295.30 380.47,295.95 380.85,297.34 381.19,299.06 381.56,300.74 382.00,302.00 382.84,303.38 383.70,304.00 384.21,303.15 384.66,301.38 385.12,299.60 385.70,298.70 386.38,299.05 387.15,299.95 388.00,300.70 389.04,301.12 390.18,301.37 391.30,301.30 392.24,300.88 393.17,300.18 394.08,299.29 395.00,298.30 395.73,297.40 396.44,296.34 397.15,295.18 397.86,293.98 398.59,292.78 399.33,291.63 400.10,290.60 401.07,289.41 402.05,288.25 403.07,287.17 404.14,286.21 405.30,285.40 406.55,284.76 407.89,284.25 409.29,283.86 410.70,283.58 412.10,283.40 413.48,283.32 414.87,283.35 416.26,283.49 417.64,283.73 419.00,284.10 420.18,284.53 421.34,285.06 422.48,285.68 423.62,286.38 424.76,287.15 425.90,288.00 426.85,288.76 427.80,289.59 428.76,290.48 429.72,291.42 430.67,292.40 431.62,293.42 432.56,294.46 433.49,295.53 434.40,296.60 435.30,297.69 436.18,298.81 437.06,299.96 437.93,301.14 438.79,302.34 439.64,303.56 440.49,304.81 441.33,306.06 442.17,307.33 443.00,308.60 443.74,309.75 444.47,310.92 445.20,312.10 445.92,313.30 446.63,314.51 447.34,315.74 448.06,316.96 448.76,318.20 449.47,319.43 450.18,320.66 450.89,321.88 451.60,323.10 452.31,324.31 453.02,325.53 453.73,326.74 454.44,327.96 455.14,329.18 455.85,330.40 456.56,331.61 457.26,332.83 457.97,334.05 458.68,335.27 459.39,336.48 460.10,337.70 460.81,338.92 461.52,340.13 462.22,341.34 462.92,342.54 463.63,343.75 464.33,344.96 465.04,346.17 465.75,347.39 466.48,348.60 467.21,349.83 467.95,351.06 468.70,352.30 469.47,353.56 470.28,354.86 471.12,356.20 471.99,357.57 472.86,358.95 473.73,360.32 474.60,361.67 475.44,362.99 476.25,364.26 477.02,365.47 477.75,366.61 478.41,367.65 479.00,368.60 479.40,369.25" fill="none" stroke="#ff0000" stroke-width="2.9" stroke-linejoin="round" stroke-linecap="butt"/>
<polyline clip-path="url(#cR4)" points="266.60,429.15 266.86,427.73 267.18,426.24 267.54,424.87 268.00,423.70 268.79,422.35 269.69,421.24 270.70,420.30 271.75,419.58 272.88,419.01 274.00,418.60 275.39,418.29 276.70,418.30 277.70,418.86 278.70,419.40 279.98,419.17 281.30,419.00 282.21,419.46 283.09,420.21 284.00,421.00 285.07,422.03 286.16,423.11 287.30,423.70 288.41,423.43 289.55,422.74 290.70,422.30 291.80,422.37 292.90,422.67 294.00,423.00 295.06,423.34 296.11,423.70 297.30,424.00 298.48,424.14 299.80,424.21 301.20,424.24 302.62,424.26 304.00,424.30 305.34,424.37 306.68,424.46 308.02,424.55 309.36,424.60 310.70,424.60 312.06,424.57 313.44,424.54 314.80,424.45 316.11,424.28 317.30,424.00 318.39,423.44 319.38,422.68 320.33,422.01 321.30,421.70 322.61,422.09 323.93,422.95 325.30,423.70 326.43,424.02 327.60,424.25 328.79,424.46 330.00,424.70 331.34,424.95 332.72,425.17 334.06,425.49 335.30,426.00 336.39,426.82 337.38,427.87 338.32,428.98 339.30,430.00 340.28,430.90 341.26,431.80 342.26,432.62 343.30,433.30 344.72,434.10 346.18,434.73 347.30,434.70 347.75,433.97 347.93,432.73 347.96,431.18 347.94,429.53 348.00,428.00 348.12,426.52 348.24,424.79 348.36,423.04 348.48,421.51 348.59,420.42 348.70,420.00 348.81,420.40 348.91,421.46 349.00,422.96 349.10,424.70 349.20,426.45 349.30,428.00 349.35,429.37 349.33,430.86 349.30,432.39 349.30,433.89 349.38,435.26 349.60,436.42 350.00,437.30 350.94,437.98 352.13,438.29 353.30,438.70 354.51,439.74 355.70,440.91 356.70,441.30 357.22,440.67 357.58,439.38 357.85,437.69 358.09,435.85 358.35,434.10 358.70,432.70 359.35,431.36 360.06,430.21 360.70,428.70 360.98,427.57 361.23,426.09 361.46,424.36 361.67,422.45 361.87,420.45 362.05,418.45 362.23,416.52 362.40,414.76 362.57,413.24 362.74,412.05 362.92,411.28 363.10,411.00 363.30,411.44 363.48,412.63 363.66,414.34 363.82,416.38 364.00,418.53 364.19,420.57 364.39,422.31 364.63,423.52 364.90,424.00 365.48,423.37 366.12,421.81 366.70,420.00 366.97,418.78 367.19,417.21 367.39,415.45 367.56,413.66 367.73,411.99 367.90,410.61 368.09,409.66 368.30,409.30 368.56,409.65 368.84,410.59 369.12,411.94 369.41,413.53 369.71,415.18 370.00,416.70 370.25,418.00 370.51,419.43 370.76,420.95 371.01,422.52 371.27,424.08 371.54,425.58 371.81,426.99 372.10,428.24 372.40,429.30 372.93,430.87 373.48,432.17 374.00,432.70 374.47,432.15 374.90,430.85 375.30,429.30 375.51,428.14 375.69,426.62 375.84,424.87 375.98,423.03 376.11,421.22 376.24,419.58 376.37,418.24 376.53,417.34 376.70,417.00 376.93,417.60 377.15,419.11 377.38,421.09 377.64,423.08 377.94,424.63 378.30,425.30 378.83,424.65 379.43,423.36 380.00,422.70 380.42,423.36 380.80,424.92 381.16,426.93 381.53,428.96 381.93,430.56 382.40,431.30 383.20,430.94 384.00,430.00 384.61,428.56 385.15,426.85 385.70,426.00 386.17,426.56 386.66,427.75 387.30,428.70 388.56,429.26 390.00,429.30 390.97,428.99 391.97,428.42 392.99,427.64 394.00,426.70 394.75,425.79 395.48,424.64 396.21,423.34 396.93,421.96 397.67,420.58 398.42,419.25 399.19,418.07 400.00,417.10 401.00,416.18 402.01,415.40 403.06,414.75 404.15,414.19 405.30,413.70 406.58,413.27 407.93,412.93 409.31,412.69 410.72,412.55 412.10,412.50 413.48,412.55 414.87,412.71 416.26,412.96 417.64,413.29 419.00,413.70 420.17,414.10 421.33,414.56 422.48,415.07 423.62,415.66 424.76,416.33 425.90,417.10 426.85,417.83 427.81,418.65 428.77,419.55 429.72,420.50 430.67,421.50 431.61,422.53 432.55,423.58 433.48,424.64 434.40,425.70 435.29,426.74 436.16,427.80 437.04,428.88 437.90,429.99 438.76,431.11 439.62,432.25 440.47,433.40 441.31,434.56 442.16,435.73 443.00,436.90 443.80,438.02 444.59,439.14 445.39,440.28 446.18,441.42 446.96,442.58 447.74,443.74 448.52,444.92 449.30,446.10 450.07,447.29 450.84,448.49 451.60,449.70 452.33,450.87 453.05,452.06 453.76,453.26 454.47,454.48 455.17,455.70 455.88,456.92 456.58,458.16 457.28,459.39 457.98,460.62 458.68,461.85 459.39,463.08 460.10,464.30 460.81,465.51 461.52,466.71 462.23,467.90 462.94,469.09 463.65,470.28 464.36,471.48 465.08,472.68 465.79,473.89 466.51,475.11 467.24,476.35 467.96,477.61 468.70,478.90 469.38,480.10 470.09,481.37 470.82,482.68 471.56,484.03 472.31,485.41 473.06,486.79 473.82,488.18 474.56,489.55 475.29,490.89 475.99,492.20 476.67,493.45 477.32,494.64 477.93,495.75 478.49,496.78 479.00,497.70 479.40,498.41" fill="none" stroke="#000000" stroke-width="2.9" stroke-linejoin="round" stroke-linecap="butt"/>
<polyline clip-path="url(#cR4)" points="266.60,422.40 266.77,421.86 267.18,420.53 267.64,419.24 268.14,418.04 268.70,417.00 269.43,415.98 270.22,415.08 271.08,414.31 272.00,413.70 273.30,413.10 274.71,412.73 276.00,412.70 276.95,413.14 277.82,413.83 278.70,414.30 279.97,414.14 281.30,414.00 282.26,414.41 283.26,415.10 284.28,415.88 285.30,416.60 286.30,417.27 287.30,417.97 288.30,418.59 289.30,419.00 290.45,419.07 291.59,418.94 292.70,419.00 293.79,419.53 294.84,420.30 296.00,421.00 297.21,421.50 298.51,421.95 299.89,422.35 301.30,422.70 302.56,422.97 303.86,423.21 305.20,423.41 306.57,423.57 308.00,423.70 309.28,423.80 310.66,423.89 312.10,423.97 313.52,424.00 314.90,423.99 316.18,423.89 317.30,423.70 318.78,423.02 320.04,422.15 321.30,421.70 322.61,422.01 323.93,422.73 325.30,423.40 326.43,423.76 327.60,424.09 328.79,424.39 330.00,424.70 331.33,424.97 332.71,425.19 334.06,425.49 335.30,426.00 336.39,426.82 337.38,427.87 338.32,428.98 339.30,430.00 340.28,430.90 341.26,431.80 342.26,432.62 343.30,433.30 344.72,434.10 346.18,434.73 347.30,434.70 347.75,433.97 347.93,432.71 347.95,431.14 347.94,429.50 348.00,428.00 348.14,426.39 348.29,424.54 348.43,422.80 348.57,421.51 348.70,421.00 348.83,421.49 348.95,422.74 349.06,424.46 349.18,426.31 349.30,428.00 349.35,429.34 349.33,430.81 349.30,432.35 349.30,433.85 349.38,435.24 349.60,436.42 350.00,437.30 350.94,437.98 352.13,438.29 353.30,438.70 354.51,439.74 355.70,440.91 356.70,441.30 357.22,440.67 357.58,439.38 357.85,437.69 358.09,435.85 358.35,434.10 358.70,432.70 359.35,431.35 360.05,430.20 360.70,428.70 360.97,427.61 361.22,426.21 361.45,424.57 361.66,422.77 361.86,420.89 362.04,419.00 362.22,417.19 362.40,415.53 362.57,414.10 362.74,412.99 362.92,412.26 363.10,412.00 363.30,412.42 363.49,413.56 363.66,415.21 363.83,417.17 364.01,419.24 364.19,421.21 364.40,422.87 364.63,424.04 364.90,424.50 365.48,423.86 366.12,422.28 366.70,420.50 366.99,419.24 367.23,417.63 367.45,415.88 367.65,414.17 367.85,412.71 368.06,411.69 368.30,411.30 368.62,411.74 368.96,412.90 369.30,414.51 369.65,416.30 370.00,418.00 370.26,419.27 370.52,420.69 370.78,422.20 371.03,423.77 371.30,425.33 371.56,426.86 371.83,428.29 372.11,429.59 372.40,430.70 372.93,432.51 373.48,434.05 374.00,434.70 374.46,434.10 374.90,432.68 375.30,431.00 375.50,429.82 375.68,428.29 375.83,426.54 375.97,424.69 376.10,422.89 376.24,421.26 376.37,419.93 376.53,419.03 376.70,418.70 376.92,419.31 377.11,420.84 377.32,422.86 377.57,424.91 377.89,426.54 378.30,427.30 379.13,426.66 380.00,426.00 380.45,426.63 380.85,427.97 381.21,429.66 381.57,431.35 381.96,432.68 382.40,433.30 383.21,432.94 384.00,432.00 384.61,430.56 385.15,428.85 385.70,428.00 386.18,428.54 386.67,429.70 387.30,430.70 388.55,431.60 390.00,432.00 391.28,431.74 392.65,431.04 394.00,430.00 394.76,429.16 395.51,428.08 396.24,426.84 396.97,425.50 397.70,424.14 398.45,422.82 399.21,421.62 400.00,420.60 401.00,419.52 402.01,418.54 403.05,417.67 404.14,416.92 405.30,416.30 406.56,415.82 407.91,415.48 409.31,415.26 410.71,415.14 412.10,415.10 413.48,415.15 414.87,415.31 416.26,415.56 417.64,415.89 419.00,416.30 420.17,416.70 421.33,417.16 422.48,417.67 423.62,418.26 424.76,418.93 425.90,419.70 426.86,420.43 427.81,421.25 428.77,422.14 429.72,423.09 430.67,424.08 431.62,425.12 432.55,426.17 433.48,427.24 434.40,428.30 435.29,429.36 436.17,430.45 437.04,431.57 437.90,432.71 438.76,433.87 439.61,435.05 440.46,436.23 441.31,437.42 442.15,438.61 443.00,439.80 443.79,440.91 444.59,442.01 445.38,443.12 446.17,444.24 446.96,445.36 447.74,446.49 448.52,447.63 449.30,448.78 450.07,449.94 450.84,451.11 451.60,452.30 452.33,453.47 453.05,454.65 453.76,455.85 454.47,457.06 455.18,458.28 455.88,459.51 456.58,460.75 457.28,461.99 457.98,463.22 458.68,464.45 459.39,465.68 460.10,466.90 460.81,468.10 461.52,469.29 462.23,470.47 462.95,471.65 463.66,472.82 464.37,474.00 465.09,475.19 465.80,476.39 466.52,477.60 467.25,478.84 467.97,480.11 468.70,481.40 469.39,482.64 470.10,483.96 470.83,485.33 471.57,486.74 472.32,488.18 473.08,489.64 473.83,491.10 474.57,492.54 475.29,493.96 476.00,495.33 476.67,496.65 477.32,497.90 477.93,499.07 478.49,500.14 479.00,501.10 479.40,501.84" fill="none" stroke="#0000ff" stroke-width="2.9" stroke-linejoin="round" stroke-linecap="butt"/>
<polyline clip-path="url(#cR4)" points="266.60,414.65 266.74,414.12 267.14,412.66 267.59,411.26 268.10,410.01 268.70,409.00 269.69,407.93 270.81,407.16 272.00,406.70 273.32,406.63 274.72,406.89 276.00,407.30 276.93,407.80 277.78,408.43 278.70,409.00 279.97,409.45 281.34,409.83 282.70,410.30 283.71,410.81 284.71,411.40 285.70,412.02 286.70,412.60 287.70,413.13 288.70,413.65 289.70,414.17 290.70,414.70 291.70,415.26 292.70,415.83 293.70,416.41 294.70,417.00 295.68,417.62 296.65,418.27 297.64,418.88 298.70,419.40 299.94,419.82 301.25,420.14 302.61,420.42 304.00,420.70 305.29,420.98 306.62,421.26 307.98,421.53 309.35,421.78 310.70,422.00 312.05,422.23 313.43,422.47 314.79,422.67 316.10,422.77 317.30,422.70 318.73,422.14 320.02,421.35 321.30,421.00 322.30,421.31 323.27,421.95 324.26,422.69 325.30,423.30 326.43,423.72 327.59,424.07 328.79,424.38 330.00,424.70 331.33,424.98 332.71,425.20 334.06,425.50 335.30,426.00 336.40,426.80 337.40,427.80 338.34,428.90 339.30,430.00 340.10,430.96 340.87,432.01 341.64,433.04 342.44,433.97 343.30,434.70 344.71,435.51 346.18,436.07 347.30,436.00 347.74,435.21 347.89,433.90 347.91,432.38 348.00,431.00 348.23,429.22 348.47,427.48 348.70,426.70 348.91,427.45 349.11,429.16 349.30,431.00 349.38,432.20 349.39,433.54 349.41,434.95 349.48,436.34 349.65,437.62 350.00,438.70 350.65,439.69 351.49,440.50 352.41,441.23 353.30,442.00 354.17,442.99 355.06,444.09 355.92,444.97 356.70,445.30 357.44,444.86 358.10,443.88 358.70,442.70 359.11,441.74 359.47,440.65 359.80,439.45 360.10,438.15 360.40,436.76 360.70,435.30 360.92,434.05 361.14,432.54 361.36,430.85 361.56,429.04 361.77,427.18 361.96,425.35 362.16,423.60 362.35,422.02 362.54,420.67 362.73,419.62 362.91,418.94 363.10,418.70 363.30,419.12 363.46,420.25 363.61,421.89 363.76,423.85 363.92,425.91 364.10,427.89 364.31,429.58 364.57,430.78 364.90,431.30 365.80,430.75 366.70,429.30 367.03,428.20 367.28,426.63 367.47,424.79 367.63,422.86 367.77,421.03 367.91,419.48 368.08,418.41 368.30,418.00 368.61,418.38 368.95,419.39 369.31,420.82 369.66,422.43 370.00,424.00 370.25,425.25 370.48,426.68 370.71,428.24 370.94,429.88 371.16,431.56 371.39,433.22 371.62,434.82 371.87,436.29 372.13,437.60 372.40,438.70 372.92,440.40 373.46,441.80 374.00,442.40 374.68,441.65 375.30,440.00 375.52,438.96 375.70,437.52 375.85,435.80 375.97,433.92 376.08,432.01 376.18,430.17 376.28,428.53 376.40,427.21 376.53,426.33 376.70,426.00 376.96,426.72 377.21,428.47 377.49,430.58 377.84,432.42 378.30,433.30 379.13,432.65 380.00,432.00 380.46,432.67 380.84,434.11 381.19,435.94 381.54,437.78 381.93,439.26 382.40,440.00 383.20,439.90 384.00,439.30 384.62,438.07 385.15,436.50 385.70,435.70 386.43,436.61 387.30,438.00 388.54,438.86 390.00,439.30 391.28,439.22 392.65,438.80 394.00,438.00 394.78,437.21 395.54,436.15 396.28,434.89 397.01,433.51 397.74,432.09 398.47,430.69 399.22,429.40 400.00,428.30 401.01,427.06 402.01,425.91 403.04,424.85 404.13,423.91 405.30,423.10 406.56,422.42 407.90,421.86 409.29,421.41 410.70,421.09 412.10,420.90 413.47,420.86 414.87,420.95 416.26,421.17 417.64,421.49 419.00,421.90 420.18,422.34 421.33,422.85 422.48,423.45 423.62,424.12 424.76,424.87 425.90,425.70 426.85,426.46 427.80,427.29 428.76,428.19 429.71,429.14 430.66,430.13 431.61,431.15 432.55,432.20 433.48,433.25 434.40,434.30 435.29,435.33 436.17,436.37 437.04,437.44 437.91,438.53 438.77,439.63 439.63,440.75 440.48,441.89 441.33,443.05 442.17,444.22 443.00,445.40 443.81,446.57 444.61,447.77 445.40,448.99 446.19,450.22 446.97,451.47 447.75,452.73 448.52,454.00 449.29,455.27 450.06,456.55 450.83,457.83 451.60,459.10 452.32,460.30 453.03,461.50 453.74,462.71 454.45,463.92 455.16,465.14 455.86,466.36 456.57,467.59 457.27,468.81 457.98,470.04 458.68,471.26 459.39,472.48 460.10,473.70 460.81,474.91 461.52,476.11 462.23,477.30 462.94,478.49 463.65,479.68 464.36,480.88 465.08,482.08 465.79,483.29 466.51,484.51 467.24,485.75 467.96,487.01 468.70,488.30 469.38,489.50 470.09,490.77 470.82,492.08 471.56,493.43 472.31,494.80 473.07,496.18 473.82,497.57 474.56,498.94 475.29,500.28 476.00,501.58 476.68,502.84 477.32,504.03 477.93,505.14 478.49,506.17 479.00,507.10 479.40,507.82" fill="none" stroke="#ff0000" stroke-width="2.9" stroke-linejoin="round" stroke-linecap="butt"/>
<polyline clip-path="url(#cR5)" points="266.80,558.60 267.36,557.51 267.91,556.42 268.50,555.20 269.02,553.94 269.55,552.49 270.11,551.00 270.69,549.62 271.30,548.50 271.99,547.59 272.71,546.87 273.50,546.30 274.83,545.69 276.20,545.50 277.50,546.08 278.70,546.80 279.45,546.98 280.20,547.10 281.24,547.25 282.30,547.50 283.29,548.01 284.30,548.70 285.31,549.67 286.39,550.78 287.50,551.40 288.56,551.12 289.64,550.43 290.70,550.00 291.98,550.24 293.30,550.70 294.53,551.02 295.85,551.35 297.30,551.60 298.53,551.70 299.85,551.73 301.23,551.73 302.63,551.71 304.00,551.70 305.34,551.70 306.68,551.70 308.02,551.69 309.36,551.66 310.70,551.60 312.04,551.54 313.41,551.47 314.75,551.37 316.06,551.22 317.30,551.00 318.57,550.54 319.78,549.93 320.92,549.43 322.00,549.30 323.13,549.87 324.16,550.85 325.30,551.70 326.40,552.14 327.60,552.47 328.82,552.75 330.00,553.00 331.36,553.21 332.70,553.36 334.00,553.70 335.02,554.20 336.01,554.83 337.00,555.54 338.00,556.30 338.92,557.06 339.85,557.91 340.78,558.78 341.73,559.60 342.70,560.30 343.91,561.08 345.21,561.85 346.40,562.35 347.30,562.30 347.78,561.53 347.96,560.16 347.98,558.45 347.95,556.65 348.00,555.00 348.12,553.50 348.24,551.77 348.36,550.02 348.48,548.49 348.59,547.41 348.70,547.00 348.81,547.40 348.91,548.46 349.00,549.96 349.10,551.70 349.20,553.45 349.30,555.00 349.36,556.34 349.36,557.77 349.35,559.24 349.36,560.68 349.45,562.04 349.65,563.27 350.00,564.30 350.65,565.30 351.48,566.11 352.39,566.79 353.30,567.40 354.47,568.22 355.67,568.92 356.70,569.00 357.29,568.33 357.70,567.09 358.02,565.51 358.33,563.84 358.70,562.30 359.12,561.04 359.58,559.80 360.04,558.54 360.50,557.22 360.93,555.82 361.30,554.30 361.53,553.03 361.72,551.51 361.90,549.81 362.05,548.00 362.19,546.15 362.32,544.32 362.44,542.58 362.56,541.01 362.68,539.67 362.81,538.62 362.95,537.94 363.10,537.70 363.27,538.12 363.43,539.25 363.58,540.89 363.73,542.84 363.89,544.91 364.08,546.88 364.30,548.58 364.57,549.78 364.90,550.30 365.80,549.76 366.70,548.30 367.01,547.26 367.26,545.78 367.45,544.01 367.60,542.10 367.72,540.20 367.84,538.46 367.97,537.03 368.11,536.06 368.30,535.70 368.56,536.08 368.83,537.10 369.12,538.56 369.41,540.28 369.70,542.06 370.00,543.70 370.23,544.93 370.46,546.27 370.68,547.69 370.92,549.16 371.15,550.63 371.39,552.09 371.63,553.49 371.88,554.79 372.14,555.98 372.40,557.00 372.92,558.81 373.45,560.34 374.00,561.00 374.55,560.49 375.11,559.24 375.60,557.70 375.83,556.58 376.02,555.09 376.18,553.35 376.31,551.48 376.42,549.58 376.53,547.77 376.63,546.16 376.74,544.87 376.86,544.01 377.00,543.70 377.18,544.30 377.34,545.80 377.50,547.76 377.69,549.74 377.95,551.31 378.30,552.00 379.12,551.01 380.00,550.00 380.44,550.58 380.82,551.90 381.19,553.63 381.56,555.45 381.95,557.01 382.40,558.00 383.05,558.59 383.70,558.70 384.25,557.73 384.74,555.90 385.21,554.11 385.70,553.30 386.25,554.19 386.82,555.99 387.60,557.30 388.53,557.62 389.61,557.61 390.70,557.30 391.63,556.73 392.59,555.86 393.54,554.81 394.45,553.71 395.30,552.70 396.13,551.67 396.88,550.65 397.61,549.61 398.40,548.50 399.17,547.30 399.92,545.97 400.72,544.64 401.63,543.44 402.70,542.50 403.80,541.92 405.03,541.50 406.37,541.20 407.74,541.00 409.10,540.88 410.40,540.80 411.80,540.76 413.17,540.80 414.54,540.94 415.91,541.20 417.30,541.60 418.52,542.09 419.75,542.70 420.99,543.42 422.23,544.21 423.47,545.06 424.70,545.93 425.90,546.80 427.00,547.60 428.09,548.43 429.17,549.27 430.25,550.15 431.31,551.07 432.35,552.02 433.39,553.03 434.40,554.10 435.31,555.14 436.21,556.23 437.08,557.38 437.95,558.57 438.80,559.79 439.65,561.03 440.49,562.30 441.33,563.57 442.16,564.84 443.00,566.10 443.80,567.31 444.59,568.53 445.38,569.76 446.17,571.01 446.95,572.26 447.73,573.53 448.51,574.80 449.28,576.07 450.06,577.35 450.83,578.62 451.60,579.90 452.32,581.09 453.03,582.29 453.74,583.49 454.45,584.70 455.16,585.91 455.86,587.12 456.57,588.33 457.27,589.55 457.98,590.76 458.68,591.98 459.39,593.19 460.10,594.40 460.81,595.61 461.52,596.81 462.23,598.01 462.94,599.20 463.64,600.40 464.35,601.60 465.07,602.80 465.78,604.01 466.50,605.24 467.23,606.47 467.96,607.73 468.70,609.00 469.43,610.25 470.18,611.56 470.97,612.91 471.76,614.30 472.57,615.71 473.38,617.12 474.19,618.52 474.98,619.91 475.75,621.25 476.49,622.55 477.19,623.79 477.85,624.95 478.45,626.03 479.00,627.00 479.40,627.72" fill="none" stroke="#000000" stroke-width="2.9" stroke-linejoin="round" stroke-linecap="butt"/>
<polyline clip-path="url(#cR5)" points="266.80,580.00 267.03,579.35 267.30,578.50 267.50,577.69 267.73,576.60 267.99,575.29 268.28,573.81 268.58,572.22 268.90,570.56 269.22,568.91 269.55,567.30 269.88,565.79 270.19,564.44 270.50,563.30 270.99,561.74 271.47,560.39 271.96,559.17 272.50,558.00 273.14,556.68 273.81,555.46 274.60,554.40 275.48,553.60 276.45,552.94 277.40,552.40 278.48,551.92 279.50,551.60 280.26,551.31 281.00,551.30 281.65,551.87 282.33,552.91 283.03,554.16 283.69,555.41 284.30,556.40 285.15,557.64 286.00,558.50 286.74,558.84 287.50,558.80 288.12,558.16 288.71,557.04 289.32,555.79 290.00,554.80 290.84,554.02 291.74,553.39 292.70,553.00 293.76,552.94 294.88,553.11 296.00,553.30 297.08,553.47 298.16,553.65 299.30,553.70 300.40,553.55 301.55,553.28 302.74,552.96 304.00,552.70 305.26,552.53 306.59,552.38 307.96,552.26 309.34,552.13 310.70,552.00 312.04,551.88 313.40,551.78 314.75,551.67 316.06,551.52 317.30,551.30 318.57,550.86 319.78,550.28 320.92,549.81 322.00,549.70 323.13,550.25 324.16,551.20 325.30,552.00 326.40,552.37 327.60,552.61 328.82,552.80 330.00,553.00 331.37,553.19 332.70,553.35 334.00,553.70 335.02,554.20 336.01,554.83 337.00,555.54 338.00,556.30 338.92,557.06 339.85,557.91 340.78,558.78 341.73,559.60 342.70,560.30 343.91,561.08 345.21,561.85 346.40,562.35 347.30,562.30 347.78,561.53 347.96,560.16 347.98,558.45 347.95,556.65 348.00,555.00 348.12,553.50 348.24,551.77 348.36,550.02 348.48,548.49 348.59,547.41 348.70,547.00 348.81,547.40 348.91,548.46 349.00,549.96 349.10,551.70 349.20,553.45 349.30,555.00 349.36,556.34 349.36,557.77 349.35,559.24 349.36,560.68 349.45,562.04 349.65,563.27 350.00,564.30 350.65,565.30 351.48,566.11 352.39,566.79 353.30,567.40 354.47,568.22 355.67,568.92 356.70,569.00 357.29,568.33 357.70,567.09 358.02,565.51 358.33,563.84 358.70,562.30 359.12,561.04 359.58,559.80 360.04,558.54 360.50,557.22 360.93,555.82 361.30,554.30 361.53,553.03 361.72,551.51 361.90,549.81 362.05,548.00 362.19,546.15 362.32,544.32 362.44,542.58 362.56,541.01 362.68,539.67 362.81,538.62 362.95,537.94 363.10,537.70 363.27,538.12 363.43,539.25 363.58,540.89 363.73,542.84 363.89,544.91 364.08,546.88 364.30,548.58 364.57,549.78 364.90,550.30 365.80,549.76 366.70,548.30 367.01,547.26 367.26,545.78 367.45,544.01 367.60,542.10 367.72,540.20 367.84,538.46 367.97,537.03 368.11,536.06 368.30,535.70 368.56,536.08 368.83,537.10 369.12,538.56 369.41,540.28 369.70,542.06 370.00,543.70 370.23,544.93 370.46,546.27 370.68,547.69 370.92,549.16 371.15,550.63 371.39,552.09 371.63,553.49 371.88,554.79 372.14,555.98 372.40,557.00 372.92,558.81 373.45,560.34 374.00,561.00 374.55,560.49 375.11,559.24 375.60,557.70 375.83,556.58 376.02,555.09 376.17,553.36 376.30,551.48 376.42,549.58 376.52,547.77 376.62,546.17 376.73,544.88 376.85,544.02 377.00,543.70 377.21,544.43 377.41,546.20 377.63,548.34 377.91,550.16 378.30,551.00 379.12,550.00 380.00,549.00 380.44,549.58 380.82,550.90 381.19,552.63 381.56,554.45 381.95,556.01 382.40,557.00 383.05,557.59 383.70,557.70 384.25,556.73 384.74,554.90 385.21,553.11 385.70,552.30 386.25,553.19 386.82,554.99 387.60,556.30 388.53,556.62 389.61,556.61 390.70,556.30 391.63,555.73 392.59,554.86 393.54,553.82 394.46,552.72 395.30,551.70 396.14,550.63 396.88,549.55 397.61,548.45 398.40,547.30 399.16,546.09 399.92,544.76 400.72,543.44 401.63,542.24 402.70,541.30 403.80,540.72 405.03,540.30 406.37,540.00 407.74,539.80 409.10,539.68 410.40,539.60 411.80,539.56 413.17,539.60 414.54,539.74 415.91,540.00 417.30,540.40 418.52,540.88 419.76,541.48 421.00,542.18 422.25,542.96 423.49,543.80 424.71,544.69 425.90,545.60 426.89,546.40 427.87,547.25 428.83,548.13 429.78,549.06 430.72,550.01 431.65,550.99 432.58,552.01 433.49,553.04 434.40,554.10 435.30,555.19 436.18,556.31 437.06,557.47 437.92,558.65 438.78,559.86 439.63,561.09 440.48,562.33 441.32,563.58 442.16,564.84 443.00,566.10 443.80,567.31 444.59,568.53 445.38,569.76 446.17,571.01 446.95,572.26 447.73,573.53 448.51,574.80 449.28,576.07 450.06,577.35 450.83,578.62 451.60,579.90 452.32,581.09 453.03,582.29 453.74,583.49 454.45,584.70 455.16,585.91 455.86,587.12 456.57,588.33 457.27,589.55 457.98,590.76 458.68,591.98 459.39,593.19 460.10,594.40 460.81,595.61 461.52,596.81 462.23,598.01 462.94,599.20 463.64,600.40 464.35,601.60 465.07,602.80 465.78,604.01 466.50,605.24 467.23,606.47 467.96,607.73 468.70,609.00 469.43,610.25 470.18,611.56 470.97,612.91 471.76,614.30 472.57,615.71 473.38,617.12 474.19,618.52 474.98,619.91 475.75,621.25 476.49,622.55 477.19,623.79 477.85,624.95 478.45,626.03 479.00,627.00 479.40,627.72" fill="none" stroke="#0000ff" stroke-width="2.9" stroke-linejoin="round" stroke-linecap="butt"/>
<rect x="47.5" y="1.3" width="217.0" height="256.0" fill="none" stroke="#000" stroke-width="2.6"/>
<rect x="47.5" y="257.3" width="217.0" height="255.99999999999994" fill="none" stroke="#000" stroke-width="2.6"/>
<rect x="47.5" y="513.3" width="217.0" height="128.0" fill="none" stroke="#000" stroke-width="2.6"/>
<rect x="264.5" y="1.3" width="216.7" height="128.0" fill="none" stroke="#000" stroke-width="2.6"/>
<rect x="264.5" y="129.3" width="216.7" height="128.0" fill="none" stroke="#000" stroke-width="2.6"/>
<rect x="264.5" y="257.3" width="216.7" height="128.0" fill="none" stroke="#000" stroke-width="2.6"/>
<rect x="264.5" y="385.3" width="216.7" height="127.99999999999994" fill="none" stroke="#000" stroke-width="2.6"/>
<rect x="264.5" y="513.3" width="216.7" height="128.0" fill="none" stroke="#000" stroke-width="2.6"/>
<rect x="46.20" y="0" width="436.30" height="2.85" fill="#000"/>
<line x1="43.00" y1="246.63" x2="47.50" y2="246.63" stroke="#000" stroke-width="2.2"/>
<text transform="translate(25.12,251.13) scale(1.0000,1)" font-size="11.2" fill="#000" stroke="#000" stroke-width="0.18" >38</text>
<line x1="43.00" y1="225.30" x2="47.50" y2="225.30" stroke="#000" stroke-width="2.2"/>
<text transform="translate(25.17,229.80) scale(1.0000,1)" font-size="11.2" fill="#000" stroke="#000" stroke-width="0.18" >39</text>
<line x1="43.00" y1="203.96" x2="47.50" y2="203.96" stroke="#000" stroke-width="2.2"/>
<text transform="translate(25.12,208.46) scale(1.0000,1)" font-size="11.2" fill="#000" stroke="#000" stroke-width="0.18" >40</text>
<line x1="43.00" y1="182.63" x2="47.50" y2="182.63" stroke="#000" stroke-width="2.2"/>
<text transform="translate(25.23,187.13) scale(1.0000,1)" font-size="11.2" fill="#000" stroke="#000" stroke-width="0.18" >41</text>
<line x1="43.00" y1="161.30" x2="47.50" y2="161.30" stroke="#000" stroke-width="2.2"/>
<text transform="translate(25.23,165.80) scale(1.0000,1)" font-size="11.2" fill="#000" stroke="#000" stroke-width="0.18" >42</text>
<line x1="43.00" y1="139.96" x2="47.50" y2="139.96" stroke="#000" stroke-width="2.2"/>
<text transform="translate(25.17,144.46) scale(1.0000,1)" font-size="11.2" fill="#000" stroke="#000" stroke-width="0.18" >43</text>
<line x1="43.00" y1="118.63" x2="47.50" y2="118.63" stroke="#000" stroke-width="2.2"/>
<text transform="translate(25.00,123.13) scale(1.0000,1)" font-size="11.2" fill="#000" stroke="#000" stroke-width="0.18" >44</text>
<line x1="43.00" y1="97.30" x2="47.50" y2="97.30" stroke="#000" stroke-width="2.2"/>
<text transform="translate(25.12,101.80) scale(1.0000,1)" font-size="11.2" fill="#000" stroke="#000" stroke-width="0.18" >45</text>
<line x1="43.00" y1="75.97" x2="47.50" y2="75.97" stroke="#000" stroke-width="2.2"/>
<text transform="translate(25.17,80.47) scale(1.0000,1)" font-size="11.2" fill="#000" stroke="#000" stroke-width="0.18" >46</text>
<line x1="43.00" y1="54.63" x2="47.50" y2="54.63" stroke="#000" stroke-width="2.2"/>
<text transform="translate(25.23,59.13) scale(1.0000,1)" font-size="11.2" fill="#000" stroke="#000" stroke-width="0.18" >47</text>
<line x1="43.00" y1="33.30" x2="47.50" y2="33.30" stroke="#000" stroke-width="2.2"/>
<text transform="translate(25.12,37.80) scale(1.0000,1)" font-size="11.2" fill="#000" stroke="#000" stroke-width="0.18" >48</text>
<line x1="43.00" y1="11.97" x2="47.50" y2="11.97" stroke="#000" stroke-width="2.2"/>
<text transform="translate(25.17,16.47) scale(1.0000,1)" font-size="11.2" fill="#000" stroke="#000" stroke-width="0.18" >49</text>
<line x1="43.00" y1="502.63" x2="47.50" y2="502.63" stroke="#000" stroke-width="2.2"/>
<text transform="translate(25.17,507.13) scale(1.0000,1)" font-size="11.2" fill="#000" stroke="#000" stroke-width="0.18" >36</text>
<line x1="43.00" y1="481.30" x2="47.50" y2="481.30" stroke="#000" stroke-width="2.2"/>
<text transform="translate(25.23,485.80) scale(1.0000,1)" font-size="11.2" fill="#000" stroke="#000" stroke-width="0.18" >37</text>
<line x1="43.00" y1="459.96" x2="47.50" y2="459.96" stroke="#000" stroke-width="2.2"/>
<text transform="translate(25.12,464.46) scale(1.0000,1)" font-size="11.2" fill="#000" stroke="#000" stroke-width="0.18" >38</text>
<line x1="43.00" y1="438.63" x2="47.50" y2="438.63" stroke="#000" stroke-width="2.2"/>
<text transform="translate(25.17,443.13) scale(1.0000,1)" font-size="11.2" fill="#000" stroke="#000" stroke-width="0.18" >39</text>
<line x1="43.00" y1="417.30" x2="47.50" y2="417.30" stroke="#000" stroke-width="2.2"/>
<text transform="translate(25.12,421.80) scale(1.0000,1)" font-size="11.2" fill="#000" stroke="#000" stroke-width="0.18" >40</text>
<line x1="43.00" y1="395.96" x2="47.50" y2="395.96" stroke="#000" stroke-width="2.2"/>
<text transform="translate(25.23,400.46) scale(1.0000,1)" font-size="11.2" fill="#000" stroke="#000" stroke-width="0.18" >41</text>
<line x1="43.00" y1="374.63" x2="47.50" y2="374.63" stroke="#000" stroke-width="2.2"/>
<text transform="translate(25.23,379.13) scale(1.0000,1)" font-size="11.2" fill="#000" stroke="#000" stroke-width="0.18" >42</text>
<line x1="43.00" y1="353.30" x2="47.50" y2="353.30" stroke="#000" stroke-width="2.2"/>
<text transform="translate(25.17,357.80) scale(1.0000,1)" font-size="11.2" fill="#000" stroke="#000" stroke-width="0.18" >43</text>
<line x1="43.00" y1="331.97" x2="47.50" y2="331.97" stroke="#000" stroke-width="2.2"/>
<text transform="translate(25.00,336.47) scale(1.0000,1)" font-size="11.2" fill="#000" stroke="#000" stroke-width="0.18" >44</text>
<line x1="43.00" y1="310.63" x2="47.50" y2="310.63" stroke="#000" stroke-width="2.2"/>
<text transform="translate(25.12,315.13) scale(1.0000,1)" font-size="11.2" fill="#000" stroke="#000" stroke-width="0.18" >45</text>
<line x1="43.00" y1="289.30" x2="47.50" y2="289.30" stroke="#000" stroke-width="2.2"/>
<text transform="translate(25.17,293.80) scale(1.0000,1)" font-size="11.2" fill="#000" stroke="#000" stroke-width="0.18" >46</text>
<line x1="43.00" y1="267.97" x2="47.50" y2="267.97" stroke="#000" stroke-width="2.2"/>
<text transform="translate(25.23,272.47) scale(1.0000,1)" font-size="11.2" fill="#000" stroke="#000" stroke-width="0.18" >47</text>
<line x1="43.00" y1="609.30" x2="47.50" y2="609.30" stroke="#000" stroke-width="2.2"/>
<text transform="translate(25.23,613.80) scale(1.0000,1)" font-size="11.2" fill="#000" stroke="#000" stroke-width="0.18" >42</text>
<line x1="43.00" y1="566.63" x2="47.50" y2="566.63" stroke="#000" stroke-width="2.2"/>
<text transform="translate(25.00,571.13) scale(1.0000,1)" font-size="11.2" fill="#000" stroke="#000" stroke-width="0.18" >44</text>
<line x1="43.00" y1="523.97" x2="47.50" y2="523.97" stroke="#000" stroke-width="2.2"/>
<text transform="translate(25.17,528.47) scale(1.0000,1)" font-size="11.2" fill="#000" stroke="#000" stroke-width="0.18" >46</text>
<line x1="481.20" y1="97.30" x2="485.70" y2="97.30" stroke="#000" stroke-width="2.2"/>
<text transform="translate(490.42,101.80) scale(1.0000,1)" font-size="11.2" fill="#000" stroke="#000" stroke-width="0.18" >42</text>
<line x1="481.20" y1="54.63" x2="485.70" y2="54.63" stroke="#000" stroke-width="2.2"/>
<text transform="translate(490.42,59.13) scale(1.0000,1)" font-size="11.2" fill="#000" stroke="#000" stroke-width="0.18" >44</text>
<line x1="481.20" y1="11.97" x2="485.70" y2="11.97" stroke="#000" stroke-width="2.2"/>
<text transform="translate(490.42,16.47) scale(1.0000,1)" font-size="11.2" fill="#000" stroke="#000" stroke-width="0.18" >46</text>
<line x1="481.20" y1="225.30" x2="485.70" y2="225.30" stroke="#000" stroke-width="2.2"/>
<text transform="translate(490.42,229.80) scale(1.0000,1)" font-size="11.2" fill="#000" stroke="#000" stroke-width="0.18" >42</text>
<line x1="481.20" y1="182.63" x2="485.70" y2="182.63" stroke="#000" stroke-width="2.2"/>
<text transform="translate(490.42,187.13) scale(1.0000,1)" font-size="11.2" fill="#000" stroke="#000" stroke-width="0.18" >44</text>
<line x1="481.20" y1="139.97" x2="485.70" y2="139.97" stroke="#000" stroke-width="2.2"/>
<text transform="translate(490.42,144.47) scale(1.0000,1)" font-size="11.2" fill="#000" stroke="#000" stroke-width="0.18" >46</text>
<line x1="481.20" y1="353.30" x2="485.70" y2="353.30" stroke="#000" stroke-width="2.2"/>
<text transform="translate(490.42,357.80) scale(1.0000,1)" font-size="11.2" fill="#000" stroke="#000" stroke-width="0.18" >42</text>
<line x1="481.20" y1="310.63" x2="485.70" y2="310.63" stroke="#000" stroke-width="2.2"/>
<text transform="translate(490.42,315.13) scale(1.0000,1)" font-size="11.2" fill="#000" stroke="#000" stroke-width="0.18" >44</text>
<line x1="481.20" y1="267.97" x2="485.70" y2="267.97" stroke="#000" stroke-width="2.2"/>
<text transform="translate(490.42,272.47) scale(1.0000,1)" font-size="11.2" fill="#000" stroke="#000" stroke-width="0.18" >46</text>
<line x1="481.20" y1="481.30" x2="485.70" y2="481.30" stroke="#000" stroke-width="2.2"/>
<text transform="translate(490.42,485.80) scale(1.0000,1)" font-size="11.2" fill="#000" stroke="#000" stroke-width="0.18" >42</text>
<line x1="481.20" y1="438.63" x2="485.70" y2="438.63" stroke="#000" stroke-width="2.2"/>
<text transform="translate(490.42,443.13) scale(1.0000,1)" font-size="11.2" fill="#000" stroke="#000" stroke-width="0.18" >44</text>
<line x1="481.20" y1="395.97" x2="485.70" y2="395.97" stroke="#000" stroke-width="2.2"/>
<text transform="translate(490.42,400.47) scale(1.0000,1)" font-size="11.2" fill="#000" stroke="#000" stroke-width="0.18" >46</text>
<line x1="481.20" y1="609.30" x2="485.70" y2="609.30" stroke="#000" stroke-width="2.2"/>
<text transform="translate(490.42,613.80) scale(1.0000,1)" font-size="11.2" fill="#000" stroke="#000" stroke-width="0.18" >42</text>
<line x1="481.20" y1="566.63" x2="485.70" y2="566.63" stroke="#000" stroke-width="2.2"/>
<text transform="translate(490.42,571.13) scale(1.0000,1)" font-size="11.2" fill="#000" stroke="#000" stroke-width="0.18" >44</text>
<line x1="481.20" y1="523.97" x2="485.70" y2="523.97" stroke="#000" stroke-width="2.2"/>
<text transform="translate(490.42,528.47) scale(1.0000,1)" font-size="11.2" fill="#000" stroke="#000" stroke-width="0.18" >46</text>
<line x1="52.60" y1="641.30" x2="52.60" y2="645.80" stroke="#000" stroke-width="2.2"/>
<text transform="translate(44.78,658.80) scale(1.0500,1)" font-size="10.8" fill="#000" stroke="#000" stroke-width="0.18" >0.1</text>
<line x1="104.90" y1="641.30" x2="104.90" y2="645.80" stroke="#000" stroke-width="2.2"/>
<text transform="translate(101.61,658.80) scale(1.0500,1)" font-size="10.8" fill="#000" stroke="#000" stroke-width="0.18" >1</text>
<line x1="157.20" y1="641.30" x2="157.20" y2="645.80" stroke="#000" stroke-width="2.2"/>
<text transform="translate(150.71,658.80) scale(1.0500,1)" font-size="10.8" fill="#000" stroke="#000" stroke-width="0.18" >10</text>
<line x1="209.50" y1="641.30" x2="209.50" y2="645.80" stroke="#000" stroke-width="2.2"/>
<text transform="translate(199.86,658.80) scale(1.0500,1)" font-size="10.8" fill="#000" stroke="#000" stroke-width="0.18" >100</text>
<line x1="321.90" y1="641.30" x2="321.90" y2="645.80" stroke="#000" stroke-width="2.2"/>
<text transform="translate(318.61,658.80) scale(1.0500,1)" font-size="10.8" fill="#000" stroke="#000" stroke-width="0.18" >1</text>
<line x1="426.50" y1="641.30" x2="426.50" y2="645.80" stroke="#000" stroke-width="2.2"/>
<text transform="translate(416.86,658.80) scale(1.0500,1)" font-size="10.8" fill="#000" stroke="#000" stroke-width="0.18" >100</text>
<text transform="translate(135.93,675.60) scale(1.2087,1)" font-size="11.6" font-style="italic" fill="#000" stroke="#000" stroke-width="0.18" >λ</text>
<text transform="translate(146.22,675.60) scale(1.3263,1)" font-size="11.6" fill="#000" stroke="#000" stroke-width="0.18" >[μm]</text>
<text transform="translate(352.73,675.60) scale(1.2087,1)" font-size="11.6" font-style="italic" fill="#000" stroke="#000" stroke-width="0.18" >λ</text>
<text transform="translate(363.02,675.60) scale(1.3263,1)" font-size="11.6" fill="#000" stroke="#000" stroke-width="0.18" >[μm]</text>
<g transform="translate(14.90,436.90) rotate(-90)">
<text transform="translate(-0.88,0.00) scale(1.1477,1)" font-size="11.8" fill="#000" stroke="#000" stroke-width="0.18" >log(</text>
<text transform="translate(22.68,0.00) scale(1.0833,1)" font-size="11.8" font-style="italic" fill="#000" stroke="#000" stroke-width="0.18" >λ</text>
<text transform="translate(28.93,0.00) scale(1.0430,1)" font-size="11.8" font-style="italic" fill="#000" stroke="#000" stroke-width="0.18" >L</text>
<text transform="translate(36.58,2.50) scale(1.0185,1)" font-size="8.3" font-style="italic" fill="#000" stroke="#000" stroke-width="0.18" >λ</text>
<text transform="translate(42.99,0.00) scale(0.9126,1)" font-size="11.8" fill="#000" stroke="#000" stroke-width="0.18" >)</text>
<text transform="translate(49.65,0.00) scale(1.2725,1)" font-size="11.8" fill="#000" stroke="#000" stroke-width="0.18" >[erg</text>
<text transform="translate(78.94,0.00) scale(1.0131,1)" font-size="11.8" fill="#000" stroke="#000" stroke-width="0.18" >s</text>
<text transform="translate(85.81,-4.80) scale(1.4160,1)" font-size="8.3" fill="#000" stroke="#000" stroke-width="0.18" >−</text>
<text transform="translate(92.94,-4.80) scale(1.0647,1)" font-size="8.3" fill="#000" stroke="#000" stroke-width="0.18" >1</text>
<text transform="translate(98.65,0.00) scale(1.2603,1)" font-size="11.8" fill="#000" stroke="#000" stroke-width="0.18" >]</text>
</g>
<g transform="translate(519.90,373.00) rotate(-90)">
<text transform="translate(-0.88,0.00) scale(1.1477,1)" font-size="11.8" fill="#000" stroke="#000" stroke-width="0.18" >log(</text>
<text transform="translate(22.68,0.00) scale(1.0833,1)" font-size="11.8" font-style="italic" fill="#000" stroke="#000" stroke-width="0.18" >λ</text>
<text transform="translate(28.93,0.00) scale(1.0430,1)" font-size="11.8" font-style="italic" fill="#000" stroke="#000" stroke-width="0.18" >L</text>
<text transform="translate(36.58,2.50) scale(1.0185,1)" font-size="8.3" font-style="italic" fill="#000" stroke="#000" stroke-width="0.18" >λ</text>
<text transform="translate(42.99,0.00) scale(0.9126,1)" font-size="11.8" fill="#000" stroke="#000" stroke-width="0.18" >)</text>
<text transform="translate(49.65,0.00) scale(1.2725,1)" font-size="11.8" fill="#000" stroke="#000" stroke-width="0.18" >[erg</text>
<text transform="translate(78.94,0.00) scale(1.0131,1)" font-size="11.8" fill="#000" stroke="#000" stroke-width="0.18" >s</text>
<text transform="translate(85.81,-4.80) scale(1.4160,1)" font-size="8.3" fill="#000" stroke="#000" stroke-width="0.18" >−</text>
<text transform="translate(92.94,-4.80) scale(1.0647,1)" font-size="8.3" fill="#000" stroke="#000" stroke-width="0.18" >1</text>
<text transform="translate(98.65,0.00) scale(1.2603,1)" font-size="11.8" fill="#000" stroke="#000" stroke-width="0.18" >]</text>
</g>
<text transform="translate(54.87,220.60) scale(1.0293,1)" font-size="11.4" fill="#000" stroke="#000" stroke-width="0.18" >Stellar Mass</text>
<text transform="translate(123.33,220.60) scale(0.9649,1)" font-size="11.4" fill="#000" stroke="#000" stroke-width="0.18" >[</text>
<text transform="translate(127.30,220.60) scale(0.8826,1)" font-size="11.4" font-style="italic" fill="#000" stroke="#000" stroke-width="0.18" >M</text>
<circle cx="141.6" cy="220.0" r="2.25" fill="none" stroke="#000" stroke-width="0.85"/><circle cx="141.6" cy="220.0" r="0.6" fill="#000"/>
<text transform="translate(147.59,220.60) scale(0.9447,1)" font-size="11.4" fill="#000" stroke="#000" stroke-width="0.18" >]</text>
<line x1="56.00" y1="231.00" x2="69.40" y2="231.00" stroke="#1f77b4" stroke-width="2.9"/>
<text transform="translate(72.68,234.85) scale(1.0800,1)" font-size="11.4" fill="#000" stroke="#000" stroke-width="0.18" >1e6</text>
<line x1="56.00" y1="241.60" x2="69.40" y2="241.60" stroke="#ff7f0e" stroke-width="2.9"/>
<text transform="translate(72.68,245.45) scale(1.0800,1)" font-size="11.4" fill="#000" stroke="#000" stroke-width="0.18" >1e7</text>
<line x1="103.50" y1="231.00" x2="116.90" y2="231.00" stroke="#2ca02c" stroke-width="2.9"/>
<text transform="translate(120.38,234.85) scale(1.0800,1)" font-size="11.4" fill="#000" stroke="#000" stroke-width="0.18" >1e8</text>
<line x1="103.50" y1="241.60" x2="116.90" y2="241.60" stroke="#d62728" stroke-width="2.9"/>
<text transform="translate(120.38,245.45) scale(1.0800,1)" font-size="11.4" fill="#000" stroke="#000" stroke-width="0.18" >1e9</text>
<line x1="150.00" y1="231.00" x2="163.40" y2="231.00" stroke="#8c564b" stroke-width="2.9"/>
<text transform="translate(167.08,234.85) scale(1.0800,1)" font-size="11.4" fill="#000" stroke="#000" stroke-width="0.18" >1e10</text>
<line x1="150.00" y1="241.60" x2="163.40" y2="241.60" stroke="#e377c2" stroke-width="2.9"/>
<text transform="translate(167.08,245.45) scale(1.0800,1)" font-size="11.4" fill="#000" stroke="#000" stroke-width="0.18" >1e11</text>
<line x1="204.30" y1="231.00" x2="217.70" y2="231.00" stroke="#7f7f7f" stroke-width="2.9"/>
<text transform="translate(221.08,234.85) scale(1.0800,1)" font-size="11.4" fill="#000" stroke="#000" stroke-width="0.18" >1e12</text>
<line x1="204.30" y1="241.60" x2="217.70" y2="241.60" stroke="#bcbd22" stroke-width="2.9"/>
<text transform="translate(221.08,245.45) scale(1.0800,1)" font-size="11.4" fill="#000" stroke="#000" stroke-width="0.18" >1e13</text>
<text transform="translate(54.84,476.80) scale(1.0862,1)" font-size="11.4" fill="#000" stroke="#000" stroke-width="0.18" >Stellar Age [Myr]</text>
<line x1="56.00" y1="486.90" x2="69.40" y2="486.90" stroke="#1f77b4" stroke-width="2.9"/>
<text transform="translate(72.68,490.75) scale(1.0800,1)" font-size="11.4" fill="#000" stroke="#000" stroke-width="0.18" >1</text>
<line x1="56.00" y1="497.70" x2="69.40" y2="497.70" stroke="#2ca02c" stroke-width="2.9"/>
<text transform="translate(72.68,501.55) scale(1.0800,1)" font-size="11.4" fill="#000" stroke="#000" stroke-width="0.18" >10</text>
<line x1="96.60" y1="486.90" x2="110.00" y2="486.90" stroke="#9467bd" stroke-width="2.9"/>
<text transform="translate(113.68,490.75) scale(1.0800,1)" font-size="11.4" fill="#000" stroke="#000" stroke-width="0.18" >100</text>
<line x1="96.60" y1="497.70" x2="110.00" y2="497.70" stroke="#e377c2" stroke-width="2.9"/>
<text transform="translate(113.68,501.55) scale(1.0800,1)" font-size="11.4" fill="#000" stroke="#000" stroke-width="0.18" >1000</text>
<line x1="150.70" y1="486.90" x2="164.10" y2="486.90" stroke="#bcbd22" stroke-width="2.9"/>
<text transform="translate(167.68,490.75) scale(1.0800,1)" font-size="11.4" fill="#000" stroke="#000" stroke-width="0.18" >13000</text>
<text transform="translate(54.85,604.80) scale(1.0703,1)" font-size="11.4" fill="#000" stroke="#000" stroke-width="0.18" >Optical Depth</text>
<text transform="translate(132.60,604.80) scale(0.7282,1)" font-size="11.4" fill="#000" stroke="#000" stroke-width="0.18" >(</text>
<text transform="translate(135.56,604.30) scale(1.1848,1)" font-size="11.4" font-style="italic" fill="#000" stroke="#000" stroke-width="0.18" >τ</text>
<text transform="translate(141.49,607.20) scale(0.9130,1)" font-size="7.8" font-style="italic" fill="#000" stroke="#000" stroke-width="0.18" >V</text>
<text transform="translate(149.30,604.80) scale(0.8772,1)" font-size="11.4" fill="#000" stroke="#000" stroke-width="0.18" >)</text>
<line x1="56.00" y1="614.90" x2="69.40" y2="614.90" stroke="#1f77b4" stroke-width="2.9"/>
<text transform="translate(73.11,618.75) scale(1.0800,1)" font-size="11.4" fill="#000" stroke="#000" stroke-width="0.18" >0.10</text>
<line x1="56.00" y1="625.40" x2="69.40" y2="625.40" stroke="#ff7f0e" stroke-width="2.9"/>
<text transform="translate(73.11,629.25) scale(1.0800,1)" font-size="11.4" fill="#000" stroke="#000" stroke-width="0.18" >0.22</text>
<line x1="106.70" y1="614.90" x2="120.10" y2="614.90" stroke="#2ca02c" stroke-width="2.9"/>
<text transform="translate(124.01,618.75) scale(1.0800,1)" font-size="11.4" fill="#000" stroke="#000" stroke-width="0.18" >0.46</text>
<line x1="106.70" y1="625.40" x2="120.10" y2="625.40" stroke="#9467bd" stroke-width="2.9"/>
<text transform="translate(123.58,629.25) scale(1.0800,1)" font-size="11.4" fill="#000" stroke="#000" stroke-width="0.18" >1.0</text>
<line x1="157.70" y1="614.90" x2="171.10" y2="614.90" stroke="#8c564b" stroke-width="2.9"/>
<text transform="translate(173.88,618.75) scale(1.0800,1)" font-size="11.4" fill="#000" stroke="#000" stroke-width="0.18" >2.2</text>
<line x1="157.70" y1="625.40" x2="171.10" y2="625.40" stroke="#7f7f7f" stroke-width="2.9"/>
<text transform="translate(174.19,629.25) scale(1.0800,1)" font-size="11.4" fill="#000" stroke="#000" stroke-width="0.18" >4.6</text>
<line x1="201.90" y1="614.90" x2="215.30" y2="614.90" stroke="#bcbd22" stroke-width="2.9"/>
<text transform="translate(218.78,618.75) scale(1.0800,1)" font-size="11.4" fill="#000" stroke="#000" stroke-width="0.18" >10</text>
<text transform="translate(271.50,92.70) scale(1.0983,1)" font-size="11.4" fill="#000" stroke="#000" stroke-width="0.18" >Metallicity</text>
<text transform="translate(330.50,92.70) scale(0.7282,1)" font-size="11.4" fill="#000" stroke="#000" stroke-width="0.18" >(</text>
<text transform="translate(333.84,92.70) scale(1.0633,1)" font-size="11.4" font-style="italic" fill="#000" stroke="#000" stroke-width="0.18" >Z</text>
<text transform="translate(342.72,92.70) scale(0.7422,1)" font-size="11.4" fill="#000" stroke="#000" stroke-width="0.18" >)</text>
<line x1="272.50" y1="103.30" x2="285.90" y2="103.30" stroke="#1f77b4" stroke-width="2.9"/>
<text transform="translate(290.11,107.15) scale(1.0800,1)" font-size="11.4" fill="#000" stroke="#000" stroke-width="0.18" >0.0001</text>
<line x1="272.50" y1="113.50" x2="285.90" y2="113.50" stroke="#2ca02c" stroke-width="2.9"/>
<text transform="translate(290.11,117.35) scale(1.0800,1)" font-size="11.4" fill="#000" stroke="#000" stroke-width="0.18" >0.0004</text>
<line x1="337.30" y1="103.30" x2="350.70" y2="103.30" stroke="#9467bd" stroke-width="2.9"/>
<text transform="translate(354.21,107.15) scale(1.0800,1)" font-size="11.4" fill="#000" stroke="#000" stroke-width="0.18" >0.004</text>
<line x1="337.30" y1="113.50" x2="350.70" y2="113.50" stroke="#e377c2" stroke-width="2.9"/>
<text transform="translate(354.21,117.35) scale(1.0800,1)" font-size="11.4" fill="#000" stroke="#000" stroke-width="0.18" >0.02</text>
<line x1="394.50" y1="103.30" x2="407.90" y2="103.30" stroke="#bcbd22" stroke-width="2.9"/>
<text transform="translate(411.21,107.15) scale(1.0800,1)" font-size="11.4" fill="#000" stroke="#000" stroke-width="0.18" >0.1</text>
<text transform="translate(271.95,231.30) scale(1.0634,1)" font-size="11.4" fill="#000" stroke="#000" stroke-width="0.18" >Star Formation Type</text>
<line x1="272.50" y1="241.60" x2="285.90" y2="241.60" stroke="#000000" stroke-width="2.9"/>
<text transform="translate(289.81,245.45) scale(1.0670,1)" font-size="11.4" fill="#000" stroke="#000" stroke-width="0.18" >instantaneous</text>
<line x1="375.70" y1="241.60" x2="389.10" y2="241.60" stroke="#0000ff" stroke-width="2.9"/>
<text transform="translate(392.54,245.45) scale(1.0841,1)" font-size="11.4" fill="#000" stroke="#000" stroke-width="0.18" >constant</text>
<text transform="translate(271.53,359.00) scale(1.0630,1)" font-size="11.4" fill="#000" stroke="#000" stroke-width="0.18" >Dust Model</text>
<line x1="272.50" y1="369.80" x2="285.90" y2="369.80" stroke="#000000" stroke-width="2.9"/>
<text transform="translate(289.71,373.65) scale(0.9729,1)" font-size="11.4" fill="#000" stroke="#000" stroke-width="0.18" >MW</text>
<line x1="319.00" y1="369.80" x2="332.40" y2="369.80" stroke="#0000ff" stroke-width="2.9"/>
<text transform="translate(336.40,373.65) scale(0.9749,1)" font-size="11.4" fill="#000" stroke="#000" stroke-width="0.18" >SMC Bar</text>
<line x1="391.40" y1="369.80" x2="404.80" y2="369.80" stroke="#ff0000" stroke-width="2.9"/>
<text transform="translate(408.70,373.65) scale(0.9878,1)" font-size="11.4" fill="#000" stroke="#000" stroke-width="0.18" >LMC 2</text>
<text transform="translate(271.90,487.00) scale(1.0508,1)" font-size="11.4" fill="#000" stroke="#000" stroke-width="0.18" >Global Geometry</text>
<line x1="272.50" y1="497.60" x2="285.90" y2="497.60" stroke="#000000" stroke-width="2.9"/>
<text transform="translate(290.06,501.45) scale(1.0435,1)" font-size="11.4" fill="#000" stroke="#000" stroke-width="0.18" >Shell</text>
<line x1="325.80" y1="497.60" x2="339.20" y2="497.60" stroke="#0000ff" stroke-width="2.9"/>
<text transform="translate(342.63,501.45) scale(1.0619,1)" font-size="11.4" fill="#000" stroke="#000" stroke-width="0.18" >Dusty</text>
<line x1="383.50" y1="497.60" x2="396.90" y2="497.60" stroke="#ff0000" stroke-width="2.9"/>
<text transform="translate(400.71,501.45) scale(1.0377,1)" font-size="11.4" fill="#000" stroke="#000" stroke-width="0.18" >Cloudy</text>
<text transform="translate(271.54,614.90) scale(1.0514,1)" font-size="11.4" fill="#000" stroke="#000" stroke-width="0.18" >Local Geometry</text>
<line x1="272.50" y1="625.80" x2="285.90" y2="625.80" stroke="#000000" stroke-width="2.9"/>
<text transform="translate(290.05,629.65) scale(1.0768,1)" font-size="11.4" fill="#000" stroke="#000" stroke-width="0.18" >clumpy</text>
<line x1="338.70" y1="625.80" x2="352.10" y2="625.80" stroke="#0000ff" stroke-width="2.9"/>
<text transform="translate(355.76,629.65) scale(1.0566,1)" font-size="11.4" fill="#000" stroke="#000" stroke-width="0.18" >homogeneous</text>
<line x1="321.90" y1="129.30" x2="321.90" y2="133.60" stroke="#000" stroke-width="2.2"/>
<line x1="426.50" y1="129.30" x2="426.50" y2="133.60" stroke="#000" stroke-width="2.2"/>
</svg></body></html>
